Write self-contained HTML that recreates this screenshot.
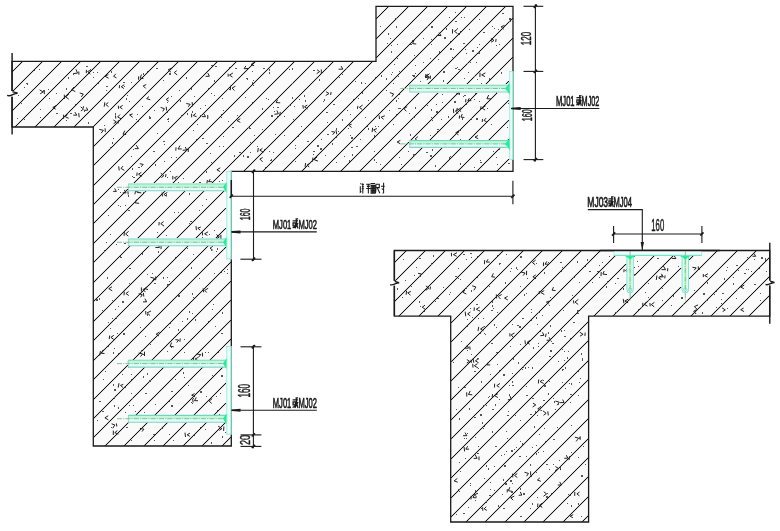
<!DOCTYPE html>
<html><head><meta charset="utf-8"><style>
html,body{margin:0;padding:0;background:#fff;}
svg{display:block;}
text{font-family:"Liberation Sans",sans-serif;}
</style></head><body>
<svg width="780" height="531" viewBox="0 0 780 531">
<rect width="780" height="531" fill="#fff"/>
<defs>
<clipPath id="cL"><polygon points="12,61.4 376,61.4 376,6.3 513,6.3 513,171.3 231.3,171.3 231.3,446 93.3,446 93.3,127 12,127"/></clipPath>
<clipPath id="cR"><polygon points="394.3,250.5 769.7,250.5 769.7,316.1 588.6,316.1 588.6,522 450.7,522 450.7,316.1 394.3,316.1"/></clipPath>
</defs>
<polygon points="12,61.4 376,61.4 376,6.3 513,6.3 513,171.3 231.3,171.3 231.3,446 93.3,446 93.3,127 12,127" fill="#fafafa"/><polygon points="394.3,250.5 769.7,250.5 769.7,316.1 588.6,316.1 588.6,522 450.7,522 450.7,316.1 394.3,316.1" fill="#fafafa"/>
<defs><path id="hp" d="M12,72v-1h1v-1h1v-1h1v-1h1v-1h1v-1h1v-1h1v-1h1v-1h1v-1h1v-1h1v1h-1v1h-1v1h-1v1h-1v1h-1v1h-1v1h-1v1h-1v1h-1v1h-1v1h-1zM12,92v-1h1v-1h1v-1h1v-1h1v-1h1v-1h1v-1h1v-1h1v-1h1v-1h1v-1h1v-1h1v-1h1v-1h1v-1h1v-1h1v-1h1v-1h1v-1h1v-1h1v-1h1v-1h1v-1h1v-1h1v-1h1v-1h1v-1h1v-1h1v-1h1v-1h1v-1h1v1h-1v1h-1v1h-1v1h-1v1h-1v1h-1v1h-1v1h-1v1h-1v1h-1v1h-1v1h-1v1h-1v1h-1v1h-1v1h-1v1h-1v1h-1v1h-1v1h-1v1h-1v1h-1v1h-1v1h-1v1h-1v1h-1v1h-1v1h-1v1h-1v1h-1v1h-1zM12,111v-1h1v-1h1v-1h1v-1h1v-1h1v-1h1v-1h1v-1h1v-1h1v-1h1v-1h1v-1h1v-1h1v-1h1v-1h1v-1h1v-1h1v-1h1v-1h1v-1h1v-1h1v-1h1v-1h1v-1h1v-1h1v-1h1v-1h1v-1h1v-1h1v-1h1v-1h1v-1h1v-1h1v-1h1v-1h1v-1h1v-1h1v-1h1v-1h1v-1h1v-1h1v-1h1v-1h1v-1h1v-1h1v-1h1v-1h1v-1h1v-1h1v-1h1v1h-1v1h-1v1h-1v1h-1v1h-1v1h-1v1h-1v1h-1v1h-1v1h-1v1h-1v1h-1v1h-1v1h-1v1h-1v1h-1v1h-1v1h-1v1h-1v1h-1v1h-1v1h-1v1h-1v1h-1v1h-1v1h-1v1h-1v1h-1v1h-1v1h-1v1h-1v1h-1v1h-1v1h-1v1h-1v1h-1v1h-1v1h-1v1h-1v1h-1v1h-1v1h-1v1h-1v1h-1v1h-1v1h-1v1h-1v1h-1v1h-1v1h-1zM15,127v-1h1v-1h1v-1h1v-1h1v-1h1v-1h1v-1h1v-1h1v-1h1v-1h1v-1h1v-1h1v-1h1v-1h1v-1h1v-1h1v-1h1v-1h1v-1h1v-1h1v-1h1v-1h1v-1h1v-1h1v-1h1v-1h1v-1h1v-1h1v-1h1v-1h1v-1h1v-1h1v-1h1v-1h1v-1h1v-1h1v-1h1v-1h1v-1h1v-1h1v-1h1v-1h1v-1h1v-1h1v-1h1v-1h1v-1h1v-1h1v-1h1v-1h1v-1h1v-1h1v-1h1v-1h1v-1h1v-1h1v-1h1v-1h1v-1h1v-1h1v-1h1v-1h1v-1h1v-1h1v-1h1v-1h1v1h-1v1h-1v1h-1v1h-1v1h-1v1h-1v1h-1v1h-1v1h-1v1h-1v1h-1v1h-1v1h-1v1h-1v1h-1v1h-1v1h-1v1h-1v1h-1v1h-1v1h-1v1h-1v1h-1v1h-1v1h-1v1h-1v1h-1v1h-1v1h-1v1h-1v1h-1v1h-1v1h-1v1h-1v1h-1v1h-1v1h-1v1h-1v1h-1v1h-1v1h-1v1h-1v1h-1v1h-1v1h-1v1h-1v1h-1v1h-1v1h-1v1h-1v1h-1v1h-1v1h-1v1h-1v1h-1v1h-1v1h-1v1h-1v1h-1v1h-1v1h-1v1h-1v1h-1v1h-1v1h-1v1h-1zM35,127v-1h1v-1h1v-1h1v-1h1v-1h1v-1h1v-1h1v-1h1v-1h1v-1h1v-1h1v-1h1v-1h1v-1h1v-1h1v-1h1v-1h1v-1h1v-1h1v-1h1v-1h1v-1h1v-1h1v-1h1v-1h1v-1h1v-1h1v-1h1v-1h1v-1h1v-1h1v-1h1v-1h1v-1h1v-1h1v-1h1v-1h1v-1h1v-1h1v-1h1v-1h1v-1h1v-1h1v-1h1v-1h1v-1h1v-1h1v-1h1v-1h1v-1h1v-1h1v-1h1v-1h1v-1h1v-1h1v-1h1v-1h1v-1h1v-1h1v-1h1v-1h1v-1h1v-1h1v-1h1v-1h1v-1h1v1h-1v1h-1v1h-1v1h-1v1h-1v1h-1v1h-1v1h-1v1h-1v1h-1v1h-1v1h-1v1h-1v1h-1v1h-1v1h-1v1h-1v1h-1v1h-1v1h-1v1h-1v1h-1v1h-1v1h-1v1h-1v1h-1v1h-1v1h-1v1h-1v1h-1v1h-1v1h-1v1h-1v1h-1v1h-1v1h-1v1h-1v1h-1v1h-1v1h-1v1h-1v1h-1v1h-1v1h-1v1h-1v1h-1v1h-1v1h-1v1h-1v1h-1v1h-1v1h-1v1h-1v1h-1v1h-1v1h-1v1h-1v1h-1v1h-1v1h-1v1h-1v1h-1v1h-1v1h-1v1h-1v1h-1zM54,127v-1h1v-1h1v-1h1v-1h1v-1h1v-1h1v-1h1v-1h1v-1h1v-1h1v-1h1v-1h1v-1h1v-1h1v-1h1v-1h1v-1h1v-1h1v-1h1v-1h1v-1h1v-1h1v-1h1v-1h1v-1h1v-1h1v-1h1v-1h1v-1h1v-1h1v-1h1v-1h1v-1h1v-1h1v-1h1v-1h1v-1h1v-1h1v-1h1v-1h1v-1h1v-1h1v-1h1v-1h1v-1h1v-1h1v-1h1v-1h1v-1h1v-1h1v-1h1v-1h1v-1h1v-1h1v-1h1v-1h1v-1h1v-1h1v-1h1v-1h1v-1h1v-1h1v-1h1v-1h1v-1h1v-1h1v1h-1v1h-1v1h-1v1h-1v1h-1v1h-1v1h-1v1h-1v1h-1v1h-1v1h-1v1h-1v1h-1v1h-1v1h-1v1h-1v1h-1v1h-1v1h-1v1h-1v1h-1v1h-1v1h-1v1h-1v1h-1v1h-1v1h-1v1h-1v1h-1v1h-1v1h-1v1h-1v1h-1v1h-1v1h-1v1h-1v1h-1v1h-1v1h-1v1h-1v1h-1v1h-1v1h-1v1h-1v1h-1v1h-1v1h-1v1h-1v1h-1v1h-1v1h-1v1h-1v1h-1v1h-1v1h-1v1h-1v1h-1v1h-1v1h-1v1h-1v1h-1v1h-1v1h-1v1h-1v1h-1v1h-1zM74,127v-1h1v-1h1v-1h1v-1h1v-1h1v-1h1v-1h1v-1h1v-1h1v-1h1v-1h1v-1h1v-1h1v-1h1v-1h1v-1h1v-1h1v-1h1v-1h1v-1h1v-1h1v-1h1v-1h1v-1h1v-1h1v-1h1v-1h1v-1h1v-1h1v-1h1v-1h1v-1h1v-1h1v-1h1v-1h1v-1h1v-1h1v-1h1v-1h1v-1h1v-1h1v-1h1v-1h1v-1h1v-1h1v-1h1v-1h1v-1h1v-1h1v-1h1v-1h1v-1h1v-1h1v-1h1v-1h1v-1h1v-1h1v-1h1v-1h1v-1h1v-1h1v-1h1v-1h1v-1h1v-1h1v-1h1v1h-1v1h-1v1h-1v1h-1v1h-1v1h-1v1h-1v1h-1v1h-1v1h-1v1h-1v1h-1v1h-1v1h-1v1h-1v1h-1v1h-1v1h-1v1h-1v1h-1v1h-1v1h-1v1h-1v1h-1v1h-1v1h-1v1h-1v1h-1v1h-1v1h-1v1h-1v1h-1v1h-1v1h-1v1h-1v1h-1v1h-1v1h-1v1h-1v1h-1v1h-1v1h-1v1h-1v1h-1v1h-1v1h-1v1h-1v1h-1v1h-1v1h-1v1h-1v1h-1v1h-1v1h-1v1h-1v1h-1v1h-1v1h-1v1h-1v1h-1v1h-1v1h-1v1h-1v1h-1v1h-1v1h-1zM93,127v-1h1v-1h1v-1h1v-1h1v-1h1v-1h1v-1h1v-1h1v-1h1v-1h1v-1h1v-1h1v-1h1v-1h1v-1h1v-1h1v-1h1v-1h1v-1h1v-1h1v-1h1v-1h1v-1h1v-1h1v-1h1v-1h1v-1h1v-1h1v-1h1v-1h1v-1h1v-1h1v-1h1v-1h1v-1h1v-1h1v-1h1v-1h1v-1h1v-1h1v-1h1v-1h1v-1h1v-1h1v-1h1v-1h1v-1h1v-1h1v-1h1v-1h1v-1h1v-1h1v-1h1v-1h1v-1h1v-1h1v-1h1v-1h1v-1h1v-1h1v-1h1v-1h1v-1h1v-1h1v-1h1v-1h1v1h-1v1h-1v1h-1v1h-1v1h-1v1h-1v1h-1v1h-1v1h-1v1h-1v1h-1v1h-1v1h-1v1h-1v1h-1v1h-1v1h-1v1h-1v1h-1v1h-1v1h-1v1h-1v1h-1v1h-1v1h-1v1h-1v1h-1v1h-1v1h-1v1h-1v1h-1v1h-1v1h-1v1h-1v1h-1v1h-1v1h-1v1h-1v1h-1v1h-1v1h-1v1h-1v1h-1v1h-1v1h-1v1h-1v1h-1v1h-1v1h-1v1h-1v1h-1v1h-1v1h-1v1h-1v1h-1v1h-1v1h-1v1h-1v1h-1v1h-1v1h-1v1h-1v1h-1v1h-1v1h-1v1h-1zM93,147v-1h1v-1h1v-1h1v-1h1v-1h1v-1h1v-1h1v-1h1v-1h1v-1h1v-1h1v-1h1v-1h1v-1h1v-1h1v-1h1v-1h1v-1h1v-1h1v-1h1v-1h1v-1h1v-1h1v-1h1v-1h1v-1h1v-1h1v-1h1v-1h1v-1h1v-1h1v-1h1v-1h1v-1h1v-1h1v-1h1v-1h1v-1h1v-1h1v-1h1v-1h1v-1h1v-1h1v-1h1v-1h1v-1h1v-1h1v-1h1v-1h1v-1h1v-1h1v-1h1v-1h1v-1h1v-1h1v-1h1v-1h1v-1h1v-1h1v-1h1v-1h1v-1h1v-1h1v-1h1v-1h1v-1h1v-1h1v-1h1v-1h1v-1h1v-1h1v-1h1v-1h1v-1h1v-1h1v-1h1v-1h1v-1h1v-1h1v-1h1v-1h1v-1h1v-1h1v-1h1v-1h1v-1h1v1h-1v1h-1v1h-1v1h-1v1h-1v1h-1v1h-1v1h-1v1h-1v1h-1v1h-1v1h-1v1h-1v1h-1v1h-1v1h-1v1h-1v1h-1v1h-1v1h-1v1h-1v1h-1v1h-1v1h-1v1h-1v1h-1v1h-1v1h-1v1h-1v1h-1v1h-1v1h-1v1h-1v1h-1v1h-1v1h-1v1h-1v1h-1v1h-1v1h-1v1h-1v1h-1v1h-1v1h-1v1h-1v1h-1v1h-1v1h-1v1h-1v1h-1v1h-1v1h-1v1h-1v1h-1v1h-1v1h-1v1h-1v1h-1v1h-1v1h-1v1h-1v1h-1v1h-1v1h-1v1h-1v1h-1v1h-1v1h-1v1h-1v1h-1v1h-1v1h-1v1h-1v1h-1v1h-1v1h-1v1h-1v1h-1v1h-1v1h-1v1h-1v1h-1v1h-1v1h-1v1h-1v1h-1zM93,166v-1h1v-1h1v-1h1v-1h1v-1h1v-1h1v-1h1v-1h1v-1h1v-1h1v-1h1v-1h1v-1h1v-1h1v-1h1v-1h1v-1h1v-1h1v-1h1v-1h1v-1h1v-1h1v-1h1v-1h1v-1h1v-1h1v-1h1v-1h1v-1h1v-1h1v-1h1v-1h1v-1h1v-1h1v-1h1v-1h1v-1h1v-1h1v-1h1v-1h1v-1h1v-1h1v-1h1v-1h1v-1h1v-1h1v-1h1v-1h1v-1h1v-1h1v-1h1v-1h1v-1h1v-1h1v-1h1v-1h1v-1h1v-1h1v-1h1v-1h1v-1h1v-1h1v-1h1v-1h1v-1h1v-1h1v-1h1v-1h1v-1h1v-1h1v-1h1v-1h1v-1h1v-1h1v-1h1v-1h1v-1h1v-1h1v-1h1v-1h1v-1h1v-1h1v-1h1v-1h1v-1h1v-1h1v-1h1v-1h1v-1h1v-1h1v-1h1v-1h1v-1h1v-1h1v-1h1v-1h1v-1h1v-1h1v-1h1v-1h1v-1h1v-1h1v-1h1v-1h1v-1h1v1h-1v1h-1v1h-1v1h-1v1h-1v1h-1v1h-1v1h-1v1h-1v1h-1v1h-1v1h-1v1h-1v1h-1v1h-1v1h-1v1h-1v1h-1v1h-1v1h-1v1h-1v1h-1v1h-1v1h-1v1h-1v1h-1v1h-1v1h-1v1h-1v1h-1v1h-1v1h-1v1h-1v1h-1v1h-1v1h-1v1h-1v1h-1v1h-1v1h-1v1h-1v1h-1v1h-1v1h-1v1h-1v1h-1v1h-1v1h-1v1h-1v1h-1v1h-1v1h-1v1h-1v1h-1v1h-1v1h-1v1h-1v1h-1v1h-1v1h-1v1h-1v1h-1v1h-1v1h-1v1h-1v1h-1v1h-1v1h-1v1h-1v1h-1v1h-1v1h-1v1h-1v1h-1v1h-1v1h-1v1h-1v1h-1v1h-1v1h-1v1h-1v1h-1v1h-1v1h-1v1h-1v1h-1v1h-1v1h-1v1h-1v1h-1v1h-1v1h-1v1h-1v1h-1v1h-1v1h-1v1h-1v1h-1v1h-1v1h-1v1h-1v1h-1v1h-1v1h-1v1h-1zM93,186v-1h1v-1h1v-1h1v-1h1v-1h1v-1h1v-1h1v-1h1v-1h1v-1h1v-1h1v-1h1v-1h1v-1h1v-1h1v-1h1v-1h1v-1h1v-1h1v-1h1v-1h1v-1h1v-1h1v-1h1v-1h1v-1h1v-1h1v-1h1v-1h1v-1h1v-1h1v-1h1v-1h1v-1h1v-1h1v-1h1v-1h1v-1h1v-1h1v-1h1v-1h1v-1h1v-1h1v-1h1v-1h1v-1h1v-1h1v-1h1v-1h1v-1h1v-1h1v-1h1v-1h1v-1h1v-1h1v-1h1v-1h1v-1h1v-1h1v-1h1v-1h1v-1h1v-1h1v-1h1v-1h1v-1h1v-1h1v-1h1v-1h1v-1h1v-1h1v-1h1v-1h1v-1h1v-1h1v-1h1v-1h1v-1h1v-1h1v-1h1v-1h1v-1h1v-1h1v-1h1v-1h1v-1h1v-1h1v-1h1v-1h1v-1h1v-1h1v-1h1v-1h1v-1h1v-1h1v-1h1v-1h1v-1h1v-1h1v-1h1v-1h1v-1h1v-1h1v-1h1v-1h1v-1h1v-1h1v-1h1v-1h1v-1h1v-1h1v-1h1v-1h1v-1h1v-1h1v-1h1v-1h1v-1h1v-1h1v-1h1v-1h1v-1h1v-1h1v-1h1v-1h1v1h-1v1h-1v1h-1v1h-1v1h-1v1h-1v1h-1v1h-1v1h-1v1h-1v1h-1v1h-1v1h-1v1h-1v1h-1v1h-1v1h-1v1h-1v1h-1v1h-1v1h-1v1h-1v1h-1v1h-1v1h-1v1h-1v1h-1v1h-1v1h-1v1h-1v1h-1v1h-1v1h-1v1h-1v1h-1v1h-1v1h-1v1h-1v1h-1v1h-1v1h-1v1h-1v1h-1v1h-1v1h-1v1h-1v1h-1v1h-1v1h-1v1h-1v1h-1v1h-1v1h-1v1h-1v1h-1v1h-1v1h-1v1h-1v1h-1v1h-1v1h-1v1h-1v1h-1v1h-1v1h-1v1h-1v1h-1v1h-1v1h-1v1h-1v1h-1v1h-1v1h-1v1h-1v1h-1v1h-1v1h-1v1h-1v1h-1v1h-1v1h-1v1h-1v1h-1v1h-1v1h-1v1h-1v1h-1v1h-1v1h-1v1h-1v1h-1v1h-1v1h-1v1h-1v1h-1v1h-1v1h-1v1h-1v1h-1v1h-1v1h-1v1h-1v1h-1v1h-1v1h-1v1h-1v1h-1v1h-1v1h-1v1h-1v1h-1v1h-1v1h-1v1h-1v1h-1v1h-1v1h-1v1h-1v1h-1v1h-1v1h-1v1h-1v1h-1v1h-1v1h-1zM93,205v-1h1v-1h1v-1h1v-1h1v-1h1v-1h1v-1h1v-1h1v-1h1v-1h1v-1h1v-1h1v-1h1v-1h1v-1h1v-1h1v-1h1v-1h1v-1h1v-1h1v-1h1v-1h1v-1h1v-1h1v-1h1v-1h1v-1h1v-1h1v-1h1v-1h1v-1h1v-1h1v-1h1v-1h1v-1h1v-1h1v-1h1v-1h1v-1h1v-1h1v-1h1v-1h1v-1h1v-1h1v-1h1v-1h1v-1h1v-1h1v-1h1v-1h1v-1h1v-1h1v-1h1v-1h1v-1h1v-1h1v-1h1v-1h1v-1h1v-1h1v-1h1v-1h1v-1h1v-1h1v-1h1v-1h1v-1h1v-1h1v-1h1v-1h1v-1h1v-1h1v-1h1v-1h1v-1h1v-1h1v-1h1v-1h1v-1h1v-1h1v-1h1v-1h1v-1h1v-1h1v-1h1v-1h1v-1h1v-1h1v-1h1v-1h1v-1h1v-1h1v-1h1v-1h1v-1h1v-1h1v-1h1v-1h1v-1h1v-1h1v-1h1v-1h1v-1h1v-1h1v-1h1v-1h1v-1h1v-1h1v-1h1v-1h1v-1h1v-1h1v-1h1v-1h1v-1h1v-1h1v-1h1v-1h1v-1h1v-1h1v-1h1v-1h1v-1h1v-1h1v-1h1v-1h1v-1h1v-1h1v-1h1v-1h1v-1h1v-1h1v-1h1v-1h1v-1h1v-1h1v-1h1v-1h1v-1h1v-1h1v-1h1v-1h1v-1h1v-1h1v1h-1v1h-1v1h-1v1h-1v1h-1v1h-1v1h-1v1h-1v1h-1v1h-1v1h-1v1h-1v1h-1v1h-1v1h-1v1h-1v1h-1v1h-1v1h-1v1h-1v1h-1v1h-1v1h-1v1h-1v1h-1v1h-1v1h-1v1h-1v1h-1v1h-1v1h-1v1h-1v1h-1v1h-1v1h-1v1h-1v1h-1v1h-1v1h-1v1h-1v1h-1v1h-1v1h-1v1h-1v1h-1v1h-1v1h-1v1h-1v1h-1v1h-1v1h-1v1h-1v1h-1v1h-1v1h-1v1h-1v1h-1v1h-1v1h-1v1h-1v1h-1v1h-1v1h-1v1h-1v1h-1v1h-1v1h-1v1h-1v1h-1v1h-1v1h-1v1h-1v1h-1v1h-1v1h-1v1h-1v1h-1v1h-1v1h-1v1h-1v1h-1v1h-1v1h-1v1h-1v1h-1v1h-1v1h-1v1h-1v1h-1v1h-1v1h-1v1h-1v1h-1v1h-1v1h-1v1h-1v1h-1v1h-1v1h-1v1h-1v1h-1v1h-1v1h-1v1h-1v1h-1v1h-1v1h-1v1h-1v1h-1v1h-1v1h-1v1h-1v1h-1v1h-1v1h-1v1h-1v1h-1v1h-1v1h-1v1h-1v1h-1v1h-1v1h-1v1h-1v1h-1v1h-1v1h-1v1h-1v1h-1v1h-1v1h-1v1h-1v1h-1v1h-1v1h-1v1h-1v1h-1v1h-1v1h-1v1h-1v1h-1v1h-1v1h-1v1h-1zM93,224v-1h1v-1h1v-1h1v-1h1v-1h1v-1h1v-1h1v-1h1v-1h1v-1h1v-1h1v-1h1v-1h1v-1h1v-1h1v-1h1v-1h1v-1h1v-1h1v-1h1v-1h1v-1h1v-1h1v-1h1v-1h1v-1h1v-1h1v-1h1v-1h1v-1h1v-1h1v-1h1v-1h1v-1h1v-1h1v1h-1v1h-1v1h-1v1h-1v1h-1v1h-1v1h-1v1h-1v1h-1v1h-1v1h-1v1h-1v1h-1v1h-1v1h-1v1h-1v1h-1v1h-1v1h-1v1h-1v1h-1v1h-1v1h-1v1h-1v1h-1v1h-1v1h-1v1h-1v1h-1v1h-1v1h-1v1h-1v1h-1v1h-1v1h-1zM134,183v-1h1v-1h1v-1h1v-1h1v-1h1v-1h1v-1h1v-1h1v-1h1v-1h1v-1h1v-1h1v-1h1v-1h1v-1h1v-1h1v-1h1v-1h1v-1h1v-1h1v-1h1v-1h1v-1h1v-1h1v-1h1v-1h1v-1h1v-1h1v-1h1v-1h1v-1h1v-1h1v-1h1v-1h1v-1h1v-1h1v-1h1v-1h1v-1h1v-1h1v-1h1v-1h1v-1h1v-1h1v-1h1v-1h1v-1h1v-1h1v-1h1v-1h1v-1h1v-1h1v-1h1v-1h1v-1h1v-1h1v-1h1v-1h1v-1h1v-1h1v-1h1v-1h1v-1h1v-1h1v-1h1v-1h1v-1h1v-1h1v-1h1v-1h1v-1h1v-1h1v-1h1v-1h1v-1h1v-1h1v-1h1v-1h1v-1h1v-1h1v-1h1v-1h1v-1h1v-1h1v-1h1v-1h1v-1h1v-1h1v-1h1v-1h1v-1h1v-1h1v-1h1v-1h1v-1h1v-1h1v-1h1v-1h1v-1h1v-1h1v-1h1v-1h1v-1h1v-1h1v-1h1v-1h1v-1h1v-1h1v-1h1v-1h1v-1h1v-1h1v-1h1v-1h1v-1h1v-1h1v-1h1v-1h1v-1h1v-1h1v-1h1v-1h1v1h-1v1h-1v1h-1v1h-1v1h-1v1h-1v1h-1v1h-1v1h-1v1h-1v1h-1v1h-1v1h-1v1h-1v1h-1v1h-1v1h-1v1h-1v1h-1v1h-1v1h-1v1h-1v1h-1v1h-1v1h-1v1h-1v1h-1v1h-1v1h-1v1h-1v1h-1v1h-1v1h-1v1h-1v1h-1v1h-1v1h-1v1h-1v1h-1v1h-1v1h-1v1h-1v1h-1v1h-1v1h-1v1h-1v1h-1v1h-1v1h-1v1h-1v1h-1v1h-1v1h-1v1h-1v1h-1v1h-1v1h-1v1h-1v1h-1v1h-1v1h-1v1h-1v1h-1v1h-1v1h-1v1h-1v1h-1v1h-1v1h-1v1h-1v1h-1v1h-1v1h-1v1h-1v1h-1v1h-1v1h-1v1h-1v1h-1v1h-1v1h-1v1h-1v1h-1v1h-1v1h-1v1h-1v1h-1v1h-1v1h-1v1h-1v1h-1v1h-1v1h-1v1h-1v1h-1v1h-1v1h-1v1h-1v1h-1v1h-1v1h-1v1h-1v1h-1v1h-1v1h-1v1h-1v1h-1v1h-1v1h-1v1h-1v1h-1v1h-1v1h-1v1h-1v1h-1v1h-1v1h-1v1h-1v1h-1v1h-1v1h-1v1h-1zM93,244v-1h1v-1h1v-1h1v-1h1v-1h1v-1h1v-1h1v-1h1v-1h1v-1h1v-1h1v-1h1v-1h1v-1h1v-1h1v-1h1v-1h1v-1h1v-1h1v-1h1v-1h1v-1h1v-1h1v-1h1v-1h1v-1h1v-1h1v-1h1v-1h1v-1h1v-1h1v-1h1v-1h1v-1h1v-1h1v-1h1v-1h1v-1h1v-1h1v-1h1v-1h1v-1h1v-1h1v-1h1v-1h1v-1h1v-1h1v-1h1v-1h1v-1h1v-1h1v-1h1v-1h1v1h-1v1h-1v1h-1v1h-1v1h-1v1h-1v1h-1v1h-1v1h-1v1h-1v1h-1v1h-1v1h-1v1h-1v1h-1v1h-1v1h-1v1h-1v1h-1v1h-1v1h-1v1h-1v1h-1v1h-1v1h-1v1h-1v1h-1v1h-1v1h-1v1h-1v1h-1v1h-1v1h-1v1h-1v1h-1v1h-1v1h-1v1h-1v1h-1v1h-1v1h-1v1h-1v1h-1v1h-1v1h-1v1h-1v1h-1v1h-1v1h-1v1h-1v1h-1v1h-1v1h-1zM154,183v-1h1v-1h1v-1h1v-1h1v-1h1v-1h1v-1h1v-1h1v-1h1v-1h1v-1h1v-1h1v-1h1v-1h1v-1h1v-1h1v-1h1v-1h1v-1h1v-1h1v-1h1v-1h1v-1h1v-1h1v-1h1v-1h1v-1h1v-1h1v-1h1v-1h1v-1h1v-1h1v-1h1v-1h1v-1h1v-1h1v-1h1v-1h1v-1h1v-1h1v-1h1v-1h1v-1h1v-1h1v-1h1v-1h1v-1h1v-1h1v-1h1v-1h1v-1h1v-1h1v-1h1v-1h1v-1h1v-1h1v-1h1v-1h1v-1h1v-1h1v-1h1v-1h1v-1h1v-1h1v-1h1v-1h1v-1h1v-1h1v-1h1v-1h1v-1h1v-1h1v-1h1v-1h1v-1h1v-1h1v-1h1v-1h1v-1h1v-1h1v-1h1v-1h1v-1h1v-1h1v-1h1v-1h1v-1h1v-1h1v-1h1v-1h1v-1h1v-1h1v-1h1v-1h1v-1h1v-1h1v-1h1v-1h1v-1h1v-1h1v-1h1v-1h1v-1h1v-1h1v-1h1v-1h1v-1h1v-1h1v-1h1v-1h1v-1h1v-1h1v-1h1v-1h1v-1h1v-1h1v-1h1v-1h1v-1h1v-1h1v-1h1v-1h1v1h-1v1h-1v1h-1v1h-1v1h-1v1h-1v1h-1v1h-1v1h-1v1h-1v1h-1v1h-1v1h-1v1h-1v1h-1v1h-1v1h-1v1h-1v1h-1v1h-1v1h-1v1h-1v1h-1v1h-1v1h-1v1h-1v1h-1v1h-1v1h-1v1h-1v1h-1v1h-1v1h-1v1h-1v1h-1v1h-1v1h-1v1h-1v1h-1v1h-1v1h-1v1h-1v1h-1v1h-1v1h-1v1h-1v1h-1v1h-1v1h-1v1h-1v1h-1v1h-1v1h-1v1h-1v1h-1v1h-1v1h-1v1h-1v1h-1v1h-1v1h-1v1h-1v1h-1v1h-1v1h-1v1h-1v1h-1v1h-1v1h-1v1h-1v1h-1v1h-1v1h-1v1h-1v1h-1v1h-1v1h-1v1h-1v1h-1v1h-1v1h-1v1h-1v1h-1v1h-1v1h-1v1h-1v1h-1v1h-1v1h-1v1h-1v1h-1v1h-1v1h-1v1h-1v1h-1v1h-1v1h-1v1h-1v1h-1v1h-1v1h-1v1h-1v1h-1v1h-1v1h-1v1h-1v1h-1v1h-1v1h-1v1h-1v1h-1v1h-1v1h-1v1h-1v1h-1v1h-1v1h-1v1h-1v1h-1v1h-1v1h-1v1h-1zM93,263v-1h1v-1h1v-1h1v-1h1v-1h1v-1h1v-1h1v-1h1v-1h1v-1h1v-1h1v-1h1v-1h1v-1h1v-1h1v-1h1v-1h1v-1h1v-1h1v-1h1v-1h1v-1h1v-1h1v-1h1v-1h1v-1h1v-1h1v-1h1v-1h1v-1h1v-1h1v-1h1v-1h1v-1h1v-1h1v-1h1v-1h1v-1h1v-1h1v-1h1v-1h1v-1h1v-1h1v-1h1v-1h1v-1h1v-1h1v-1h1v-1h1v-1h1v-1h1v-1h1v-1h1v-1h1v-1h1v-1h1v-1h1v-1h1v-1h1v-1h1v-1h1v-1h1v-1h1v-1h1v-1h1v-1h1v-1h1v-1h1v-1h1v-1h1v-1h1v-1h1v1h-1v1h-1v1h-1v1h-1v1h-1v1h-1v1h-1v1h-1v1h-1v1h-1v1h-1v1h-1v1h-1v1h-1v1h-1v1h-1v1h-1v1h-1v1h-1v1h-1v1h-1v1h-1v1h-1v1h-1v1h-1v1h-1v1h-1v1h-1v1h-1v1h-1v1h-1v1h-1v1h-1v1h-1v1h-1v1h-1v1h-1v1h-1v1h-1v1h-1v1h-1v1h-1v1h-1v1h-1v1h-1v1h-1v1h-1v1h-1v1h-1v1h-1v1h-1v1h-1v1h-1v1h-1v1h-1v1h-1v1h-1v1h-1v1h-1v1h-1v1h-1v1h-1v1h-1v1h-1v1h-1v1h-1v1h-1v1h-1v1h-1v1h-1v1h-1v1h-1zM173,183v-1h1v-1h1v-1h1v-1h1v-1h1v-1h1v-1h1v-1h1v-1h1v-1h1v-1h1v-1h1v-1h1v-1h1v-1h1v-1h1v-1h1v-1h1v-1h1v-1h1v-1h1v-1h1v-1h1v-1h1v-1h1v-1h1v-1h1v-1h1v-1h1v-1h1v-1h1v-1h1v-1h1v-1h1v-1h1v-1h1v-1h1v-1h1v-1h1v-1h1v-1h1v-1h1v-1h1v-1h1v-1h1v-1h1v-1h1v-1h1v-1h1v-1h1v-1h1v-1h1v-1h1v-1h1v-1h1v-1h1v-1h1v-1h1v-1h1v-1h1v-1h1v-1h1v-1h1v-1h1v-1h1v-1h1v-1h1v-1h1v-1h1v-1h1v-1h1v-1h1v-1h1v-1h1v-1h1v-1h1v-1h1v-1h1v-1h1v-1h1v-1h1v-1h1v-1h1v-1h1v-1h1v-1h1v-1h1v-1h1v-1h1v-1h1v-1h1v-1h1v-1h1v-1h1v-1h1v-1h1v-1h1v-1h1v-1h1v-1h1v-1h1v-1h1v-1h1v-1h1v-1h1v-1h1v-1h1v-1h1v-1h1v-1h1v-1h1v-1h1v-1h1v-1h1v-1h1v-1h1v-1h1v-1h1v-1h1v-1h1v-1h1v-1h1v1h-1v1h-1v1h-1v1h-1v1h-1v1h-1v1h-1v1h-1v1h-1v1h-1v1h-1v1h-1v1h-1v1h-1v1h-1v1h-1v1h-1v1h-1v1h-1v1h-1v1h-1v1h-1v1h-1v1h-1v1h-1v1h-1v1h-1v1h-1v1h-1v1h-1v1h-1v1h-1v1h-1v1h-1v1h-1v1h-1v1h-1v1h-1v1h-1v1h-1v1h-1v1h-1v1h-1v1h-1v1h-1v1h-1v1h-1v1h-1v1h-1v1h-1v1h-1v1h-1v1h-1v1h-1v1h-1v1h-1v1h-1v1h-1v1h-1v1h-1v1h-1v1h-1v1h-1v1h-1v1h-1v1h-1v1h-1v1h-1v1h-1v1h-1v1h-1v1h-1v1h-1v1h-1v1h-1v1h-1v1h-1v1h-1v1h-1v1h-1v1h-1v1h-1v1h-1v1h-1v1h-1v1h-1v1h-1v1h-1v1h-1v1h-1v1h-1v1h-1v1h-1v1h-1v1h-1v1h-1v1h-1v1h-1v1h-1v1h-1v1h-1v1h-1v1h-1v1h-1v1h-1v1h-1v1h-1v1h-1v1h-1v1h-1v1h-1v1h-1v1h-1v1h-1v1h-1v1h-1v1h-1v1h-1v1h-1v1h-1v1h-1v1h-1zM93,283v-1h1v-1h1v-1h1v-1h1v-1h1v-1h1v-1h1v-1h1v-1h1v-1h1v-1h1v-1h1v-1h1v-1h1v-1h1v-1h1v-1h1v-1h1v-1h1v-1h1v-1h1v-1h1v-1h1v-1h1v-1h1v-1h1v-1h1v-1h1v-1h1v-1h1v-1h1v-1h1v-1h1v-1h1v-1h1v-1h1v-1h1v1h-1v1h-1v1h-1v1h-1v1h-1v1h-1v1h-1v1h-1v1h-1v1h-1v1h-1v1h-1v1h-1v1h-1v1h-1v1h-1v1h-1v1h-1v1h-1v1h-1v1h-1v1h-1v1h-1v1h-1v1h-1v1h-1v1h-1v1h-1v1h-1v1h-1v1h-1v1h-1v1h-1v1h-1v1h-1v1h-1v1h-1zM138,238v-1h1v-1h1v-1h1v-1h1v-1h1v-1h1v-1h1v-1h1v-1h1v-1h1v-1h1v-1h1v-1h1v-1h1v-1h1v-1h1v-1h1v-1h1v-1h1v-1h1v-1h1v-1h1v-1h1v-1h1v-1h1v-1h1v-1h1v-1h1v-1h1v-1h1v-1h1v-1h1v-1h1v-1h1v-1h1v-1h1v-1h1v-1h1v-1h1v-1h1v-1h1v-1h1v-1h1v-1h1v-1h1v-1h1v-1h1v1h-1v1h-1v1h-1v1h-1v1h-1v1h-1v1h-1v1h-1v1h-1v1h-1v1h-1v1h-1v1h-1v1h-1v1h-1v1h-1v1h-1v1h-1v1h-1v1h-1v1h-1v1h-1v1h-1v1h-1v1h-1v1h-1v1h-1v1h-1v1h-1v1h-1v1h-1v1h-1v1h-1v1h-1v1h-1v1h-1v1h-1v1h-1v1h-1v1h-1v1h-1v1h-1v1h-1v1h-1v1h-1v1h-1v1h-1zM193,183v-1h1v-1h1v-1h1v-1h1v-1h1v-1h1v-1h1v-1h1v-1h1v-1h1v-1h1v-1h1v-1h1v-1h1v-1h1v-1h1v-1h1v-1h1v-1h1v-1h1v-1h1v-1h1v-1h1v-1h1v-1h1v-1h1v-1h1v-1h1v-1h1v-1h1v-1h1v-1h1v-1h1v-1h1v-1h1v-1h1v-1h1v-1h1v-1h1v-1h1v-1h1v-1h1v-1h1v-1h1v-1h1v-1h1v-1h1v-1h1v-1h1v-1h1v-1h1v-1h1v-1h1v-1h1v-1h1v-1h1v-1h1v-1h1v-1h1v-1h1v-1h1v-1h1v-1h1v-1h1v-1h1v-1h1v-1h1v-1h1v-1h1v-1h1v-1h1v-1h1v-1h1v-1h1v-1h1v-1h1v-1h1v-1h1v-1h1v-1h1v-1h1v-1h1v-1h1v-1h1v-1h1v-1h1v-1h1v-1h1v-1h1v-1h1v-1h1v-1h1v-1h1v-1h1v-1h1v-1h1v-1h1v-1h1v-1h1v-1h1v-1h1v-1h1v-1h1v-1h1v-1h1v-1h1v-1h1v-1h1v-1h1v-1h1v-1h1v-1h1v-1h1v-1h1v-1h1v-1h1v-1h1v-1h1v-1h1v-1h1v-1h1v-1h1v1h-1v1h-1v1h-1v1h-1v1h-1v1h-1v1h-1v1h-1v1h-1v1h-1v1h-1v1h-1v1h-1v1h-1v1h-1v1h-1v1h-1v1h-1v1h-1v1h-1v1h-1v1h-1v1h-1v1h-1v1h-1v1h-1v1h-1v1h-1v1h-1v1h-1v1h-1v1h-1v1h-1v1h-1v1h-1v1h-1v1h-1v1h-1v1h-1v1h-1v1h-1v1h-1v1h-1v1h-1v1h-1v1h-1v1h-1v1h-1v1h-1v1h-1v1h-1v1h-1v1h-1v1h-1v1h-1v1h-1v1h-1v1h-1v1h-1v1h-1v1h-1v1h-1v1h-1v1h-1v1h-1v1h-1v1h-1v1h-1v1h-1v1h-1v1h-1v1h-1v1h-1v1h-1v1h-1v1h-1v1h-1v1h-1v1h-1v1h-1v1h-1v1h-1v1h-1v1h-1v1h-1v1h-1v1h-1v1h-1v1h-1v1h-1v1h-1v1h-1v1h-1v1h-1v1h-1v1h-1v1h-1v1h-1v1h-1v1h-1v1h-1v1h-1v1h-1v1h-1v1h-1v1h-1v1h-1v1h-1v1h-1v1h-1v1h-1v1h-1v1h-1v1h-1v1h-1v1h-1v1h-1v1h-1v1h-1v1h-1v1h-1v1h-1zM93,302v-1h1v-1h1v-1h1v-1h1v-1h1v-1h1v-1h1v-1h1v-1h1v-1h1v-1h1v-1h1v-1h1v-1h1v-1h1v-1h1v-1h1v-1h1v-1h1v-1h1v-1h1v-1h1v-1h1v-1h1v-1h1v-1h1v-1h1v-1h1v-1h1v-1h1v-1h1v-1h1v-1h1v-1h1v-1h1v-1h1v-1h1v-1h1v-1h1v-1h1v-1h1v-1h1v-1h1v-1h1v-1h1v-1h1v-1h1v-1h1v-1h1v-1h1v-1h1v-1h1v-1h1v-1h1v-1h1v-1h1v1h-1v1h-1v1h-1v1h-1v1h-1v1h-1v1h-1v1h-1v1h-1v1h-1v1h-1v1h-1v1h-1v1h-1v1h-1v1h-1v1h-1v1h-1v1h-1v1h-1v1h-1v1h-1v1h-1v1h-1v1h-1v1h-1v1h-1v1h-1v1h-1v1h-1v1h-1v1h-1v1h-1v1h-1v1h-1v1h-1v1h-1v1h-1v1h-1v1h-1v1h-1v1h-1v1h-1v1h-1v1h-1v1h-1v1h-1v1h-1v1h-1v1h-1v1h-1v1h-1v1h-1v1h-1v1h-1v1h-1zM157,238v-1h1v-1h1v-1h1v-1h1v-1h1v-1h1v-1h1v-1h1v-1h1v-1h1v-1h1v-1h1v-1h1v-1h1v-1h1v-1h1v-1h1v-1h1v-1h1v-1h1v-1h1v-1h1v-1h1v-1h1v-1h1v-1h1v-1h1v-1h1v-1h1v-1h1v-1h1v-1h1v-1h1v-1h1v-1h1v-1h1v-1h1v-1h1v-1h1v-1h1v-1h1v-1h1v-1h1v-1h1v-1h1v-1h1v-1h1v1h-1v1h-1v1h-1v1h-1v1h-1v1h-1v1h-1v1h-1v1h-1v1h-1v1h-1v1h-1v1h-1v1h-1v1h-1v1h-1v1h-1v1h-1v1h-1v1h-1v1h-1v1h-1v1h-1v1h-1v1h-1v1h-1v1h-1v1h-1v1h-1v1h-1v1h-1v1h-1v1h-1v1h-1v1h-1v1h-1v1h-1v1h-1v1h-1v1h-1v1h-1v1h-1v1h-1v1h-1v1h-1v1h-1v1h-1zM212,183v-1h1v-1h1v-1h1v-1h1v-1h1v-1h1v-1h1v-1h1v-1h1v-1h1v-1h1v-1h1v-1h1v-1h1v-1h1v-1h1v-1h1v-1h1v-1h1v-1h1v-1h1v-1h1v-1h1v-1h1v-1h1v-1h1v-1h1v-1h1v-1h1v-1h1v-1h1v-1h1v-1h1v-1h1v-1h1v-1h1v-1h1v-1h1v-1h1v-1h1v-1h1v-1h1v-1h1v-1h1v-1h1v-1h1v-1h1v-1h1v-1h1v-1h1v-1h1v-1h1v-1h1v-1h1v-1h1v-1h1v-1h1v-1h1v-1h1v-1h1v-1h1v-1h1v-1h1v-1h1v-1h1v-1h1v-1h1v-1h1v-1h1v-1h1v-1h1v-1h1v-1h1v-1h1v-1h1v-1h1v-1h1v-1h1v-1h1v-1h1v-1h1v-1h1v-1h1v-1h1v-1h1v-1h1v-1h1v-1h1v-1h1v-1h1v-1h1v-1h1v-1h1v-1h1v-1h1v-1h1v-1h1v-1h1v-1h1v-1h1v-1h1v-1h1v-1h1v-1h1v-1h1v-1h1v-1h1v-1h1v-1h1v-1h1v-1h1v-1h1v-1h1v-1h1v-1h1v-1h1v-1h1v-1h1v-1h1v-1h1v-1h1v-1h1v1h-1v1h-1v1h-1v1h-1v1h-1v1h-1v1h-1v1h-1v1h-1v1h-1v1h-1v1h-1v1h-1v1h-1v1h-1v1h-1v1h-1v1h-1v1h-1v1h-1v1h-1v1h-1v1h-1v1h-1v1h-1v1h-1v1h-1v1h-1v1h-1v1h-1v1h-1v1h-1v1h-1v1h-1v1h-1v1h-1v1h-1v1h-1v1h-1v1h-1v1h-1v1h-1v1h-1v1h-1v1h-1v1h-1v1h-1v1h-1v1h-1v1h-1v1h-1v1h-1v1h-1v1h-1v1h-1v1h-1v1h-1v1h-1v1h-1v1h-1v1h-1v1h-1v1h-1v1h-1v1h-1v1h-1v1h-1v1h-1v1h-1v1h-1v1h-1v1h-1v1h-1v1h-1v1h-1v1h-1v1h-1v1h-1v1h-1v1h-1v1h-1v1h-1v1h-1v1h-1v1h-1v1h-1v1h-1v1h-1v1h-1v1h-1v1h-1v1h-1v1h-1v1h-1v1h-1v1h-1v1h-1v1h-1v1h-1v1h-1v1h-1v1h-1v1h-1v1h-1v1h-1v1h-1v1h-1v1h-1v1h-1v1h-1v1h-1v1h-1v1h-1v1h-1v1h-1v1h-1v1h-1v1h-1v1h-1v1h-1v1h-1v1h-1zM376,19v-1h1v-1h1v-1h1v-1h1v-1h1v-1h1v-1h1v-1h1v-1h1v-1h1v-1h1v-1h1v-1h1v1h-1v1h-1v1h-1v1h-1v1h-1v1h-1v1h-1v1h-1v1h-1v1h-1v1h-1v1h-1v1h-1zM93,322v-1h1v-1h1v-1h1v-1h1v-1h1v-1h1v-1h1v-1h1v-1h1v-1h1v-1h1v-1h1v-1h1v-1h1v-1h1v-1h1v-1h1v-1h1v-1h1v-1h1v-1h1v-1h1v-1h1v-1h1v-1h1v-1h1v-1h1v-1h1v-1h1v-1h1v-1h1v-1h1v-1h1v-1h1v-1h1v-1h1v-1h1v-1h1v-1h1v-1h1v-1h1v-1h1v-1h1v-1h1v-1h1v-1h1v-1h1v-1h1v-1h1v-1h1v-1h1v-1h1v-1h1v-1h1v-1h1v-1h1v-1h1v-1h1v-1h1v-1h1v-1h1v-1h1v-1h1v-1h1v-1h1v-1h1v-1h1v-1h1v-1h1v-1h1v-1h1v-1h1v-1h1v-1h1v-1h1v-1h1v1h-1v1h-1v1h-1v1h-1v1h-1v1h-1v1h-1v1h-1v1h-1v1h-1v1h-1v1h-1v1h-1v1h-1v1h-1v1h-1v1h-1v1h-1v1h-1v1h-1v1h-1v1h-1v1h-1v1h-1v1h-1v1h-1v1h-1v1h-1v1h-1v1h-1v1h-1v1h-1v1h-1v1h-1v1h-1v1h-1v1h-1v1h-1v1h-1v1h-1v1h-1v1h-1v1h-1v1h-1v1h-1v1h-1v1h-1v1h-1v1h-1v1h-1v1h-1v1h-1v1h-1v1h-1v1h-1v1h-1v1h-1v1h-1v1h-1v1h-1v1h-1v1h-1v1h-1v1h-1v1h-1v1h-1v1h-1v1h-1v1h-1v1h-1v1h-1v1h-1v1h-1v1h-1v1h-1v1h-1zM177,238v-1h1v-1h1v-1h1v-1h1v-1h1v-1h1v-1h1v-1h1v-1h1v-1h1v-1h1v-1h1v-1h1v-1h1v-1h1v-1h1v-1h1v-1h1v-1h1v-1h1v-1h1v-1h1v-1h1v-1h1v-1h1v-1h1v-1h1v-1h1v-1h1v-1h1v-1h1v-1h1v-1h1v-1h1v-1h1v-1h1v-1h1v-1h1v-1h1v-1h1v-1h1v-1h1v-1h1v-1h1v-1h1v-1h1v-1h1v1h-1v1h-1v1h-1v1h-1v1h-1v1h-1v1h-1v1h-1v1h-1v1h-1v1h-1v1h-1v1h-1v1h-1v1h-1v1h-1v1h-1v1h-1v1h-1v1h-1v1h-1v1h-1v1h-1v1h-1v1h-1v1h-1v1h-1v1h-1v1h-1v1h-1v1h-1v1h-1v1h-1v1h-1v1h-1v1h-1v1h-1v1h-1v1h-1v1h-1v1h-1v1h-1v1h-1v1h-1v1h-1v1h-1v1h-1zM244,171v-1h1v-1h1v-1h1v-1h1v-1h1v-1h1v-1h1v-1h1v-1h1v-1h1v-1h1v-1h1v-1h1v-1h1v-1h1v-1h1v-1h1v-1h1v-1h1v-1h1v-1h1v-1h1v-1h1v-1h1v-1h1v-1h1v-1h1v-1h1v-1h1v-1h1v-1h1v-1h1v-1h1v-1h1v-1h1v-1h1v-1h1v-1h1v-1h1v-1h1v-1h1v-1h1v-1h1v-1h1v-1h1v-1h1v-1h1v-1h1v-1h1v-1h1v-1h1v-1h1v-1h1v-1h1v-1h1v-1h1v-1h1v-1h1v-1h1v-1h1v-1h1v-1h1v-1h1v-1h1v-1h1v-1h1v-1h1v-1h1v-1h1v-1h1v-1h1v-1h1v-1h1v-1h1v-1h1v-1h1v-1h1v-1h1v-1h1v-1h1v-1h1v-1h1v-1h1v-1h1v-1h1v-1h1v-1h1v-1h1v-1h1v-1h1v-1h1v-1h1v-1h1v-1h1v-1h1v-1h1v-1h1v-1h1v-1h1v-1h1v-1h1v-1h1v-1h1v-1h1v-1h1v-1h1v-1h1v-1h1v-1h1v-1h1v1h-1v1h-1v1h-1v1h-1v1h-1v1h-1v1h-1v1h-1v1h-1v1h-1v1h-1v1h-1v1h-1v1h-1v1h-1v1h-1v1h-1v1h-1v1h-1v1h-1v1h-1v1h-1v1h-1v1h-1v1h-1v1h-1v1h-1v1h-1v1h-1v1h-1v1h-1v1h-1v1h-1v1h-1v1h-1v1h-1v1h-1v1h-1v1h-1v1h-1v1h-1v1h-1v1h-1v1h-1v1h-1v1h-1v1h-1v1h-1v1h-1v1h-1v1h-1v1h-1v1h-1v1h-1v1h-1v1h-1v1h-1v1h-1v1h-1v1h-1v1h-1v1h-1v1h-1v1h-1v1h-1v1h-1v1h-1v1h-1v1h-1v1h-1v1h-1v1h-1v1h-1v1h-1v1h-1v1h-1v1h-1v1h-1v1h-1v1h-1v1h-1v1h-1v1h-1v1h-1v1h-1v1h-1v1h-1v1h-1v1h-1v1h-1v1h-1v1h-1v1h-1v1h-1v1h-1v1h-1v1h-1v1h-1v1h-1v1h-1v1h-1v1h-1v1h-1v1h-1v1h-1v1h-1v1h-1v1h-1v1h-1v1h-1zM376,39v-1h1v-1h1v-1h1v-1h1v-1h1v-1h1v-1h1v-1h1v-1h1v-1h1v-1h1v-1h1v-1h1v-1h1v-1h1v-1h1v-1h1v-1h1v-1h1v-1h1v-1h1v-1h1v-1h1v-1h1v-1h1v-1h1v-1h1v-1h1v-1h1v-1h1v-1h1v-1h1v-1h1v1h-1v1h-1v1h-1v1h-1v1h-1v1h-1v1h-1v1h-1v1h-1v1h-1v1h-1v1h-1v1h-1v1h-1v1h-1v1h-1v1h-1v1h-1v1h-1v1h-1v1h-1v1h-1v1h-1v1h-1v1h-1v1h-1v1h-1v1h-1v1h-1v1h-1v1h-1v1h-1v1h-1zM93,341v-1h1v-1h1v-1h1v-1h1v-1h1v-1h1v-1h1v-1h1v-1h1v-1h1v-1h1v-1h1v-1h1v-1h1v-1h1v-1h1v-1h1v-1h1v-1h1v-1h1v-1h1v-1h1v-1h1v-1h1v-1h1v-1h1v-1h1v-1h1v-1h1v-1h1v-1h1v-1h1v-1h1v-1h1v-1h1v-1h1v-1h1v-1h1v-1h1v-1h1v-1h1v-1h1v-1h1v-1h1v-1h1v-1h1v-1h1v-1h1v-1h1v-1h1v-1h1v-1h1v-1h1v-1h1v-1h1v-1h1v-1h1v-1h1v-1h1v-1h1v-1h1v-1h1v-1h1v-1h1v-1h1v-1h1v-1h1v-1h1v-1h1v-1h1v-1h1v-1h1v-1h1v-1h1v-1h1v-1h1v-1h1v-1h1v-1h1v-1h1v-1h1v-1h1v-1h1v-1h1v-1h1v-1h1v-1h1v-1h1v-1h1v-1h1v-1h1v-1h1v-1h1v-1h1v-1h1v1h-1v1h-1v1h-1v1h-1v1h-1v1h-1v1h-1v1h-1v1h-1v1h-1v1h-1v1h-1v1h-1v1h-1v1h-1v1h-1v1h-1v1h-1v1h-1v1h-1v1h-1v1h-1v1h-1v1h-1v1h-1v1h-1v1h-1v1h-1v1h-1v1h-1v1h-1v1h-1v1h-1v1h-1v1h-1v1h-1v1h-1v1h-1v1h-1v1h-1v1h-1v1h-1v1h-1v1h-1v1h-1v1h-1v1h-1v1h-1v1h-1v1h-1v1h-1v1h-1v1h-1v1h-1v1h-1v1h-1v1h-1v1h-1v1h-1v1h-1v1h-1v1h-1v1h-1v1h-1v1h-1v1h-1v1h-1v1h-1v1h-1v1h-1v1h-1v1h-1v1h-1v1h-1v1h-1v1h-1v1h-1v1h-1v1h-1v1h-1v1h-1v1h-1v1h-1v1h-1v1h-1v1h-1v1h-1v1h-1v1h-1v1h-1v1h-1v1h-1v1h-1v1h-1v1h-1zM196,238v-1h1v-1h1v-1h1v-1h1v-1h1v-1h1v-1h1v-1h1v-1h1v-1h1v-1h1v-1h1v-1h1v-1h1v-1h1v-1h1v-1h1v-1h1v-1h1v-1h1v-1h1v-1h1v-1h1v-1h1v-1h1v-1h1v-1h1v-1h1v-1h1v-1h1v1h-1v1h-1v1h-1v1h-1v1h-1v1h-1v1h-1v1h-1v1h-1v1h-1v1h-1v1h-1v1h-1v1h-1v1h-1v1h-1v1h-1v1h-1v1h-1v1h-1v1h-1v1h-1v1h-1v1h-1v1h-1v1h-1v1h-1v1h-1v1h-1v1h-1zM263,171v-1h1v-1h1v-1h1v-1h1v-1h1v-1h1v-1h1v-1h1v-1h1v-1h1v-1h1v-1h1v-1h1v-1h1v-1h1v-1h1v-1h1v-1h1v-1h1v-1h1v-1h1v-1h1v-1h1v-1h1v-1h1v-1h1v-1h1v-1h1v-1h1v-1h1v-1h1v-1h1v-1h1v-1h1v-1h1v-1h1v-1h1v-1h1v-1h1v-1h1v-1h1v-1h1v-1h1v-1h1v-1h1v-1h1v-1h1v-1h1v-1h1v-1h1v-1h1v-1h1v-1h1v-1h1v-1h1v-1h1v-1h1v-1h1v-1h1v-1h1v-1h1v-1h1v-1h1v-1h1v-1h1v-1h1v-1h1v-1h1v-1h1v-1h1v-1h1v-1h1v-1h1v-1h1v-1h1v-1h1v-1h1v-1h1v-1h1v-1h1v-1h1v-1h1v-1h1v-1h1v-1h1v-1h1v-1h1v-1h1v-1h1v-1h1v-1h1v-1h1v-1h1v-1h1v-1h1v-1h1v-1h1v-1h1v-1h1v-1h1v-1h1v-1h1v-1h1v-1h1v-1h1v-1h1v-1h1v-1h1v-1h1v-1h1v1h-1v1h-1v1h-1v1h-1v1h-1v1h-1v1h-1v1h-1v1h-1v1h-1v1h-1v1h-1v1h-1v1h-1v1h-1v1h-1v1h-1v1h-1v1h-1v1h-1v1h-1v1h-1v1h-1v1h-1v1h-1v1h-1v1h-1v1h-1v1h-1v1h-1v1h-1v1h-1v1h-1v1h-1v1h-1v1h-1v1h-1v1h-1v1h-1v1h-1v1h-1v1h-1v1h-1v1h-1v1h-1v1h-1v1h-1v1h-1v1h-1v1h-1v1h-1v1h-1v1h-1v1h-1v1h-1v1h-1v1h-1v1h-1v1h-1v1h-1v1h-1v1h-1v1h-1v1h-1v1h-1v1h-1v1h-1v1h-1v1h-1v1h-1v1h-1v1h-1v1h-1v1h-1v1h-1v1h-1v1h-1v1h-1v1h-1v1h-1v1h-1v1h-1v1h-1v1h-1v1h-1v1h-1v1h-1v1h-1v1h-1v1h-1v1h-1v1h-1v1h-1v1h-1v1h-1v1h-1v1h-1v1h-1v1h-1v1h-1v1h-1v1h-1v1h-1v1h-1v1h-1v1h-1v1h-1v1h-1v1h-1v1h-1zM376,58v-1h1v-1h1v-1h1v-1h1v-1h1v-1h1v-1h1v-1h1v-1h1v-1h1v-1h1v-1h1v-1h1v-1h1v-1h1v-1h1v-1h1v-1h1v-1h1v-1h1v-1h1v-1h1v-1h1v-1h1v-1h1v-1h1v-1h1v-1h1v-1h1v-1h1v-1h1v-1h1v-1h1v-1h1v-1h1v-1h1v-1h1v-1h1v-1h1v-1h1v-1h1v-1h1v-1h1v-1h1v-1h1v-1h1v-1h1v-1h1v-1h1v-1h1v-1h1v-1h1v1h-1v1h-1v1h-1v1h-1v1h-1v1h-1v1h-1v1h-1v1h-1v1h-1v1h-1v1h-1v1h-1v1h-1v1h-1v1h-1v1h-1v1h-1v1h-1v1h-1v1h-1v1h-1v1h-1v1h-1v1h-1v1h-1v1h-1v1h-1v1h-1v1h-1v1h-1v1h-1v1h-1v1h-1v1h-1v1h-1v1h-1v1h-1v1h-1v1h-1v1h-1v1h-1v1h-1v1h-1v1h-1v1h-1v1h-1v1h-1v1h-1v1h-1v1h-1v1h-1zM93,361v-1h1v-1h1v-1h1v-1h1v-1h1v-1h1v-1h1v-1h1v-1h1v-1h1v-1h1v-1h1v-1h1v-1h1v-1h1v-1h1v-1h1v-1h1v-1h1v-1h1v-1h1v-1h1v-1h1v-1h1v-1h1v-1h1v-1h1v-1h1v-1h1v-1h1v-1h1v-1h1v-1h1v-1h1v-1h1v-1h1v-1h1v-1h1v-1h1v-1h1v-1h1v-1h1v-1h1v-1h1v-1h1v-1h1v-1h1v-1h1v-1h1v-1h1v-1h1v-1h1v-1h1v-1h1v-1h1v-1h1v-1h1v-1h1v-1h1v-1h1v-1h1v-1h1v-1h1v-1h1v-1h1v-1h1v-1h1v-1h1v-1h1v-1h1v-1h1v-1h1v-1h1v-1h1v-1h1v-1h1v-1h1v-1h1v-1h1v-1h1v-1h1v-1h1v-1h1v-1h1v-1h1v-1h1v-1h1v-1h1v-1h1v-1h1v-1h1v-1h1v-1h1v-1h1v-1h1v-1h1v-1h1v-1h1v-1h1v-1h1v-1h1v-1h1v-1h1v-1h1v-1h1v-1h1v-1h1v-1h1v-1h1v-1h1v-1h1v-1h1v-1h1v-1h1v-1h1v1h-1v1h-1v1h-1v1h-1v1h-1v1h-1v1h-1v1h-1v1h-1v1h-1v1h-1v1h-1v1h-1v1h-1v1h-1v1h-1v1h-1v1h-1v1h-1v1h-1v1h-1v1h-1v1h-1v1h-1v1h-1v1h-1v1h-1v1h-1v1h-1v1h-1v1h-1v1h-1v1h-1v1h-1v1h-1v1h-1v1h-1v1h-1v1h-1v1h-1v1h-1v1h-1v1h-1v1h-1v1h-1v1h-1v1h-1v1h-1v1h-1v1h-1v1h-1v1h-1v1h-1v1h-1v1h-1v1h-1v1h-1v1h-1v1h-1v1h-1v1h-1v1h-1v1h-1v1h-1v1h-1v1h-1v1h-1v1h-1v1h-1v1h-1v1h-1v1h-1v1h-1v1h-1v1h-1v1h-1v1h-1v1h-1v1h-1v1h-1v1h-1v1h-1v1h-1v1h-1v1h-1v1h-1v1h-1v1h-1v1h-1v1h-1v1h-1v1h-1v1h-1v1h-1v1h-1v1h-1v1h-1v1h-1v1h-1v1h-1v1h-1v1h-1v1h-1v1h-1v1h-1v1h-1v1h-1v1h-1v1h-1v1h-1v1h-1v1h-1v1h-1v1h-1v1h-1zM216,238v-1h1v-1h1v-1h1v-1h1v-1h1v-1h1v-1h1v-1h1v-1h1v-1h1v1h-1v1h-1v1h-1v1h-1v1h-1v1h-1v1h-1v1h-1v1h-1v1h-1zM283,171v-1h1v-1h1v-1h1v-1h1v-1h1v-1h1v-1h1v-1h1v-1h1v-1h1v-1h1v-1h1v-1h1v-1h1v-1h1v-1h1v-1h1v-1h1v-1h1v-1h1v-1h1v-1h1v-1h1v-1h1v-1h1v-1h1v-1h1v-1h1v-1h1v-1h1v-1h1v-1h1v-1h1v-1h1v-1h1v-1h1v-1h1v-1h1v-1h1v-1h1v-1h1v-1h1v-1h1v-1h1v-1h1v-1h1v-1h1v-1h1v-1h1v-1h1v-1h1v-1h1v-1h1v-1h1v-1h1v-1h1v-1h1v-1h1v-1h1v-1h1v-1h1v-1h1v-1h1v-1h1v-1h1v-1h1v-1h1v-1h1v-1h1v-1h1v-1h1v-1h1v-1h1v-1h1v-1h1v-1h1v-1h1v-1h1v-1h1v-1h1v-1h1v-1h1v-1h1v-1h1v-1h1v-1h1v-1h1v-1h1v-1h1v-1h1v-1h1v-1h1v-1h1v-1h1v-1h1v-1h1v-1h1v-1h1v-1h1v-1h1v-1h1v-1h1v-1h1v-1h1v-1h1v-1h1v-1h1v-1h1v-1h1v-1h1v-1h1v-1h1v-1h1v-1h1v-1h1v-1h1v-1h1v-1h1v-1h1v-1h1v-1h1v-1h1v-1h1v-1h1v-1h1v-1h1v-1h1v-1h1v-1h1v-1h1v-1h1v-1h1v-1h1v-1h1v-1h1v-1h1v-1h1v-1h1v-1h1v-1h1v-1h1v-1h1v-1h1v-1h1v-1h1v-1h1v-1h1v-1h1v-1h1v-1h1v-1h1v-1h1v-1h1v-1h1v-1h1v-1h1v-1h1v-1h1v-1h1v-1h1v-1h1v-1h1v-1h1v-1h1v-1h1v1h-1v1h-1v1h-1v1h-1v1h-1v1h-1v1h-1v1h-1v1h-1v1h-1v1h-1v1h-1v1h-1v1h-1v1h-1v1h-1v1h-1v1h-1v1h-1v1h-1v1h-1v1h-1v1h-1v1h-1v1h-1v1h-1v1h-1v1h-1v1h-1v1h-1v1h-1v1h-1v1h-1v1h-1v1h-1v1h-1v1h-1v1h-1v1h-1v1h-1v1h-1v1h-1v1h-1v1h-1v1h-1v1h-1v1h-1v1h-1v1h-1v1h-1v1h-1v1h-1v1h-1v1h-1v1h-1v1h-1v1h-1v1h-1v1h-1v1h-1v1h-1v1h-1v1h-1v1h-1v1h-1v1h-1v1h-1v1h-1v1h-1v1h-1v1h-1v1h-1v1h-1v1h-1v1h-1v1h-1v1h-1v1h-1v1h-1v1h-1v1h-1v1h-1v1h-1v1h-1v1h-1v1h-1v1h-1v1h-1v1h-1v1h-1v1h-1v1h-1v1h-1v1h-1v1h-1v1h-1v1h-1v1h-1v1h-1v1h-1v1h-1v1h-1v1h-1v1h-1v1h-1v1h-1v1h-1v1h-1v1h-1v1h-1v1h-1v1h-1v1h-1v1h-1v1h-1v1h-1v1h-1v1h-1v1h-1v1h-1v1h-1v1h-1v1h-1v1h-1v1h-1v1h-1v1h-1v1h-1v1h-1v1h-1v1h-1v1h-1v1h-1v1h-1v1h-1v1h-1v1h-1v1h-1v1h-1v1h-1v1h-1v1h-1v1h-1v1h-1v1h-1v1h-1v1h-1v1h-1v1h-1v1h-1v1h-1v1h-1v1h-1v1h-1v1h-1v1h-1v1h-1v1h-1v1h-1v1h-1v1h-1v1h-1v1h-1v1h-1v1h-1zM93,380v-1h1v-1h1v-1h1v-1h1v-1h1v-1h1v-1h1v-1h1v-1h1v-1h1v-1h1v-1h1v-1h1v-1h1v-1h1v-1h1v-1h1v-1h1v-1h1v-1h1v-1h1v-1h1v-1h1v-1h1v-1h1v-1h1v-1h1v-1h1v-1h1v-1h1v-1h1v-1h1v-1h1v-1h1v-1h1v-1h1v-1h1v-1h1v-1h1v-1h1v-1h1v-1h1v-1h1v-1h1v-1h1v-1h1v-1h1v-1h1v-1h1v-1h1v-1h1v-1h1v-1h1v-1h1v-1h1v-1h1v-1h1v-1h1v-1h1v-1h1v-1h1v-1h1v-1h1v-1h1v-1h1v-1h1v-1h1v-1h1v-1h1v-1h1v-1h1v-1h1v-1h1v-1h1v-1h1v-1h1v-1h1v-1h1v-1h1v-1h1v-1h1v-1h1v-1h1v-1h1v-1h1v-1h1v-1h1v-1h1v-1h1v-1h1v-1h1v-1h1v-1h1v-1h1v-1h1v-1h1v-1h1v-1h1v-1h1v-1h1v-1h1v-1h1v-1h1v-1h1v-1h1v-1h1v-1h1v-1h1v-1h1v-1h1v-1h1v-1h1v-1h1v-1h1v-1h1v-1h1v-1h1v-1h1v-1h1v-1h1v-1h1v-1h1v-1h1v-1h1v-1h1v-1h1v-1h1v-1h1v-1h1v-1h1v-1h1v-1h1v-1h1v1h-1v1h-1v1h-1v1h-1v1h-1v1h-1v1h-1v1h-1v1h-1v1h-1v1h-1v1h-1v1h-1v1h-1v1h-1v1h-1v1h-1v1h-1v1h-1v1h-1v1h-1v1h-1v1h-1v1h-1v1h-1v1h-1v1h-1v1h-1v1h-1v1h-1v1h-1v1h-1v1h-1v1h-1v1h-1v1h-1v1h-1v1h-1v1h-1v1h-1v1h-1v1h-1v1h-1v1h-1v1h-1v1h-1v1h-1v1h-1v1h-1v1h-1v1h-1v1h-1v1h-1v1h-1v1h-1v1h-1v1h-1v1h-1v1h-1v1h-1v1h-1v1h-1v1h-1v1h-1v1h-1v1h-1v1h-1v1h-1v1h-1v1h-1v1h-1v1h-1v1h-1v1h-1v1h-1v1h-1v1h-1v1h-1v1h-1v1h-1v1h-1v1h-1v1h-1v1h-1v1h-1v1h-1v1h-1v1h-1v1h-1v1h-1v1h-1v1h-1v1h-1v1h-1v1h-1v1h-1v1h-1v1h-1v1h-1v1h-1v1h-1v1h-1v1h-1v1h-1v1h-1v1h-1v1h-1v1h-1v1h-1v1h-1v1h-1v1h-1v1h-1v1h-1v1h-1v1h-1v1h-1v1h-1v1h-1v1h-1v1h-1v1h-1v1h-1v1h-1v1h-1v1h-1v1h-1v1h-1v1h-1v1h-1v1h-1v1h-1v1h-1zM302,171v-1h1v-1h1v-1h1v-1h1v-1h1v-1h1v-1h1v-1h1v-1h1v-1h1v-1h1v-1h1v-1h1v-1h1v-1h1v-1h1v-1h1v-1h1v-1h1v-1h1v-1h1v-1h1v-1h1v-1h1v-1h1v-1h1v-1h1v-1h1v-1h1v-1h1v-1h1v-1h1v-1h1v-1h1v-1h1v-1h1v-1h1v-1h1v-1h1v-1h1v-1h1v-1h1v-1h1v-1h1v-1h1v-1h1v-1h1v-1h1v-1h1v-1h1v-1h1v-1h1v-1h1v-1h1v-1h1v-1h1v-1h1v-1h1v-1h1v-1h1v-1h1v-1h1v-1h1v-1h1v-1h1v-1h1v-1h1v-1h1v-1h1v-1h1v-1h1v-1h1v-1h1v-1h1v-1h1v-1h1v-1h1v-1h1v-1h1v-1h1v-1h1v-1h1v-1h1v-1h1v-1h1v-1h1v-1h1v-1h1v-1h1v-1h1v-1h1v-1h1v-1h1v-1h1v-1h1v-1h1v-1h1v-1h1v-1h1v-1h1v-1h1v-1h1v-1h1v-1h1v-1h1v-1h1v-1h1v-1h1v-1h1v-1h1v-1h1v-1h1v-1h1v-1h1v-1h1v-1h1v-1h1v-1h1v-1h1v-1h1v-1h1v-1h1v-1h1v-1h1v-1h1v-1h1v-1h1v-1h1v-1h1v-1h1v-1h1v-1h1v-1h1v-1h1v-1h1v-1h1v-1h1v-1h1v-1h1v-1h1v-1h1v-1h1v-1h1v-1h1v-1h1v-1h1v-1h1v-1h1v-1h1v-1h1v-1h1v-1h1v-1h1v-1h1v-1h1v-1h1v-1h1v-1h1v-1h1v-1h1v-1h1v-1h1v-1h1v-1h1v-1h1v1h-1v1h-1v1h-1v1h-1v1h-1v1h-1v1h-1v1h-1v1h-1v1h-1v1h-1v1h-1v1h-1v1h-1v1h-1v1h-1v1h-1v1h-1v1h-1v1h-1v1h-1v1h-1v1h-1v1h-1v1h-1v1h-1v1h-1v1h-1v1h-1v1h-1v1h-1v1h-1v1h-1v1h-1v1h-1v1h-1v1h-1v1h-1v1h-1v1h-1v1h-1v1h-1v1h-1v1h-1v1h-1v1h-1v1h-1v1h-1v1h-1v1h-1v1h-1v1h-1v1h-1v1h-1v1h-1v1h-1v1h-1v1h-1v1h-1v1h-1v1h-1v1h-1v1h-1v1h-1v1h-1v1h-1v1h-1v1h-1v1h-1v1h-1v1h-1v1h-1v1h-1v1h-1v1h-1v1h-1v1h-1v1h-1v1h-1v1h-1v1h-1v1h-1v1h-1v1h-1v1h-1v1h-1v1h-1v1h-1v1h-1v1h-1v1h-1v1h-1v1h-1v1h-1v1h-1v1h-1v1h-1v1h-1v1h-1v1h-1v1h-1v1h-1v1h-1v1h-1v1h-1v1h-1v1h-1v1h-1v1h-1v1h-1v1h-1v1h-1v1h-1v1h-1v1h-1v1h-1v1h-1v1h-1v1h-1v1h-1v1h-1v1h-1v1h-1v1h-1v1h-1v1h-1v1h-1v1h-1v1h-1v1h-1v1h-1v1h-1v1h-1v1h-1v1h-1v1h-1v1h-1v1h-1v1h-1v1h-1v1h-1v1h-1v1h-1v1h-1v1h-1v1h-1v1h-1v1h-1v1h-1v1h-1v1h-1v1h-1v1h-1v1h-1v1h-1v1h-1v1h-1v1h-1v1h-1v1h-1v1h-1v1h-1v1h-1v1h-1v1h-1zM93,400v-1h1v-1h1v-1h1v-1h1v-1h1v-1h1v-1h1v-1h1v-1h1v-1h1v-1h1v-1h1v-1h1v-1h1v-1h1v-1h1v-1h1v-1h1v-1h1v-1h1v-1h1v-1h1v-1h1v-1h1v-1h1v-1h1v-1h1v-1h1v-1h1v-1h1v-1h1v-1h1v-1h1v-1h1v-1h1v1h-1v1h-1v1h-1v1h-1v1h-1v1h-1v1h-1v1h-1v1h-1v1h-1v1h-1v1h-1v1h-1v1h-1v1h-1v1h-1v1h-1v1h-1v1h-1v1h-1v1h-1v1h-1v1h-1v1h-1v1h-1v1h-1v1h-1v1h-1v1h-1v1h-1v1h-1v1h-1v1h-1v1h-1v1h-1zM133,360v-1h1v-1h1v-1h1v-1h1v-1h1v-1h1v-1h1v-1h1v-1h1v-1h1v-1h1v-1h1v-1h1v-1h1v-1h1v-1h1v-1h1v-1h1v-1h1v-1h1v-1h1v-1h1v-1h1v-1h1v-1h1v-1h1v-1h1v-1h1v-1h1v-1h1v-1h1v-1h1v-1h1v-1h1v-1h1v-1h1v-1h1v-1h1v-1h1v-1h1v-1h1v-1h1v-1h1v-1h1v-1h1v-1h1v-1h1v-1h1v-1h1v-1h1v-1h1v-1h1v-1h1v-1h1v-1h1v-1h1v-1h1v-1h1v-1h1v-1h1v-1h1v-1h1v-1h1v-1h1v-1h1v-1h1v-1h1v-1h1v-1h1v-1h1v-1h1v-1h1v-1h1v-1h1v-1h1v-1h1v-1h1v-1h1v-1h1v-1h1v-1h1v-1h1v-1h1v-1h1v-1h1v-1h1v-1h1v-1h1v-1h1v-1h1v-1h1v-1h1v-1h1v-1h1v-1h1v-1h1v-1h1v-1h1v1h-1v1h-1v1h-1v1h-1v1h-1v1h-1v1h-1v1h-1v1h-1v1h-1v1h-1v1h-1v1h-1v1h-1v1h-1v1h-1v1h-1v1h-1v1h-1v1h-1v1h-1v1h-1v1h-1v1h-1v1h-1v1h-1v1h-1v1h-1v1h-1v1h-1v1h-1v1h-1v1h-1v1h-1v1h-1v1h-1v1h-1v1h-1v1h-1v1h-1v1h-1v1h-1v1h-1v1h-1v1h-1v1h-1v1h-1v1h-1v1h-1v1h-1v1h-1v1h-1v1h-1v1h-1v1h-1v1h-1v1h-1v1h-1v1h-1v1h-1v1h-1v1h-1v1h-1v1h-1v1h-1v1h-1v1h-1v1h-1v1h-1v1h-1v1h-1v1h-1v1h-1v1h-1v1h-1v1h-1v1h-1v1h-1v1h-1v1h-1v1h-1v1h-1v1h-1v1h-1v1h-1v1h-1v1h-1v1h-1v1h-1v1h-1v1h-1v1h-1v1h-1v1h-1v1h-1v1h-1v1h-1v1h-1zM322,171v-1h1v-1h1v-1h1v-1h1v-1h1v-1h1v-1h1v-1h1v-1h1v-1h1v-1h1v-1h1v-1h1v-1h1v-1h1v-1h1v-1h1v-1h1v-1h1v-1h1v-1h1v-1h1v-1h1v-1h1v-1h1v-1h1v-1h1v-1h1v-1h1v-1h1v-1h1v-1h1v-1h1v-1h1v-1h1v-1h1v-1h1v-1h1v-1h1v-1h1v-1h1v-1h1v-1h1v-1h1v-1h1v-1h1v-1h1v-1h1v-1h1v-1h1v-1h1v-1h1v-1h1v-1h1v-1h1v-1h1v-1h1v-1h1v-1h1v-1h1v-1h1v-1h1v-1h1v-1h1v-1h1v-1h1v-1h1v-1h1v-1h1v-1h1v-1h1v-1h1v-1h1v-1h1v-1h1v-1h1v-1h1v-1h1v-1h1v-1h1v-1h1v-1h1v-1h1v-1h1v-1h1v-1h1v-1h1v-1h1v-1h1v-1h1v-1h1v-1h1v-1h1v-1h1v-1h1v-1h1v-1h1v-1h1v-1h1v-1h1v-1h1v-1h1v-1h1v-1h1v-1h1v-1h1v-1h1v-1h1v-1h1v-1h1v-1h1v-1h1v-1h1v-1h1v-1h1v-1h1v-1h1v-1h1v-1h1v-1h1v-1h1v-1h1v-1h1v-1h1v-1h1v-1h1v-1h1v-1h1v-1h1v-1h1v-1h1v-1h1v-1h1v-1h1v-1h1v-1h1v-1h1v-1h1v-1h1v-1h1v-1h1v-1h1v-1h1v-1h1v-1h1v-1h1v-1h1v-1h1v-1h1v-1h1v-1h1v-1h1v-1h1v-1h1v-1h1v-1h1v-1h1v-1h1v-1h1v-1h1v-1h1v-1h1v-1h1v-1h1v-1h1v1h-1v1h-1v1h-1v1h-1v1h-1v1h-1v1h-1v1h-1v1h-1v1h-1v1h-1v1h-1v1h-1v1h-1v1h-1v1h-1v1h-1v1h-1v1h-1v1h-1v1h-1v1h-1v1h-1v1h-1v1h-1v1h-1v1h-1v1h-1v1h-1v1h-1v1h-1v1h-1v1h-1v1h-1v1h-1v1h-1v1h-1v1h-1v1h-1v1h-1v1h-1v1h-1v1h-1v1h-1v1h-1v1h-1v1h-1v1h-1v1h-1v1h-1v1h-1v1h-1v1h-1v1h-1v1h-1v1h-1v1h-1v1h-1v1h-1v1h-1v1h-1v1h-1v1h-1v1h-1v1h-1v1h-1v1h-1v1h-1v1h-1v1h-1v1h-1v1h-1v1h-1v1h-1v1h-1v1h-1v1h-1v1h-1v1h-1v1h-1v1h-1v1h-1v1h-1v1h-1v1h-1v1h-1v1h-1v1h-1v1h-1v1h-1v1h-1v1h-1v1h-1v1h-1v1h-1v1h-1v1h-1v1h-1v1h-1v1h-1v1h-1v1h-1v1h-1v1h-1v1h-1v1h-1v1h-1v1h-1v1h-1v1h-1v1h-1v1h-1v1h-1v1h-1v1h-1v1h-1v1h-1v1h-1v1h-1v1h-1v1h-1v1h-1v1h-1v1h-1v1h-1v1h-1v1h-1v1h-1v1h-1v1h-1v1h-1v1h-1v1h-1v1h-1v1h-1v1h-1v1h-1v1h-1v1h-1v1h-1v1h-1v1h-1v1h-1v1h-1v1h-1v1h-1v1h-1v1h-1v1h-1v1h-1v1h-1v1h-1v1h-1v1h-1v1h-1v1h-1v1h-1v1h-1v1h-1v1h-1v1h-1v1h-1v1h-1v1h-1v1h-1zM93,419v-1h1v-1h1v-1h1v-1h1v-1h1v-1h1v-1h1v-1h1v-1h1v-1h1v-1h1v-1h1v-1h1v-1h1v-1h1v-1h1v-1h1v-1h1v-1h1v-1h1v-1h1v-1h1v-1h1v-1h1v-1h1v-1h1v-1h1v-1h1v-1h1v-1h1v-1h1v-1h1v-1h1v-1h1v-1h1v-1h1v-1h1v-1h1v-1h1v-1h1v-1h1v-1h1v-1h1v-1h1v-1h1v-1h1v-1h1v-1h1v-1h1v-1h1v-1h1v-1h1v1h-1v1h-1v1h-1v1h-1v1h-1v1h-1v1h-1v1h-1v1h-1v1h-1v1h-1v1h-1v1h-1v1h-1v1h-1v1h-1v1h-1v1h-1v1h-1v1h-1v1h-1v1h-1v1h-1v1h-1v1h-1v1h-1v1h-1v1h-1v1h-1v1h-1v1h-1v1h-1v1h-1v1h-1v1h-1v1h-1v1h-1v1h-1v1h-1v1h-1v1h-1v1h-1v1h-1v1h-1v1h-1v1h-1v1h-1v1h-1v1h-1v1h-1v1h-1v1h-1zM152,360v-1h1v-1h1v-1h1v-1h1v-1h1v-1h1v-1h1v-1h1v-1h1v-1h1v-1h1v-1h1v-1h1v-1h1v-1h1v-1h1v-1h1v-1h1v-1h1v-1h1v-1h1v-1h1v-1h1v-1h1v-1h1v-1h1v-1h1v-1h1v-1h1v-1h1v-1h1v-1h1v-1h1v-1h1v-1h1v-1h1v-1h1v-1h1v-1h1v-1h1v-1h1v-1h1v-1h1v-1h1v-1h1v-1h1v-1h1v-1h1v-1h1v-1h1v-1h1v-1h1v-1h1v-1h1v-1h1v-1h1v-1h1v-1h1v-1h1v-1h1v-1h1v-1h1v-1h1v-1h1v-1h1v-1h1v-1h1v-1h1v-1h1v-1h1v-1h1v-1h1v-1h1v-1h1v-1h1v-1h1v-1h1v-1h1v-1h1v1h-1v1h-1v1h-1v1h-1v1h-1v1h-1v1h-1v1h-1v1h-1v1h-1v1h-1v1h-1v1h-1v1h-1v1h-1v1h-1v1h-1v1h-1v1h-1v1h-1v1h-1v1h-1v1h-1v1h-1v1h-1v1h-1v1h-1v1h-1v1h-1v1h-1v1h-1v1h-1v1h-1v1h-1v1h-1v1h-1v1h-1v1h-1v1h-1v1h-1v1h-1v1h-1v1h-1v1h-1v1h-1v1h-1v1h-1v1h-1v1h-1v1h-1v1h-1v1h-1v1h-1v1h-1v1h-1v1h-1v1h-1v1h-1v1h-1v1h-1v1h-1v1h-1v1h-1v1h-1v1h-1v1h-1v1h-1v1h-1v1h-1v1h-1v1h-1v1h-1v1h-1v1h-1v1h-1v1h-1v1h-1v1h-1v1h-1zM341,171v-1h1v-1h1v-1h1v-1h1v-1h1v-1h1v-1h1v-1h1v-1h1v-1h1v-1h1v-1h1v-1h1v-1h1v-1h1v-1h1v-1h1v-1h1v-1h1v-1h1v-1h1v-1h1v-1h1v-1h1v-1h1v-1h1v-1h1v-1h1v-1h1v-1h1v-1h1v-1h1v-1h1v-1h1v-1h1v-1h1v-1h1v-1h1v-1h1v-1h1v-1h1v-1h1v-1h1v-1h1v-1h1v-1h1v-1h1v-1h1v-1h1v-1h1v-1h1v-1h1v-1h1v-1h1v-1h1v-1h1v-1h1v-1h1v-1h1v-1h1v-1h1v-1h1v-1h1v-1h1v-1h1v-1h1v-1h1v-1h1v-1h1v-1h1v-1h1v-1h1v-1h1v-1h1v-1h1v-1h1v-1h1v-1h1v1h-1v1h-1v1h-1v1h-1v1h-1v1h-1v1h-1v1h-1v1h-1v1h-1v1h-1v1h-1v1h-1v1h-1v1h-1v1h-1v1h-1v1h-1v1h-1v1h-1v1h-1v1h-1v1h-1v1h-1v1h-1v1h-1v1h-1v1h-1v1h-1v1h-1v1h-1v1h-1v1h-1v1h-1v1h-1v1h-1v1h-1v1h-1v1h-1v1h-1v1h-1v1h-1v1h-1v1h-1v1h-1v1h-1v1h-1v1h-1v1h-1v1h-1v1h-1v1h-1v1h-1v1h-1v1h-1v1h-1v1h-1v1h-1v1h-1v1h-1v1h-1v1h-1v1h-1v1h-1v1h-1v1h-1v1h-1v1h-1v1h-1v1h-1v1h-1v1h-1v1h-1v1h-1v1h-1v1h-1v1h-1v1h-1zM428,84v-1h1v-1h1v-1h1v-1h1v-1h1v-1h1v-1h1v-1h1v-1h1v-1h1v-1h1v-1h1v-1h1v-1h1v-1h1v-1h1v-1h1v-1h1v-1h1v-1h1v-1h1v-1h1v-1h1v-1h1v-1h1v-1h1v-1h1v-1h1v-1h1v-1h1v-1h1v-1h1v-1h1v-1h1v-1h1v-1h1v-1h1v-1h1v-1h1v-1h1v-1h1v-1h1v-1h1v-1h1v-1h1v-1h1v-1h1v-1h1v-1h1v-1h1v-1h1v-1h1v-1h1v-1h1v-1h1v-1h1v-1h1v-1h1v-1h1v-1h1v-1h1v-1h1v-1h1v-1h1v-1h1v-1h1v-1h1v-1h1v-1h1v-1h1v-1h1v-1h1v-1h1v-1h1v-1h1v-1h1v-1h1v-1h1v1h-1v1h-1v1h-1v1h-1v1h-1v1h-1v1h-1v1h-1v1h-1v1h-1v1h-1v1h-1v1h-1v1h-1v1h-1v1h-1v1h-1v1h-1v1h-1v1h-1v1h-1v1h-1v1h-1v1h-1v1h-1v1h-1v1h-1v1h-1v1h-1v1h-1v1h-1v1h-1v1h-1v1h-1v1h-1v1h-1v1h-1v1h-1v1h-1v1h-1v1h-1v1h-1v1h-1v1h-1v1h-1v1h-1v1h-1v1h-1v1h-1v1h-1v1h-1v1h-1v1h-1v1h-1v1h-1v1h-1v1h-1v1h-1v1h-1v1h-1v1h-1v1h-1v1h-1v1h-1v1h-1v1h-1v1h-1v1h-1v1h-1v1h-1v1h-1v1h-1v1h-1v1h-1v1h-1v1h-1v1h-1v1h-1zM93,438v-1h1v-1h1v-1h1v-1h1v-1h1v-1h1v-1h1v-1h1v-1h1v-1h1v-1h1v-1h1v-1h1v-1h1v-1h1v-1h1v-1h1v-1h1v-1h1v-1h1v-1h1v-1h1v-1h1v-1h1v-1h1v-1h1v-1h1v-1h1v-1h1v-1h1v-1h1v-1h1v-1h1v-1h1v-1h1v-1h1v-1h1v-1h1v-1h1v-1h1v-1h1v-1h1v-1h1v-1h1v-1h1v-1h1v-1h1v-1h1v-1h1v-1h1v-1h1v-1h1v-1h1v-1h1v-1h1v-1h1v-1h1v-1h1v-1h1v-1h1v-1h1v-1h1v-1h1v-1h1v-1h1v-1h1v-1h1v-1h1v-1h1v-1h1v-1h1v1h-1v1h-1v1h-1v1h-1v1h-1v1h-1v1h-1v1h-1v1h-1v1h-1v1h-1v1h-1v1h-1v1h-1v1h-1v1h-1v1h-1v1h-1v1h-1v1h-1v1h-1v1h-1v1h-1v1h-1v1h-1v1h-1v1h-1v1h-1v1h-1v1h-1v1h-1v1h-1v1h-1v1h-1v1h-1v1h-1v1h-1v1h-1v1h-1v1h-1v1h-1v1h-1v1h-1v1h-1v1h-1v1h-1v1h-1v1h-1v1h-1v1h-1v1h-1v1h-1v1h-1v1h-1v1h-1v1h-1v1h-1v1h-1v1h-1v1h-1v1h-1v1h-1v1h-1v1h-1v1h-1v1h-1v1h-1v1h-1v1h-1v1h-1v1h-1zM171,360v-1h1v-1h1v-1h1v-1h1v-1h1v-1h1v-1h1v-1h1v-1h1v-1h1v-1h1v-1h1v-1h1v-1h1v-1h1v-1h1v-1h1v-1h1v-1h1v-1h1v-1h1v-1h1v-1h1v-1h1v-1h1v-1h1v-1h1v-1h1v-1h1v-1h1v-1h1v-1h1v-1h1v-1h1v-1h1v-1h1v-1h1v-1h1v-1h1v-1h1v-1h1v-1h1v-1h1v-1h1v-1h1v-1h1v-1h1v-1h1v-1h1v-1h1v-1h1v-1h1v-1h1v-1h1v-1h1v-1h1v-1h1v-1h1v-1h1v-1h1v1h-1v1h-1v1h-1v1h-1v1h-1v1h-1v1h-1v1h-1v1h-1v1h-1v1h-1v1h-1v1h-1v1h-1v1h-1v1h-1v1h-1v1h-1v1h-1v1h-1v1h-1v1h-1v1h-1v1h-1v1h-1v1h-1v1h-1v1h-1v1h-1v1h-1v1h-1v1h-1v1h-1v1h-1v1h-1v1h-1v1h-1v1h-1v1h-1v1h-1v1h-1v1h-1v1h-1v1h-1v1h-1v1h-1v1h-1v1h-1v1h-1v1h-1v1h-1v1h-1v1h-1v1h-1v1h-1v1h-1v1h-1v1h-1v1h-1v1h-1zM360,171v-1h1v-1h1v-1h1v-1h1v-1h1v-1h1v-1h1v-1h1v-1h1v-1h1v-1h1v-1h1v-1h1v-1h1v-1h1v-1h1v-1h1v-1h1v-1h1v-1h1v-1h1v-1h1v-1h1v-1h1v-1h1v-1h1v-1h1v-1h1v-1h1v-1h1v-1h1v-1h1v-1h1v-1h1v-1h1v-1h1v-1h1v-1h1v-1h1v-1h1v-1h1v-1h1v-1h1v-1h1v-1h1v-1h1v-1h1v-1h1v-1h1v-1h1v-1h1v-1h1v-1h1v-1h1v-1h1v-1h1v-1h1v-1h1v-1h1v-1h1v-1h1v-1h1v-1h1v-1h1v-1h1v-1h1v-1h1v-1h1v-1h1v-1h1v-1h1v-1h1v-1h1v-1h1v-1h1v-1h1v-1h1v-1h1v1h-1v1h-1v1h-1v1h-1v1h-1v1h-1v1h-1v1h-1v1h-1v1h-1v1h-1v1h-1v1h-1v1h-1v1h-1v1h-1v1h-1v1h-1v1h-1v1h-1v1h-1v1h-1v1h-1v1h-1v1h-1v1h-1v1h-1v1h-1v1h-1v1h-1v1h-1v1h-1v1h-1v1h-1v1h-1v1h-1v1h-1v1h-1v1h-1v1h-1v1h-1v1h-1v1h-1v1h-1v1h-1v1h-1v1h-1v1h-1v1h-1v1h-1v1h-1v1h-1v1h-1v1h-1v1h-1v1h-1v1h-1v1h-1v1h-1v1h-1v1h-1v1h-1v1h-1v1h-1v1h-1v1h-1v1h-1v1h-1v1h-1v1h-1v1h-1v1h-1v1h-1v1h-1v1h-1v1h-1v1h-1v1h-1zM447,84v-1h1v-1h1v-1h1v-1h1v-1h1v-1h1v-1h1v-1h1v-1h1v-1h1v-1h1v-1h1v-1h1v-1h1v-1h1v-1h1v-1h1v-1h1v-1h1v-1h1v-1h1v-1h1v-1h1v-1h1v-1h1v-1h1v-1h1v-1h1v-1h1v-1h1v-1h1v-1h1v-1h1v-1h1v-1h1v-1h1v-1h1v-1h1v-1h1v-1h1v-1h1v-1h1v-1h1v-1h1v-1h1v-1h1v-1h1v-1h1v-1h1v-1h1v-1h1v-1h1v-1h1v-1h1v-1h1v-1h1v-1h1v-1h1v-1h1v-1h1v-1h1v-1h1v-1h1v-1h1v-1h1v-1h1v1h-1v1h-1v1h-1v1h-1v1h-1v1h-1v1h-1v1h-1v1h-1v1h-1v1h-1v1h-1v1h-1v1h-1v1h-1v1h-1v1h-1v1h-1v1h-1v1h-1v1h-1v1h-1v1h-1v1h-1v1h-1v1h-1v1h-1v1h-1v1h-1v1h-1v1h-1v1h-1v1h-1v1h-1v1h-1v1h-1v1h-1v1h-1v1h-1v1h-1v1h-1v1h-1v1h-1v1h-1v1h-1v1h-1v1h-1v1h-1v1h-1v1h-1v1h-1v1h-1v1h-1v1h-1v1h-1v1h-1v1h-1v1h-1v1h-1v1h-1v1h-1v1h-1v1h-1v1h-1v1h-1v1h-1zM105,446v-1h1v-1h1v-1h1v-1h1v-1h1v-1h1v-1h1v-1h1v-1h1v-1h1v-1h1v-1h1v-1h1v-1h1v-1h1v-1h1v-1h1v-1h1v-1h1v-1h1v-1h1v-1h1v-1h1v-1h1v1h-1v1h-1v1h-1v1h-1v1h-1v1h-1v1h-1v1h-1v1h-1v1h-1v1h-1v1h-1v1h-1v1h-1v1h-1v1h-1v1h-1v1h-1v1h-1v1h-1v1h-1v1h-1v1h-1v1h-1zM136,415v-1h1v-1h1v-1h1v-1h1v-1h1v-1h1v-1h1v-1h1v-1h1v-1h1v-1h1v-1h1v-1h1v-1h1v-1h1v-1h1v-1h1v-1h1v-1h1v-1h1v-1h1v-1h1v-1h1v-1h1v-1h1v-1h1v-1h1v-1h1v-1h1v-1h1v-1h1v-1h1v-1h1v-1h1v-1h1v-1h1v-1h1v-1h1v-1h1v-1h1v-1h1v-1h1v-1h1v-1h1v-1h1v-1h1v-1h1v-1h1v1h-1v1h-1v1h-1v1h-1v1h-1v1h-1v1h-1v1h-1v1h-1v1h-1v1h-1v1h-1v1h-1v1h-1v1h-1v1h-1v1h-1v1h-1v1h-1v1h-1v1h-1v1h-1v1h-1v1h-1v1h-1v1h-1v1h-1v1h-1v1h-1v1h-1v1h-1v1h-1v1h-1v1h-1v1h-1v1h-1v1h-1v1h-1v1h-1v1h-1v1h-1v1h-1v1h-1v1h-1v1h-1v1h-1v1h-1v1h-1zM191,360v-1h1v-1h1v-1h1v-1h1v-1h1v-1h1v-1h1v-1h1v-1h1v-1h1v-1h1v-1h1v-1h1v-1h1v-1h1v-1h1v-1h1v-1h1v-1h1v-1h1v-1h1v-1h1v-1h1v-1h1v-1h1v-1h1v-1h1v-1h1v-1h1v-1h1v-1h1v-1h1v-1h1v-1h1v-1h1v-1h1v-1h1v-1h1v-1h1v-1h1v1h-1v1h-1v1h-1v1h-1v1h-1v1h-1v1h-1v1h-1v1h-1v1h-1v1h-1v1h-1v1h-1v1h-1v1h-1v1h-1v1h-1v1h-1v1h-1v1h-1v1h-1v1h-1v1h-1v1h-1v1h-1v1h-1v1h-1v1h-1v1h-1v1h-1v1h-1v1h-1v1h-1v1h-1v1h-1v1h-1v1h-1v1h-1v1h-1v1h-1zM380,171v-1h1v-1h1v-1h1v-1h1v-1h1v-1h1v-1h1v-1h1v-1h1v-1h1v-1h1v-1h1v-1h1v-1h1v-1h1v-1h1v-1h1v-1h1v-1h1v-1h1v-1h1v-1h1v-1h1v-1h1v-1h1v-1h1v-1h1v-1h1v-1h1v1h-1v1h-1v1h-1v1h-1v1h-1v1h-1v1h-1v1h-1v1h-1v1h-1v1h-1v1h-1v1h-1v1h-1v1h-1v1h-1v1h-1v1h-1v1h-1v1h-1v1h-1v1h-1v1h-1v1h-1v1h-1v1h-1v1h-1v1h-1v1h-1zM411,140v-1h1v-1h1v-1h1v-1h1v-1h1v-1h1v-1h1v-1h1v-1h1v-1h1v-1h1v-1h1v-1h1v-1h1v-1h1v-1h1v-1h1v-1h1v-1h1v-1h1v-1h1v-1h1v-1h1v-1h1v-1h1v-1h1v-1h1v-1h1v-1h1v-1h1v-1h1v-1h1v-1h1v-1h1v-1h1v-1h1v-1h1v-1h1v-1h1v-1h1v-1h1v-1h1v-1h1v-1h1v-1h1v-1h1v-1h1v1h-1v1h-1v1h-1v1h-1v1h-1v1h-1v1h-1v1h-1v1h-1v1h-1v1h-1v1h-1v1h-1v1h-1v1h-1v1h-1v1h-1v1h-1v1h-1v1h-1v1h-1v1h-1v1h-1v1h-1v1h-1v1h-1v1h-1v1h-1v1h-1v1h-1v1h-1v1h-1v1h-1v1h-1v1h-1v1h-1v1h-1v1h-1v1h-1v1h-1v1h-1v1h-1v1h-1v1h-1v1h-1v1h-1v1h-1zM467,84v-1h1v-1h1v-1h1v-1h1v-1h1v-1h1v-1h1v-1h1v-1h1v-1h1v-1h1v-1h1v-1h1v-1h1v-1h1v-1h1v-1h1v-1h1v-1h1v-1h1v-1h1v-1h1v-1h1v-1h1v-1h1v-1h1v-1h1v-1h1v-1h1v-1h1v-1h1v-1h1v-1h1v-1h1v-1h1v-1h1v-1h1v-1h1v-1h1v-1h1v-1h1v-1h1v-1h1v-1h1v-1h1v-1h1v1h-1v1h-1v1h-1v1h-1v1h-1v1h-1v1h-1v1h-1v1h-1v1h-1v1h-1v1h-1v1h-1v1h-1v1h-1v1h-1v1h-1v1h-1v1h-1v1h-1v1h-1v1h-1v1h-1v1h-1v1h-1v1h-1v1h-1v1h-1v1h-1v1h-1v1h-1v1h-1v1h-1v1h-1v1h-1v1h-1v1h-1v1h-1v1h-1v1h-1v1h-1v1h-1v1h-1v1h-1v1h-1v1h-1zM124,446v-1h1v-1h1v-1h1v-1h1v-1h1v-1h1v-1h1v-1h1v-1h1v-1h1v-1h1v-1h1v-1h1v-1h1v-1h1v-1h1v-1h1v-1h1v-1h1v-1h1v-1h1v-1h1v-1h1v-1h1v1h-1v1h-1v1h-1v1h-1v1h-1v1h-1v1h-1v1h-1v1h-1v1h-1v1h-1v1h-1v1h-1v1h-1v1h-1v1h-1v1h-1v1h-1v1h-1v1h-1v1h-1v1h-1v1h-1v1h-1zM155,415v-1h1v-1h1v-1h1v-1h1v-1h1v-1h1v-1h1v-1h1v-1h1v-1h1v-1h1v-1h1v-1h1v-1h1v-1h1v-1h1v-1h1v-1h1v-1h1v-1h1v-1h1v-1h1v-1h1v-1h1v-1h1v-1h1v-1h1v-1h1v-1h1v-1h1v-1h1v-1h1v-1h1v-1h1v-1h1v-1h1v-1h1v-1h1v-1h1v-1h1v-1h1v-1h1v-1h1v-1h1v-1h1v-1h1v-1h1v-1h1v1h-1v1h-1v1h-1v1h-1v1h-1v1h-1v1h-1v1h-1v1h-1v1h-1v1h-1v1h-1v1h-1v1h-1v1h-1v1h-1v1h-1v1h-1v1h-1v1h-1v1h-1v1h-1v1h-1v1h-1v1h-1v1h-1v1h-1v1h-1v1h-1v1h-1v1h-1v1h-1v1h-1v1h-1v1h-1v1h-1v1h-1v1h-1v1h-1v1h-1v1h-1v1h-1v1h-1v1h-1v1h-1v1h-1v1h-1v1h-1zM210,360v-1h1v-1h1v-1h1v-1h1v-1h1v-1h1v-1h1v-1h1v-1h1v-1h1v-1h1v-1h1v-1h1v-1h1v-1h1v-1h1v-1h1v-1h1v-1h1v-1h1v-1h1v1h-1v1h-1v1h-1v1h-1v1h-1v1h-1v1h-1v1h-1v1h-1v1h-1v1h-1v1h-1v1h-1v1h-1v1h-1v1h-1v1h-1v1h-1v1h-1v1h-1v1h-1zM399,171v-1h1v-1h1v-1h1v-1h1v-1h1v-1h1v-1h1v-1h1v-1h1v-1h1v-1h1v-1h1v-1h1v-1h1v-1h1v-1h1v-1h1v-1h1v-1h1v-1h1v-1h1v-1h1v-1h1v1h-1v1h-1v1h-1v1h-1v1h-1v1h-1v1h-1v1h-1v1h-1v1h-1v1h-1v1h-1v1h-1v1h-1v1h-1v1h-1v1h-1v1h-1v1h-1v1h-1v1h-1v1h-1v1h-1zM430,140v-1h1v-1h1v-1h1v-1h1v-1h1v-1h1v-1h1v-1h1v-1h1v-1h1v-1h1v-1h1v-1h1v-1h1v-1h1v-1h1v-1h1v-1h1v-1h1v-1h1v-1h1v-1h1v-1h1v-1h1v-1h1v-1h1v-1h1v-1h1v-1h1v-1h1v-1h1v-1h1v-1h1v-1h1v-1h1v-1h1v-1h1v-1h1v-1h1v-1h1v-1h1v-1h1v-1h1v-1h1v-1h1v-1h1v-1h1v1h-1v1h-1v1h-1v1h-1v1h-1v1h-1v1h-1v1h-1v1h-1v1h-1v1h-1v1h-1v1h-1v1h-1v1h-1v1h-1v1h-1v1h-1v1h-1v1h-1v1h-1v1h-1v1h-1v1h-1v1h-1v1h-1v1h-1v1h-1v1h-1v1h-1v1h-1v1h-1v1h-1v1h-1v1h-1v1h-1v1h-1v1h-1v1h-1v1h-1v1h-1v1h-1v1h-1v1h-1v1h-1v1h-1v1h-1zM486,84v-1h1v-1h1v-1h1v-1h1v-1h1v-1h1v-1h1v-1h1v-1h1v-1h1v-1h1v-1h1v-1h1v-1h1v-1h1v-1h1v-1h1v-1h1v-1h1v-1h1v-1h1v-1h1v-1h1v-1h1v-1h1v-1h1v-1h1v1h-1v1h-1v1h-1v1h-1v1h-1v1h-1v1h-1v1h-1v1h-1v1h-1v1h-1v1h-1v1h-1v1h-1v1h-1v1h-1v1h-1v1h-1v1h-1v1h-1v1h-1v1h-1v1h-1v1h-1v1h-1v1h-1v1h-1zM144,446v-1h1v-1h1v-1h1v-1h1v-1h1v-1h1v-1h1v-1h1v-1h1v-1h1v-1h1v-1h1v-1h1v-1h1v-1h1v-1h1v-1h1v-1h1v-1h1v-1h1v-1h1v-1h1v-1h1v-1h1v1h-1v1h-1v1h-1v1h-1v1h-1v1h-1v1h-1v1h-1v1h-1v1h-1v1h-1v1h-1v1h-1v1h-1v1h-1v1h-1v1h-1v1h-1v1h-1v1h-1v1h-1v1h-1v1h-1v1h-1zM175,415v-1h1v-1h1v-1h1v-1h1v-1h1v-1h1v-1h1v-1h1v-1h1v-1h1v-1h1v-1h1v-1h1v-1h1v-1h1v-1h1v-1h1v-1h1v-1h1v-1h1v-1h1v-1h1v-1h1v-1h1v-1h1v-1h1v-1h1v-1h1v-1h1v-1h1v-1h1v-1h1v-1h1v-1h1v-1h1v-1h1v-1h1v-1h1v-1h1v-1h1v-1h1v-1h1v-1h1v-1h1v-1h1v-1h1v-1h1v-1h1v1h-1v1h-1v1h-1v1h-1v1h-1v1h-1v1h-1v1h-1v1h-1v1h-1v1h-1v1h-1v1h-1v1h-1v1h-1v1h-1v1h-1v1h-1v1h-1v1h-1v1h-1v1h-1v1h-1v1h-1v1h-1v1h-1v1h-1v1h-1v1h-1v1h-1v1h-1v1h-1v1h-1v1h-1v1h-1v1h-1v1h-1v1h-1v1h-1v1h-1v1h-1v1h-1v1h-1v1h-1v1h-1v1h-1v1h-1v1h-1zM419,171v-1h1v-1h1v-1h1v-1h1v-1h1v-1h1v-1h1v-1h1v-1h1v-1h1v-1h1v-1h1v-1h1v-1h1v-1h1v-1h1v-1h1v-1h1v-1h1v-1h1v-1h1v-1h1v-1h1v1h-1v1h-1v1h-1v1h-1v1h-1v1h-1v1h-1v1h-1v1h-1v1h-1v1h-1v1h-1v1h-1v1h-1v1h-1v1h-1v1h-1v1h-1v1h-1v1h-1v1h-1v1h-1v1h-1zM450,140v-1h1v-1h1v-1h1v-1h1v-1h1v-1h1v-1h1v-1h1v-1h1v-1h1v-1h1v-1h1v-1h1v-1h1v-1h1v-1h1v-1h1v-1h1v-1h1v-1h1v-1h1v-1h1v-1h1v-1h1v-1h1v-1h1v-1h1v-1h1v-1h1v-1h1v-1h1v-1h1v-1h1v-1h1v-1h1v-1h1v-1h1v-1h1v-1h1v-1h1v-1h1v-1h1v-1h1v-1h1v-1h1v-1h1v-1h1v1h-1v1h-1v1h-1v1h-1v1h-1v1h-1v1h-1v1h-1v1h-1v1h-1v1h-1v1h-1v1h-1v1h-1v1h-1v1h-1v1h-1v1h-1v1h-1v1h-1v1h-1v1h-1v1h-1v1h-1v1h-1v1h-1v1h-1v1h-1v1h-1v1h-1v1h-1v1h-1v1h-1v1h-1v1h-1v1h-1v1h-1v1h-1v1h-1v1h-1v1h-1v1h-1v1h-1v1h-1v1h-1v1h-1v1h-1zM506,84v-1h1v-1h1v-1h1v1h-1v1h-1v1h-1zM163,446v-1h1v-1h1v-1h1v-1h1v-1h1v-1h1v-1h1v-1h1v-1h1v-1h1v-1h1v-1h1v-1h1v-1h1v-1h1v-1h1v-1h1v-1h1v-1h1v-1h1v-1h1v-1h1v-1h1v-1h1v1h-1v1h-1v1h-1v1h-1v1h-1v1h-1v1h-1v1h-1v1h-1v1h-1v1h-1v1h-1v1h-1v1h-1v1h-1v1h-1v1h-1v1h-1v1h-1v1h-1v1h-1v1h-1v1h-1v1h-1zM194,415v-1h1v-1h1v-1h1v-1h1v-1h1v-1h1v-1h1v-1h1v-1h1v-1h1v-1h1v-1h1v-1h1v-1h1v-1h1v-1h1v-1h1v-1h1v-1h1v-1h1v-1h1v-1h1v-1h1v-1h1v-1h1v-1h1v-1h1v-1h1v-1h1v-1h1v-1h1v-1h1v1h-1v1h-1v1h-1v1h-1v1h-1v1h-1v1h-1v1h-1v1h-1v1h-1v1h-1v1h-1v1h-1v1h-1v1h-1v1h-1v1h-1v1h-1v1h-1v1h-1v1h-1v1h-1v1h-1v1h-1v1h-1v1h-1v1h-1v1h-1v1h-1v1h-1v1h-1v1h-1zM438,171v-1h1v-1h1v-1h1v-1h1v-1h1v-1h1v-1h1v-1h1v-1h1v-1h1v-1h1v-1h1v-1h1v-1h1v-1h1v-1h1v-1h1v-1h1v-1h1v-1h1v-1h1v-1h1v-1h1v1h-1v1h-1v1h-1v1h-1v1h-1v1h-1v1h-1v1h-1v1h-1v1h-1v1h-1v1h-1v1h-1v1h-1v1h-1v1h-1v1h-1v1h-1v1h-1v1h-1v1h-1v1h-1v1h-1zM469,140v-1h1v-1h1v-1h1v-1h1v-1h1v-1h1v-1h1v-1h1v-1h1v-1h1v-1h1v-1h1v-1h1v-1h1v-1h1v-1h1v-1h1v-1h1v-1h1v-1h1v-1h1v-1h1v-1h1v-1h1v-1h1v-1h1v-1h1v-1h1v-1h1v-1h1v-1h1v-1h1v-1h1v-1h1v-1h1v-1h1v-1h1v-1h1v-1h1v-1h1v1h-1v1h-1v1h-1v1h-1v1h-1v1h-1v1h-1v1h-1v1h-1v1h-1v1h-1v1h-1v1h-1v1h-1v1h-1v1h-1v1h-1v1h-1v1h-1v1h-1v1h-1v1h-1v1h-1v1h-1v1h-1v1h-1v1h-1v1h-1v1h-1v1h-1v1h-1v1h-1v1h-1v1h-1v1h-1v1h-1v1h-1v1h-1v1h-1v1h-1zM183,446v-1h1v-1h1v-1h1v-1h1v-1h1v-1h1v-1h1v-1h1v-1h1v-1h1v-1h1v-1h1v-1h1v-1h1v-1h1v-1h1v-1h1v-1h1v-1h1v-1h1v-1h1v-1h1v-1h1v-1h1v1h-1v1h-1v1h-1v1h-1v1h-1v1h-1v1h-1v1h-1v1h-1v1h-1v1h-1v1h-1v1h-1v1h-1v1h-1v1h-1v1h-1v1h-1v1h-1v1h-1v1h-1v1h-1v1h-1v1h-1zM214,415v-1h1v-1h1v-1h1v-1h1v-1h1v-1h1v-1h1v-1h1v-1h1v-1h1v-1h1v-1h1v1h-1v1h-1v1h-1v1h-1v1h-1v1h-1v1h-1v1h-1v1h-1v1h-1v1h-1v1h-1zM458,171v-1h1v-1h1v-1h1v-1h1v-1h1v-1h1v-1h1v-1h1v-1h1v-1h1v-1h1v-1h1v-1h1v-1h1v-1h1v-1h1v-1h1v-1h1v-1h1v-1h1v-1h1v-1h1v-1h1v1h-1v1h-1v1h-1v1h-1v1h-1v1h-1v1h-1v1h-1v1h-1v1h-1v1h-1v1h-1v1h-1v1h-1v1h-1v1h-1v1h-1v1h-1v1h-1v1h-1v1h-1v1h-1v1h-1zM489,140v-1h1v-1h1v-1h1v-1h1v-1h1v-1h1v-1h1v-1h1v-1h1v-1h1v-1h1v-1h1v-1h1v-1h1v-1h1v-1h1v-1h1v-1h1v-1h1v-1h1v1h-1v1h-1v1h-1v1h-1v1h-1v1h-1v1h-1v1h-1v1h-1v1h-1v1h-1v1h-1v1h-1v1h-1v1h-1v1h-1v1h-1v1h-1v1h-1v1h-1zM202,446v-1h1v-1h1v-1h1v-1h1v-1h1v-1h1v-1h1v-1h1v-1h1v-1h1v-1h1v-1h1v-1h1v-1h1v-1h1v-1h1v-1h1v-1h1v-1h1v-1h1v-1h1v-1h1v-1h1v-1h1v1h-1v1h-1v1h-1v1h-1v1h-1v1h-1v1h-1v1h-1v1h-1v1h-1v1h-1v1h-1v1h-1v1h-1v1h-1v1h-1v1h-1v1h-1v1h-1v1h-1v1h-1v1h-1v1h-1v1h-1zM477,171v-1h1v-1h1v-1h1v-1h1v-1h1v-1h1v-1h1v-1h1v-1h1v-1h1v-1h1v-1h1v-1h1v-1h1v-1h1v-1h1v-1h1v-1h1v-1h1v-1h1v-1h1v-1h1v-1h1v1h-1v1h-1v1h-1v1h-1v1h-1v1h-1v1h-1v1h-1v1h-1v1h-1v1h-1v1h-1v1h-1v1h-1v1h-1v1h-1v1h-1v1h-1v1h-1v1h-1v1h-1v1h-1v1h-1zM508,140v-1h1v1h-1zM222,446v-1h1v-1h1v-1h1v-1h1v-1h1v-1h1v-1h1v-1h1v-1h1v1h-1v1h-1v1h-1v1h-1v1h-1v1h-1v1h-1v1h-1v1h-1zM497,171v-1h1v-1h1v-1h1v-1h1v-1h1v-1h1v-1h1v-1h1v-1h1v-1h1v-1h1v-1h1v1h-1v1h-1v1h-1v1h-1v1h-1v1h-1v1h-1v1h-1v1h-1v1h-1v1h-1v1h-1zM394,263v-1h1v-1h1v-1h1v-1h1v-1h1v-1h1v-1h1v-1h1v-1h1v-1h1v-1h1v-1h1v-1h1v1h-1v1h-1v1h-1v1h-1v1h-1v1h-1v1h-1v1h-1v1h-1v1h-1v1h-1v1h-1v1h-1zM394,282v-1h1v-1h1v-1h1v-1h1v-1h1v-1h1v-1h1v-1h1v-1h1v-1h1v-1h1v-1h1v-1h1v-1h1v-1h1v-1h1v-1h1v-1h1v-1h1v-1h1v-1h1v-1h1v-1h1v-1h1v-1h1v-1h1v-1h1v-1h1v-1h1v-1h1v-1h1v-1h1v1h-1v1h-1v1h-1v1h-1v1h-1v1h-1v1h-1v1h-1v1h-1v1h-1v1h-1v1h-1v1h-1v1h-1v1h-1v1h-1v1h-1v1h-1v1h-1v1h-1v1h-1v1h-1v1h-1v1h-1v1h-1v1h-1v1h-1v1h-1v1h-1v1h-1v1h-1v1h-1zM394,302v-1h1v-1h1v-1h1v-1h1v-1h1v-1h1v-1h1v-1h1v-1h1v-1h1v-1h1v-1h1v-1h1v-1h1v-1h1v-1h1v-1h1v-1h1v-1h1v-1h1v-1h1v-1h1v-1h1v-1h1v-1h1v-1h1v-1h1v-1h1v-1h1v-1h1v-1h1v-1h1v-1h1v-1h1v-1h1v-1h1v-1h1v-1h1v-1h1v-1h1v-1h1v-1h1v-1h1v-1h1v-1h1v-1h1v-1h1v-1h1v-1h1v-1h1v-1h1v-1h1v1h-1v1h-1v1h-1v1h-1v1h-1v1h-1v1h-1v1h-1v1h-1v1h-1v1h-1v1h-1v1h-1v1h-1v1h-1v1h-1v1h-1v1h-1v1h-1v1h-1v1h-1v1h-1v1h-1v1h-1v1h-1v1h-1v1h-1v1h-1v1h-1v1h-1v1h-1v1h-1v1h-1v1h-1v1h-1v1h-1v1h-1v1h-1v1h-1v1h-1v1h-1v1h-1v1h-1v1h-1v1h-1v1h-1v1h-1v1h-1v1h-1v1h-1v1h-1v1h-1zM399,316v-1h1v-1h1v-1h1v-1h1v-1h1v-1h1v-1h1v-1h1v-1h1v-1h1v-1h1v-1h1v-1h1v-1h1v-1h1v-1h1v-1h1v-1h1v-1h1v-1h1v-1h1v-1h1v-1h1v-1h1v-1h1v-1h1v-1h1v-1h1v-1h1v-1h1v-1h1v-1h1v-1h1v-1h1v-1h1v-1h1v-1h1v-1h1v-1h1v-1h1v-1h1v-1h1v-1h1v-1h1v-1h1v-1h1v-1h1v-1h1v-1h1v-1h1v-1h1v-1h1v-1h1v-1h1v-1h1v-1h1v-1h1v-1h1v-1h1v-1h1v-1h1v-1h1v-1h1v-1h1v-1h1v-1h1v1h-1v1h-1v1h-1v1h-1v1h-1v1h-1v1h-1v1h-1v1h-1v1h-1v1h-1v1h-1v1h-1v1h-1v1h-1v1h-1v1h-1v1h-1v1h-1v1h-1v1h-1v1h-1v1h-1v1h-1v1h-1v1h-1v1h-1v1h-1v1h-1v1h-1v1h-1v1h-1v1h-1v1h-1v1h-1v1h-1v1h-1v1h-1v1h-1v1h-1v1h-1v1h-1v1h-1v1h-1v1h-1v1h-1v1h-1v1h-1v1h-1v1h-1v1h-1v1h-1v1h-1v1h-1v1h-1v1h-1v1h-1v1h-1v1h-1v1h-1v1h-1v1h-1v1h-1v1h-1v1h-1v1h-1zM419,316v-1h1v-1h1v-1h1v-1h1v-1h1v-1h1v-1h1v-1h1v-1h1v-1h1v-1h1v-1h1v-1h1v-1h1v-1h1v-1h1v-1h1v-1h1v-1h1v-1h1v-1h1v-1h1v-1h1v-1h1v-1h1v-1h1v-1h1v-1h1v-1h1v-1h1v-1h1v-1h1v-1h1v-1h1v-1h1v-1h1v-1h1v-1h1v-1h1v-1h1v-1h1v-1h1v-1h1v-1h1v-1h1v-1h1v-1h1v-1h1v-1h1v-1h1v-1h1v-1h1v-1h1v-1h1v-1h1v-1h1v-1h1v-1h1v-1h1v-1h1v-1h1v-1h1v-1h1v-1h1v-1h1v-1h1v1h-1v1h-1v1h-1v1h-1v1h-1v1h-1v1h-1v1h-1v1h-1v1h-1v1h-1v1h-1v1h-1v1h-1v1h-1v1h-1v1h-1v1h-1v1h-1v1h-1v1h-1v1h-1v1h-1v1h-1v1h-1v1h-1v1h-1v1h-1v1h-1v1h-1v1h-1v1h-1v1h-1v1h-1v1h-1v1h-1v1h-1v1h-1v1h-1v1h-1v1h-1v1h-1v1h-1v1h-1v1h-1v1h-1v1h-1v1h-1v1h-1v1h-1v1h-1v1h-1v1h-1v1h-1v1h-1v1h-1v1h-1v1h-1v1h-1v1h-1v1h-1v1h-1v1h-1v1h-1v1h-1v1h-1zM438,316v-1h1v-1h1v-1h1v-1h1v-1h1v-1h1v-1h1v-1h1v-1h1v-1h1v-1h1v-1h1v-1h1v-1h1v-1h1v-1h1v-1h1v-1h1v-1h1v-1h1v-1h1v-1h1v-1h1v-1h1v-1h1v-1h1v-1h1v-1h1v-1h1v-1h1v-1h1v-1h1v-1h1v-1h1v-1h1v-1h1v-1h1v-1h1v-1h1v-1h1v-1h1v-1h1v-1h1v-1h1v-1h1v-1h1v-1h1v-1h1v-1h1v-1h1v-1h1v-1h1v-1h1v-1h1v-1h1v-1h1v-1h1v-1h1v-1h1v-1h1v-1h1v-1h1v-1h1v-1h1v-1h1v-1h1v1h-1v1h-1v1h-1v1h-1v1h-1v1h-1v1h-1v1h-1v1h-1v1h-1v1h-1v1h-1v1h-1v1h-1v1h-1v1h-1v1h-1v1h-1v1h-1v1h-1v1h-1v1h-1v1h-1v1h-1v1h-1v1h-1v1h-1v1h-1v1h-1v1h-1v1h-1v1h-1v1h-1v1h-1v1h-1v1h-1v1h-1v1h-1v1h-1v1h-1v1h-1v1h-1v1h-1v1h-1v1h-1v1h-1v1h-1v1h-1v1h-1v1h-1v1h-1v1h-1v1h-1v1h-1v1h-1v1h-1v1h-1v1h-1v1h-1v1h-1v1h-1v1h-1v1h-1v1h-1v1h-1v1h-1zM451,323v-1h1v-1h1v-1h1v-1h1v-1h1v-1h1v-1h1v-1h1v-1h1v-1h1v-1h1v-1h1v-1h1v-1h1v-1h1v-1h1v-1h1v-1h1v-1h1v-1h1v-1h1v-1h1v-1h1v-1h1v-1h1v-1h1v-1h1v-1h1v-1h1v-1h1v-1h1v-1h1v-1h1v-1h1v-1h1v-1h1v-1h1v-1h1v-1h1v-1h1v-1h1v-1h1v-1h1v-1h1v-1h1v-1h1v-1h1v-1h1v-1h1v-1h1v-1h1v-1h1v-1h1v-1h1v-1h1v-1h1v-1h1v-1h1v-1h1v-1h1v-1h1v-1h1v-1h1v-1h1v-1h1v-1h1v-1h1v-1h1v-1h1v-1h1v-1h1v-1h1v-1h1v1h-1v1h-1v1h-1v1h-1v1h-1v1h-1v1h-1v1h-1v1h-1v1h-1v1h-1v1h-1v1h-1v1h-1v1h-1v1h-1v1h-1v1h-1v1h-1v1h-1v1h-1v1h-1v1h-1v1h-1v1h-1v1h-1v1h-1v1h-1v1h-1v1h-1v1h-1v1h-1v1h-1v1h-1v1h-1v1h-1v1h-1v1h-1v1h-1v1h-1v1h-1v1h-1v1h-1v1h-1v1h-1v1h-1v1h-1v1h-1v1h-1v1h-1v1h-1v1h-1v1h-1v1h-1v1h-1v1h-1v1h-1v1h-1v1h-1v1h-1v1h-1v1h-1v1h-1v1h-1v1h-1v1h-1v1h-1v1h-1v1h-1v1h-1v1h-1v1h-1v1h-1zM451,342v-1h1v-1h1v-1h1v-1h1v-1h1v-1h1v-1h1v-1h1v-1h1v-1h1v-1h1v-1h1v-1h1v-1h1v-1h1v-1h1v-1h1v-1h1v-1h1v-1h1v-1h1v-1h1v-1h1v-1h1v-1h1v-1h1v-1h1v-1h1v-1h1v-1h1v-1h1v-1h1v-1h1v-1h1v-1h1v-1h1v-1h1v-1h1v-1h1v-1h1v-1h1v-1h1v-1h1v-1h1v-1h1v-1h1v-1h1v-1h1v-1h1v-1h1v-1h1v-1h1v-1h1v-1h1v-1h1v-1h1v-1h1v-1h1v-1h1v-1h1v-1h1v-1h1v-1h1v-1h1v-1h1v-1h1v-1h1v-1h1v-1h1v-1h1v-1h1v-1h1v-1h1v-1h1v-1h1v-1h1v-1h1v-1h1v-1h1v-1h1v-1h1v-1h1v-1h1v-1h1v-1h1v-1h1v-1h1v-1h1v-1h1v-1h1v-1h1v-1h1v1h-1v1h-1v1h-1v1h-1v1h-1v1h-1v1h-1v1h-1v1h-1v1h-1v1h-1v1h-1v1h-1v1h-1v1h-1v1h-1v1h-1v1h-1v1h-1v1h-1v1h-1v1h-1v1h-1v1h-1v1h-1v1h-1v1h-1v1h-1v1h-1v1h-1v1h-1v1h-1v1h-1v1h-1v1h-1v1h-1v1h-1v1h-1v1h-1v1h-1v1h-1v1h-1v1h-1v1h-1v1h-1v1h-1v1h-1v1h-1v1h-1v1h-1v1h-1v1h-1v1h-1v1h-1v1h-1v1h-1v1h-1v1h-1v1h-1v1h-1v1h-1v1h-1v1h-1v1h-1v1h-1v1h-1v1h-1v1h-1v1h-1v1h-1v1h-1v1h-1v1h-1v1h-1v1h-1v1h-1v1h-1v1h-1v1h-1v1h-1v1h-1v1h-1v1h-1v1h-1v1h-1v1h-1v1h-1v1h-1v1h-1v1h-1v1h-1v1h-1zM451,362v-1h1v-1h1v-1h1v-1h1v-1h1v-1h1v-1h1v-1h1v-1h1v-1h1v-1h1v-1h1v-1h1v-1h1v-1h1v-1h1v-1h1v-1h1v-1h1v-1h1v-1h1v-1h1v-1h1v-1h1v-1h1v-1h1v-1h1v-1h1v-1h1v-1h1v-1h1v-1h1v-1h1v-1h1v-1h1v-1h1v-1h1v-1h1v-1h1v-1h1v-1h1v-1h1v-1h1v-1h1v-1h1v-1h1v-1h1v-1h1v-1h1v-1h1v-1h1v-1h1v-1h1v-1h1v-1h1v-1h1v-1h1v-1h1v-1h1v-1h1v-1h1v-1h1v-1h1v-1h1v-1h1v-1h1v-1h1v-1h1v-1h1v-1h1v-1h1v-1h1v-1h1v-1h1v-1h1v-1h1v-1h1v-1h1v-1h1v-1h1v-1h1v-1h1v-1h1v-1h1v-1h1v-1h1v-1h1v-1h1v-1h1v-1h1v-1h1v-1h1v-1h1v-1h1v-1h1v-1h1v-1h1v-1h1v-1h1v-1h1v-1h1v-1h1v-1h1v-1h1v-1h1v-1h1v-1h1v-1h1v-1h1v-1h1v-1h1v-1h1v1h-1v1h-1v1h-1v1h-1v1h-1v1h-1v1h-1v1h-1v1h-1v1h-1v1h-1v1h-1v1h-1v1h-1v1h-1v1h-1v1h-1v1h-1v1h-1v1h-1v1h-1v1h-1v1h-1v1h-1v1h-1v1h-1v1h-1v1h-1v1h-1v1h-1v1h-1v1h-1v1h-1v1h-1v1h-1v1h-1v1h-1v1h-1v1h-1v1h-1v1h-1v1h-1v1h-1v1h-1v1h-1v1h-1v1h-1v1h-1v1h-1v1h-1v1h-1v1h-1v1h-1v1h-1v1h-1v1h-1v1h-1v1h-1v1h-1v1h-1v1h-1v1h-1v1h-1v1h-1v1h-1v1h-1v1h-1v1h-1v1h-1v1h-1v1h-1v1h-1v1h-1v1h-1v1h-1v1h-1v1h-1v1h-1v1h-1v1h-1v1h-1v1h-1v1h-1v1h-1v1h-1v1h-1v1h-1v1h-1v1h-1v1h-1v1h-1v1h-1v1h-1v1h-1v1h-1v1h-1v1h-1v1h-1v1h-1v1h-1v1h-1v1h-1v1h-1v1h-1v1h-1v1h-1v1h-1v1h-1v1h-1v1h-1v1h-1v1h-1zM451,381v-1h1v-1h1v-1h1v-1h1v-1h1v-1h1v-1h1v-1h1v-1h1v-1h1v-1h1v-1h1v-1h1v-1h1v-1h1v-1h1v-1h1v-1h1v-1h1v-1h1v-1h1v-1h1v-1h1v-1h1v-1h1v-1h1v-1h1v-1h1v-1h1v-1h1v-1h1v-1h1v-1h1v-1h1v-1h1v-1h1v-1h1v-1h1v-1h1v-1h1v-1h1v-1h1v-1h1v-1h1v-1h1v-1h1v-1h1v-1h1v-1h1v-1h1v-1h1v-1h1v-1h1v-1h1v-1h1v-1h1v-1h1v-1h1v-1h1v-1h1v-1h1v-1h1v-1h1v-1h1v-1h1v-1h1v-1h1v-1h1v-1h1v-1h1v-1h1v-1h1v-1h1v-1h1v-1h1v-1h1v-1h1v-1h1v-1h1v-1h1v-1h1v-1h1v-1h1v-1h1v-1h1v-1h1v-1h1v-1h1v-1h1v-1h1v-1h1v-1h1v-1h1v-1h1v-1h1v-1h1v-1h1v-1h1v-1h1v-1h1v-1h1v-1h1v-1h1v-1h1v-1h1v-1h1v-1h1v-1h1v-1h1v-1h1v-1h1v-1h1v-1h1v-1h1v-1h1v-1h1v-1h1v-1h1v-1h1v-1h1v-1h1v-1h1v-1h1v-1h1v-1h1v-1h1v-1h1v-1h1v-1h1v-1h1v-1h1v1h-1v1h-1v1h-1v1h-1v1h-1v1h-1v1h-1v1h-1v1h-1v1h-1v1h-1v1h-1v1h-1v1h-1v1h-1v1h-1v1h-1v1h-1v1h-1v1h-1v1h-1v1h-1v1h-1v1h-1v1h-1v1h-1v1h-1v1h-1v1h-1v1h-1v1h-1v1h-1v1h-1v1h-1v1h-1v1h-1v1h-1v1h-1v1h-1v1h-1v1h-1v1h-1v1h-1v1h-1v1h-1v1h-1v1h-1v1h-1v1h-1v1h-1v1h-1v1h-1v1h-1v1h-1v1h-1v1h-1v1h-1v1h-1v1h-1v1h-1v1h-1v1h-1v1h-1v1h-1v1h-1v1h-1v1h-1v1h-1v1h-1v1h-1v1h-1v1h-1v1h-1v1h-1v1h-1v1h-1v1h-1v1h-1v1h-1v1h-1v1h-1v1h-1v1h-1v1h-1v1h-1v1h-1v1h-1v1h-1v1h-1v1h-1v1h-1v1h-1v1h-1v1h-1v1h-1v1h-1v1h-1v1h-1v1h-1v1h-1v1h-1v1h-1v1h-1v1h-1v1h-1v1h-1v1h-1v1h-1v1h-1v1h-1v1h-1v1h-1v1h-1v1h-1v1h-1v1h-1v1h-1v1h-1v1h-1v1h-1v1h-1v1h-1v1h-1v1h-1v1h-1v1h-1v1h-1v1h-1v1h-1v1h-1v1h-1zM451,400v-1h1v-1h1v-1h1v-1h1v-1h1v-1h1v-1h1v-1h1v-1h1v-1h1v-1h1v-1h1v-1h1v-1h1v-1h1v-1h1v-1h1v-1h1v-1h1v-1h1v-1h1v-1h1v-1h1v-1h1v-1h1v-1h1v-1h1v-1h1v-1h1v-1h1v-1h1v-1h1v-1h1v-1h1v-1h1v-1h1v-1h1v-1h1v-1h1v-1h1v-1h1v-1h1v-1h1v-1h1v-1h1v-1h1v-1h1v-1h1v-1h1v-1h1v-1h1v-1h1v-1h1v-1h1v-1h1v-1h1v-1h1v-1h1v-1h1v-1h1v-1h1v-1h1v-1h1v-1h1v-1h1v-1h1v-1h1v-1h1v-1h1v-1h1v-1h1v-1h1v-1h1v-1h1v-1h1v-1h1v-1h1v-1h1v-1h1v-1h1v-1h1v-1h1v-1h1v-1h1v-1h1v-1h1v-1h1v-1h1v-1h1v-1h1v-1h1v-1h1v-1h1v-1h1v-1h1v-1h1v-1h1v-1h1v-1h1v-1h1v-1h1v-1h1v-1h1v-1h1v-1h1v-1h1v-1h1v-1h1v-1h1v-1h1v-1h1v-1h1v-1h1v-1h1v-1h1v-1h1v-1h1v-1h1v-1h1v-1h1v-1h1v-1h1v-1h1v-1h1v-1h1v-1h1v-1h1v-1h1v-1h1v-1h1v-1h1v-1h1v-1h1v-1h1v-1h1v-1h1v-1h1v-1h1v-1h1v-1h1v-1h1v-1h1v-1h1v-1h1v-1h1v-1h1v-1h1v-1h1v-1h1v-1h1v1h-1v1h-1v1h-1v1h-1v1h-1v1h-1v1h-1v1h-1v1h-1v1h-1v1h-1v1h-1v1h-1v1h-1v1h-1v1h-1v1h-1v1h-1v1h-1v1h-1v1h-1v1h-1v1h-1v1h-1v1h-1v1h-1v1h-1v1h-1v1h-1v1h-1v1h-1v1h-1v1h-1v1h-1v1h-1v1h-1v1h-1v1h-1v1h-1v1h-1v1h-1v1h-1v1h-1v1h-1v1h-1v1h-1v1h-1v1h-1v1h-1v1h-1v1h-1v1h-1v1h-1v1h-1v1h-1v1h-1v1h-1v1h-1v1h-1v1h-1v1h-1v1h-1v1h-1v1h-1v1h-1v1h-1v1h-1v1h-1v1h-1v1h-1v1h-1v1h-1v1h-1v1h-1v1h-1v1h-1v1h-1v1h-1v1h-1v1h-1v1h-1v1h-1v1h-1v1h-1v1h-1v1h-1v1h-1v1h-1v1h-1v1h-1v1h-1v1h-1v1h-1v1h-1v1h-1v1h-1v1h-1v1h-1v1h-1v1h-1v1h-1v1h-1v1h-1v1h-1v1h-1v1h-1v1h-1v1h-1v1h-1v1h-1v1h-1v1h-1v1h-1v1h-1v1h-1v1h-1v1h-1v1h-1v1h-1v1h-1v1h-1v1h-1v1h-1v1h-1v1h-1v1h-1v1h-1v1h-1v1h-1v1h-1v1h-1v1h-1v1h-1v1h-1v1h-1v1h-1v1h-1v1h-1v1h-1v1h-1v1h-1v1h-1v1h-1v1h-1v1h-1v1h-1v1h-1v1h-1v1h-1v1h-1zM451,420v-1h1v-1h1v-1h1v-1h1v-1h1v-1h1v-1h1v-1h1v-1h1v-1h1v-1h1v-1h1v-1h1v-1h1v-1h1v-1h1v-1h1v-1h1v-1h1v-1h1v-1h1v-1h1v-1h1v-1h1v-1h1v-1h1v-1h1v-1h1v-1h1v-1h1v-1h1v-1h1v-1h1v-1h1v-1h1v-1h1v-1h1v-1h1v-1h1v-1h1v-1h1v-1h1v-1h1v-1h1v-1h1v-1h1v-1h1v-1h1v-1h1v-1h1v-1h1v-1h1v-1h1v-1h1v-1h1v-1h1v-1h1v-1h1v-1h1v-1h1v-1h1v-1h1v-1h1v-1h1v-1h1v-1h1v-1h1v-1h1v-1h1v-1h1v-1h1v-1h1v-1h1v-1h1v-1h1v-1h1v-1h1v-1h1v-1h1v-1h1v-1h1v-1h1v-1h1v-1h1v-1h1v-1h1v-1h1v-1h1v-1h1v-1h1v-1h1v-1h1v-1h1v-1h1v-1h1v-1h1v-1h1v-1h1v-1h1v-1h1v-1h1v-1h1v-1h1v-1h1v-1h1v-1h1v-1h1v-1h1v-1h1v-1h1v-1h1v-1h1v-1h1v-1h1v-1h1v-1h1v-1h1v-1h1v-1h1v-1h1v-1h1v-1h1v-1h1v-1h1v-1h1v-1h1v-1h1v-1h1v-1h1v-1h1v-1h1v-1h1v-1h1v-1h1v-1h1v-1h1v-1h1v-1h1v-1h1v-1h1v-1h1v-1h1v-1h1v-1h1v-1h1v-1h1v-1h1v-1h1v-1h1v-1h1v-1h1v-1h1v-1h1v-1h1v-1h1v-1h1v-1h1v-1h1v-1h1v-1h1v-1h1v-1h1v-1h1v-1h1v1h-1v1h-1v1h-1v1h-1v1h-1v1h-1v1h-1v1h-1v1h-1v1h-1v1h-1v1h-1v1h-1v1h-1v1h-1v1h-1v1h-1v1h-1v1h-1v1h-1v1h-1v1h-1v1h-1v1h-1v1h-1v1h-1v1h-1v1h-1v1h-1v1h-1v1h-1v1h-1v1h-1v1h-1v1h-1v1h-1v1h-1v1h-1v1h-1v1h-1v1h-1v1h-1v1h-1v1h-1v1h-1v1h-1v1h-1v1h-1v1h-1v1h-1v1h-1v1h-1v1h-1v1h-1v1h-1v1h-1v1h-1v1h-1v1h-1v1h-1v1h-1v1h-1v1h-1v1h-1v1h-1v1h-1v1h-1v1h-1v1h-1v1h-1v1h-1v1h-1v1h-1v1h-1v1h-1v1h-1v1h-1v1h-1v1h-1v1h-1v1h-1v1h-1v1h-1v1h-1v1h-1v1h-1v1h-1v1h-1v1h-1v1h-1v1h-1v1h-1v1h-1v1h-1v1h-1v1h-1v1h-1v1h-1v1h-1v1h-1v1h-1v1h-1v1h-1v1h-1v1h-1v1h-1v1h-1v1h-1v1h-1v1h-1v1h-1v1h-1v1h-1v1h-1v1h-1v1h-1v1h-1v1h-1v1h-1v1h-1v1h-1v1h-1v1h-1v1h-1v1h-1v1h-1v1h-1v1h-1v1h-1v1h-1v1h-1v1h-1v1h-1v1h-1v1h-1v1h-1v1h-1v1h-1v1h-1v1h-1v1h-1v1h-1v1h-1v1h-1v1h-1v1h-1v1h-1v1h-1v1h-1v1h-1v1h-1v1h-1v1h-1v1h-1v1h-1v1h-1v1h-1v1h-1v1h-1v1h-1v1h-1v1h-1v1h-1v1h-1zM451,439v-1h1v-1h1v-1h1v-1h1v-1h1v-1h1v-1h1v-1h1v-1h1v-1h1v-1h1v-1h1v-1h1v-1h1v-1h1v-1h1v-1h1v-1h1v-1h1v-1h1v-1h1v-1h1v-1h1v-1h1v-1h1v-1h1v-1h1v-1h1v-1h1v-1h1v-1h1v-1h1v-1h1v-1h1v-1h1v-1h1v-1h1v-1h1v-1h1v-1h1v-1h1v-1h1v-1h1v-1h1v-1h1v-1h1v-1h1v-1h1v-1h1v-1h1v-1h1v-1h1v-1h1v-1h1v-1h1v-1h1v-1h1v-1h1v-1h1v-1h1v-1h1v-1h1v-1h1v-1h1v-1h1v-1h1v-1h1v-1h1v-1h1v-1h1v-1h1v-1h1v-1h1v-1h1v-1h1v-1h1v-1h1v-1h1v-1h1v-1h1v-1h1v-1h1v-1h1v-1h1v-1h1v-1h1v-1h1v-1h1v-1h1v-1h1v-1h1v-1h1v-1h1v-1h1v-1h1v-1h1v-1h1v-1h1v-1h1v-1h1v-1h1v-1h1v-1h1v-1h1v-1h1v-1h1v-1h1v-1h1v-1h1v-1h1v-1h1v-1h1v-1h1v-1h1v-1h1v-1h1v-1h1v-1h1v-1h1v-1h1v-1h1v-1h1v-1h1v-1h1v-1h1v-1h1v-1h1v-1h1v-1h1v-1h1v-1h1v-1h1v-1h1v-1h1v-1h1v-1h1v-1h1v-1h1v-1h1v-1h1v-1h1v-1h1v-1h1v-1h1v-1h1v-1h1v-1h1v-1h1v-1h1v-1h1v-1h1v-1h1v-1h1v-1h1v-1h1v-1h1v-1h1v-1h1v-1h1v-1h1v-1h1v-1h1v-1h1v-1h1v-1h1v-1h1v-1h1v-1h1v-1h1v-1h1v-1h1v-1h1v-1h1v-1h1v-1h1v1h-1v1h-1v1h-1v1h-1v1h-1v1h-1v1h-1v1h-1v1h-1v1h-1v1h-1v1h-1v1h-1v1h-1v1h-1v1h-1v1h-1v1h-1v1h-1v1h-1v1h-1v1h-1v1h-1v1h-1v1h-1v1h-1v1h-1v1h-1v1h-1v1h-1v1h-1v1h-1v1h-1v1h-1v1h-1v1h-1v1h-1v1h-1v1h-1v1h-1v1h-1v1h-1v1h-1v1h-1v1h-1v1h-1v1h-1v1h-1v1h-1v1h-1v1h-1v1h-1v1h-1v1h-1v1h-1v1h-1v1h-1v1h-1v1h-1v1h-1v1h-1v1h-1v1h-1v1h-1v1h-1v1h-1v1h-1v1h-1v1h-1v1h-1v1h-1v1h-1v1h-1v1h-1v1h-1v1h-1v1h-1v1h-1v1h-1v1h-1v1h-1v1h-1v1h-1v1h-1v1h-1v1h-1v1h-1v1h-1v1h-1v1h-1v1h-1v1h-1v1h-1v1h-1v1h-1v1h-1v1h-1v1h-1v1h-1v1h-1v1h-1v1h-1v1h-1v1h-1v1h-1v1h-1v1h-1v1h-1v1h-1v1h-1v1h-1v1h-1v1h-1v1h-1v1h-1v1h-1v1h-1v1h-1v1h-1v1h-1v1h-1v1h-1v1h-1v1h-1v1h-1v1h-1v1h-1v1h-1v1h-1v1h-1v1h-1v1h-1v1h-1v1h-1v1h-1v1h-1v1h-1v1h-1v1h-1v1h-1v1h-1v1h-1v1h-1v1h-1v1h-1v1h-1v1h-1v1h-1v1h-1v1h-1v1h-1v1h-1v1h-1v1h-1v1h-1v1h-1v1h-1v1h-1v1h-1v1h-1v1h-1v1h-1v1h-1v1h-1v1h-1v1h-1v1h-1v1h-1v1h-1v1h-1v1h-1v1h-1v1h-1v1h-1v1h-1zM451,459v-1h1v-1h1v-1h1v-1h1v-1h1v-1h1v-1h1v-1h1v-1h1v-1h1v-1h1v-1h1v-1h1v-1h1v-1h1v-1h1v-1h1v-1h1v-1h1v-1h1v-1h1v-1h1v-1h1v-1h1v-1h1v-1h1v-1h1v-1h1v-1h1v-1h1v-1h1v-1h1v-1h1v-1h1v-1h1v-1h1v-1h1v-1h1v-1h1v-1h1v-1h1v-1h1v-1h1v-1h1v-1h1v-1h1v-1h1v-1h1v-1h1v-1h1v-1h1v-1h1v-1h1v-1h1v-1h1v-1h1v-1h1v-1h1v-1h1v-1h1v-1h1v-1h1v-1h1v-1h1v-1h1v-1h1v-1h1v-1h1v-1h1v-1h1v-1h1v-1h1v-1h1v-1h1v-1h1v-1h1v-1h1v-1h1v-1h1v-1h1v-1h1v-1h1v-1h1v-1h1v-1h1v-1h1v-1h1v-1h1v-1h1v-1h1v-1h1v-1h1v-1h1v-1h1v-1h1v-1h1v-1h1v-1h1v-1h1v-1h1v-1h1v-1h1v-1h1v-1h1v-1h1v-1h1v-1h1v-1h1v-1h1v-1h1v-1h1v-1h1v-1h1v-1h1v-1h1v-1h1v-1h1v-1h1v-1h1v-1h1v-1h1v-1h1v-1h1v-1h1v-1h1v-1h1v-1h1v-1h1v-1h1v-1h1v-1h1v-1h1v-1h1v-1h1v-1h1v-1h1v-1h1v-1h1v1h-1v1h-1v1h-1v1h-1v1h-1v1h-1v1h-1v1h-1v1h-1v1h-1v1h-1v1h-1v1h-1v1h-1v1h-1v1h-1v1h-1v1h-1v1h-1v1h-1v1h-1v1h-1v1h-1v1h-1v1h-1v1h-1v1h-1v1h-1v1h-1v1h-1v1h-1v1h-1v1h-1v1h-1v1h-1v1h-1v1h-1v1h-1v1h-1v1h-1v1h-1v1h-1v1h-1v1h-1v1h-1v1h-1v1h-1v1h-1v1h-1v1h-1v1h-1v1h-1v1h-1v1h-1v1h-1v1h-1v1h-1v1h-1v1h-1v1h-1v1h-1v1h-1v1h-1v1h-1v1h-1v1h-1v1h-1v1h-1v1h-1v1h-1v1h-1v1h-1v1h-1v1h-1v1h-1v1h-1v1h-1v1h-1v1h-1v1h-1v1h-1v1h-1v1h-1v1h-1v1h-1v1h-1v1h-1v1h-1v1h-1v1h-1v1h-1v1h-1v1h-1v1h-1v1h-1v1h-1v1h-1v1h-1v1h-1v1h-1v1h-1v1h-1v1h-1v1h-1v1h-1v1h-1v1h-1v1h-1v1h-1v1h-1v1h-1v1h-1v1h-1v1h-1v1h-1v1h-1v1h-1v1h-1v1h-1v1h-1v1h-1v1h-1v1h-1v1h-1v1h-1v1h-1v1h-1v1h-1v1h-1v1h-1v1h-1v1h-1v1h-1v1h-1v1h-1v1h-1v1h-1v1h-1zM594,316v-1h1v-1h1v-1h1v-1h1v-1h1v-1h1v-1h1v-1h1v-1h1v-1h1v-1h1v-1h1v-1h1v-1h1v-1h1v-1h1v-1h1v-1h1v-1h1v-1h1v-1h1v-1h1v-1h1v-1h1v-1h1v-1h1v-1h1v-1h1v-1h1v-1h1v-1h1v-1h1v1h-1v1h-1v1h-1v1h-1v1h-1v1h-1v1h-1v1h-1v1h-1v1h-1v1h-1v1h-1v1h-1v1h-1v1h-1v1h-1v1h-1v1h-1v1h-1v1h-1v1h-1v1h-1v1h-1v1h-1v1h-1v1h-1v1h-1v1h-1v1h-1v1h-1v1h-1v1h-1zM634,276v-1h1v-1h1v-1h1v-1h1v-1h1v-1h1v-1h1v-1h1v-1h1v-1h1v-1h1v-1h1v-1h1v-1h1v-1h1v-1h1v-1h1v-1h1v-1h1v-1h1v1h-1v1h-1v1h-1v1h-1v1h-1v1h-1v1h-1v1h-1v1h-1v1h-1v1h-1v1h-1v1h-1v1h-1v1h-1v1h-1v1h-1v1h-1v1h-1v1h-1zM451,478v-1h1v-1h1v-1h1v-1h1v-1h1v-1h1v-1h1v-1h1v-1h1v-1h1v-1h1v-1h1v-1h1v-1h1v-1h1v-1h1v-1h1v-1h1v-1h1v-1h1v-1h1v-1h1v-1h1v-1h1v-1h1v-1h1v-1h1v-1h1v-1h1v-1h1v-1h1v-1h1v-1h1v-1h1v-1h1v-1h1v-1h1v-1h1v-1h1v-1h1v-1h1v-1h1v-1h1v-1h1v-1h1v-1h1v-1h1v-1h1v-1h1v-1h1v-1h1v-1h1v-1h1v-1h1v-1h1v-1h1v-1h1v-1h1v-1h1v-1h1v-1h1v-1h1v-1h1v-1h1v-1h1v-1h1v-1h1v-1h1v-1h1v-1h1v-1h1v-1h1v-1h1v-1h1v-1h1v-1h1v-1h1v-1h1v-1h1v-1h1v-1h1v-1h1v-1h1v-1h1v-1h1v-1h1v-1h1v-1h1v-1h1v-1h1v-1h1v-1h1v-1h1v-1h1v-1h1v-1h1v-1h1v-1h1v-1h1v-1h1v-1h1v-1h1v-1h1v-1h1v-1h1v-1h1v-1h1v-1h1v-1h1v-1h1v-1h1v-1h1v-1h1v-1h1v-1h1v-1h1v-1h1v-1h1v-1h1v-1h1v-1h1v-1h1v-1h1v-1h1v-1h1v-1h1v-1h1v-1h1v-1h1v-1h1v-1h1v-1h1v-1h1v-1h1v-1h1v-1h1v-1h1v-1h1v1h-1v1h-1v1h-1v1h-1v1h-1v1h-1v1h-1v1h-1v1h-1v1h-1v1h-1v1h-1v1h-1v1h-1v1h-1v1h-1v1h-1v1h-1v1h-1v1h-1v1h-1v1h-1v1h-1v1h-1v1h-1v1h-1v1h-1v1h-1v1h-1v1h-1v1h-1v1h-1v1h-1v1h-1v1h-1v1h-1v1h-1v1h-1v1h-1v1h-1v1h-1v1h-1v1h-1v1h-1v1h-1v1h-1v1h-1v1h-1v1h-1v1h-1v1h-1v1h-1v1h-1v1h-1v1h-1v1h-1v1h-1v1h-1v1h-1v1h-1v1h-1v1h-1v1h-1v1h-1v1h-1v1h-1v1h-1v1h-1v1h-1v1h-1v1h-1v1h-1v1h-1v1h-1v1h-1v1h-1v1h-1v1h-1v1h-1v1h-1v1h-1v1h-1v1h-1v1h-1v1h-1v1h-1v1h-1v1h-1v1h-1v1h-1v1h-1v1h-1v1h-1v1h-1v1h-1v1h-1v1h-1v1h-1v1h-1v1h-1v1h-1v1h-1v1h-1v1h-1v1h-1v1h-1v1h-1v1h-1v1h-1v1h-1v1h-1v1h-1v1h-1v1h-1v1h-1v1h-1v1h-1v1h-1v1h-1v1h-1v1h-1v1h-1v1h-1v1h-1v1h-1v1h-1v1h-1v1h-1v1h-1v1h-1v1h-1v1h-1v1h-1v1h-1v1h-1v1h-1v1h-1v1h-1zM613,316v-1h1v-1h1v-1h1v-1h1v-1h1v-1h1v-1h1v-1h1v-1h1v-1h1v-1h1v-1h1v-1h1v-1h1v-1h1v-1h1v-1h1v-1h1v-1h1v-1h1v-1h1v-1h1v-1h1v-1h1v-1h1v-1h1v-1h1v-1h1v-1h1v-1h1v-1h1v-1h1v-1h1v-1h1v-1h1v-1h1v-1h1v-1h1v-1h1v-1h1v-1h1v-1h1v-1h1v-1h1v-1h1v-1h1v-1h1v-1h1v-1h1v-1h1v-1h1v-1h1v-1h1v-1h1v-1h1v-1h1v-1h1v-1h1v-1h1v-1h1v1h-1v1h-1v1h-1v1h-1v1h-1v1h-1v1h-1v1h-1v1h-1v1h-1v1h-1v1h-1v1h-1v1h-1v1h-1v1h-1v1h-1v1h-1v1h-1v1h-1v1h-1v1h-1v1h-1v1h-1v1h-1v1h-1v1h-1v1h-1v1h-1v1h-1v1h-1v1h-1v1h-1v1h-1v1h-1v1h-1v1h-1v1h-1v1h-1v1h-1v1h-1v1h-1v1h-1v1h-1v1h-1v1h-1v1h-1v1h-1v1h-1v1h-1v1h-1v1h-1v1h-1v1h-1v1h-1v1h-1v1h-1v1h-1v1h-1v1h-1zM451,498v-1h1v-1h1v-1h1v-1h1v-1h1v-1h1v-1h1v-1h1v-1h1v-1h1v-1h1v-1h1v-1h1v-1h1v-1h1v-1h1v-1h1v-1h1v-1h1v-1h1v-1h1v-1h1v-1h1v-1h1v-1h1v-1h1v-1h1v-1h1v-1h1v-1h1v-1h1v-1h1v-1h1v-1h1v-1h1v-1h1v-1h1v-1h1v-1h1v-1h1v-1h1v-1h1v-1h1v-1h1v-1h1v-1h1v-1h1v-1h1v-1h1v-1h1v-1h1v-1h1v-1h1v-1h1v-1h1v-1h1v-1h1v-1h1v-1h1v-1h1v-1h1v-1h1v-1h1v-1h1v-1h1v-1h1v-1h1v-1h1v-1h1v-1h1v-1h1v-1h1v-1h1v-1h1v-1h1v-1h1v-1h1v-1h1v-1h1v-1h1v-1h1v-1h1v-1h1v-1h1v-1h1v-1h1v-1h1v-1h1v-1h1v-1h1v-1h1v-1h1v-1h1v-1h1v-1h1v-1h1v-1h1v-1h1v-1h1v-1h1v-1h1v-1h1v-1h1v-1h1v-1h1v-1h1v-1h1v-1h1v-1h1v-1h1v-1h1v-1h1v-1h1v-1h1v-1h1v-1h1v-1h1v-1h1v-1h1v-1h1v-1h1v-1h1v-1h1v-1h1v-1h1v-1h1v-1h1v-1h1v-1h1v-1h1v-1h1v-1h1v-1h1v-1h1v-1h1v-1h1v-1h1v-1h1v1h-1v1h-1v1h-1v1h-1v1h-1v1h-1v1h-1v1h-1v1h-1v1h-1v1h-1v1h-1v1h-1v1h-1v1h-1v1h-1v1h-1v1h-1v1h-1v1h-1v1h-1v1h-1v1h-1v1h-1v1h-1v1h-1v1h-1v1h-1v1h-1v1h-1v1h-1v1h-1v1h-1v1h-1v1h-1v1h-1v1h-1v1h-1v1h-1v1h-1v1h-1v1h-1v1h-1v1h-1v1h-1v1h-1v1h-1v1h-1v1h-1v1h-1v1h-1v1h-1v1h-1v1h-1v1h-1v1h-1v1h-1v1h-1v1h-1v1h-1v1h-1v1h-1v1h-1v1h-1v1h-1v1h-1v1h-1v1h-1v1h-1v1h-1v1h-1v1h-1v1h-1v1h-1v1h-1v1h-1v1h-1v1h-1v1h-1v1h-1v1h-1v1h-1v1h-1v1h-1v1h-1v1h-1v1h-1v1h-1v1h-1v1h-1v1h-1v1h-1v1h-1v1h-1v1h-1v1h-1v1h-1v1h-1v1h-1v1h-1v1h-1v1h-1v1h-1v1h-1v1h-1v1h-1v1h-1v1h-1v1h-1v1h-1v1h-1v1h-1v1h-1v1h-1v1h-1v1h-1v1h-1v1h-1v1h-1v1h-1v1h-1v1h-1v1h-1v1h-1v1h-1v1h-1v1h-1v1h-1v1h-1v1h-1v1h-1v1h-1v1h-1v1h-1v1h-1v1h-1v1h-1v1h-1zM633,316v-1h1v-1h1v-1h1v-1h1v-1h1v-1h1v-1h1v-1h1v-1h1v-1h1v-1h1v-1h1v-1h1v-1h1v-1h1v-1h1v-1h1v-1h1v-1h1v-1h1v-1h1v-1h1v-1h1v-1h1v-1h1v-1h1v-1h1v-1h1v-1h1v-1h1v-1h1v-1h1v-1h1v-1h1v-1h1v-1h1v-1h1v-1h1v-1h1v-1h1v-1h1v-1h1v-1h1v-1h1v-1h1v-1h1v-1h1v-1h1v1h-1v1h-1v1h-1v1h-1v1h-1v1h-1v1h-1v1h-1v1h-1v1h-1v1h-1v1h-1v1h-1v1h-1v1h-1v1h-1v1h-1v1h-1v1h-1v1h-1v1h-1v1h-1v1h-1v1h-1v1h-1v1h-1v1h-1v1h-1v1h-1v1h-1v1h-1v1h-1v1h-1v1h-1v1h-1v1h-1v1h-1v1h-1v1h-1v1h-1v1h-1v1h-1v1h-1v1h-1v1h-1v1h-1v1h-1v1h-1zM689,260v-1h1v-1h1v-1h1v-1h1v1h-1v1h-1v1h-1v1h-1zM451,517v-1h1v-1h1v-1h1v-1h1v-1h1v-1h1v-1h1v-1h1v-1h1v-1h1v-1h1v-1h1v-1h1v-1h1v-1h1v-1h1v-1h1v-1h1v-1h1v-1h1v-1h1v-1h1v-1h1v-1h1v-1h1v-1h1v-1h1v-1h1v-1h1v-1h1v-1h1v-1h1v-1h1v-1h1v-1h1v-1h1v-1h1v-1h1v-1h1v-1h1v-1h1v-1h1v-1h1v-1h1v-1h1v-1h1v-1h1v-1h1v-1h1v-1h1v-1h1v-1h1v-1h1v-1h1v-1h1v-1h1v-1h1v-1h1v-1h1v-1h1v-1h1v-1h1v-1h1v-1h1v-1h1v-1h1v-1h1v-1h1v-1h1v-1h1v-1h1v-1h1v-1h1v-1h1v-1h1v-1h1v-1h1v-1h1v-1h1v-1h1v-1h1v-1h1v-1h1v-1h1v-1h1v-1h1v-1h1v-1h1v-1h1v-1h1v-1h1v-1h1v-1h1v-1h1v-1h1v-1h1v-1h1v-1h1v-1h1v-1h1v-1h1v-1h1v-1h1v-1h1v-1h1v-1h1v-1h1v-1h1v-1h1v-1h1v-1h1v-1h1v-1h1v-1h1v-1h1v-1h1v-1h1v-1h1v-1h1v-1h1v-1h1v-1h1v-1h1v-1h1v-1h1v-1h1v-1h1v-1h1v-1h1v-1h1v-1h1v-1h1v-1h1v-1h1v-1h1v-1h1v-1h1v-1h1v1h-1v1h-1v1h-1v1h-1v1h-1v1h-1v1h-1v1h-1v1h-1v1h-1v1h-1v1h-1v1h-1v1h-1v1h-1v1h-1v1h-1v1h-1v1h-1v1h-1v1h-1v1h-1v1h-1v1h-1v1h-1v1h-1v1h-1v1h-1v1h-1v1h-1v1h-1v1h-1v1h-1v1h-1v1h-1v1h-1v1h-1v1h-1v1h-1v1h-1v1h-1v1h-1v1h-1v1h-1v1h-1v1h-1v1h-1v1h-1v1h-1v1h-1v1h-1v1h-1v1h-1v1h-1v1h-1v1h-1v1h-1v1h-1v1h-1v1h-1v1h-1v1h-1v1h-1v1h-1v1h-1v1h-1v1h-1v1h-1v1h-1v1h-1v1h-1v1h-1v1h-1v1h-1v1h-1v1h-1v1h-1v1h-1v1h-1v1h-1v1h-1v1h-1v1h-1v1h-1v1h-1v1h-1v1h-1v1h-1v1h-1v1h-1v1h-1v1h-1v1h-1v1h-1v1h-1v1h-1v1h-1v1h-1v1h-1v1h-1v1h-1v1h-1v1h-1v1h-1v1h-1v1h-1v1h-1v1h-1v1h-1v1h-1v1h-1v1h-1v1h-1v1h-1v1h-1v1h-1v1h-1v1h-1v1h-1v1h-1v1h-1v1h-1v1h-1v1h-1v1h-1v1h-1v1h-1v1h-1v1h-1v1h-1v1h-1v1h-1v1h-1v1h-1v1h-1v1h-1v1h-1v1h-1zM652,316v-1h1v-1h1v-1h1v-1h1v-1h1v-1h1v-1h1v-1h1v-1h1v-1h1v-1h1v-1h1v-1h1v-1h1v-1h1v-1h1v-1h1v-1h1v-1h1v-1h1v-1h1v-1h1v-1h1v-1h1v-1h1v-1h1v-1h1v-1h1v-1h1v1h-1v1h-1v1h-1v1h-1v1h-1v1h-1v1h-1v1h-1v1h-1v1h-1v1h-1v1h-1v1h-1v1h-1v1h-1v1h-1v1h-1v1h-1v1h-1v1h-1v1h-1v1h-1v1h-1v1h-1v1h-1v1h-1v1h-1v1h-1v1h-1zM689,279v-1h1v-1h1v-1h1v-1h1v-1h1v-1h1v-1h1v-1h1v-1h1v-1h1v-1h1v-1h1v-1h1v-1h1v-1h1v-1h1v-1h1v-1h1v-1h1v-1h1v-1h1v-1h1v-1h1v-1h1v-1h1v-1h1v-1h1v-1h1v-1h1v1h-1v1h-1v1h-1v1h-1v1h-1v1h-1v1h-1v1h-1v1h-1v1h-1v1h-1v1h-1v1h-1v1h-1v1h-1v1h-1v1h-1v1h-1v1h-1v1h-1v1h-1v1h-1v1h-1v1h-1v1h-1v1h-1v1h-1v1h-1v1h-1zM466,522v-1h1v-1h1v-1h1v-1h1v-1h1v-1h1v-1h1v-1h1v-1h1v-1h1v-1h1v-1h1v-1h1v-1h1v-1h1v-1h1v-1h1v-1h1v-1h1v-1h1v-1h1v-1h1v-1h1v-1h1v-1h1v-1h1v-1h1v-1h1v-1h1v-1h1v-1h1v-1h1v-1h1v-1h1v-1h1v-1h1v-1h1v-1h1v-1h1v-1h1v-1h1v-1h1v-1h1v-1h1v-1h1v-1h1v-1h1v-1h1v-1h1v-1h1v-1h1v-1h1v-1h1v-1h1v-1h1v-1h1v-1h1v-1h1v-1h1v-1h1v-1h1v-1h1v-1h1v-1h1v-1h1v-1h1v-1h1v-1h1v-1h1v-1h1v-1h1v-1h1v-1h1v-1h1v-1h1v-1h1v-1h1v-1h1v-1h1v-1h1v-1h1v-1h1v-1h1v-1h1v-1h1v-1h1v-1h1v-1h1v-1h1v-1h1v-1h1v-1h1v-1h1v-1h1v-1h1v-1h1v-1h1v-1h1v-1h1v-1h1v-1h1v-1h1v-1h1v-1h1v-1h1v-1h1v-1h1v-1h1v-1h1v-1h1v-1h1v-1h1v-1h1v-1h1v-1h1v-1h1v-1h1v-1h1v-1h1v-1h1v-1h1v-1h1v-1h1v1h-1v1h-1v1h-1v1h-1v1h-1v1h-1v1h-1v1h-1v1h-1v1h-1v1h-1v1h-1v1h-1v1h-1v1h-1v1h-1v1h-1v1h-1v1h-1v1h-1v1h-1v1h-1v1h-1v1h-1v1h-1v1h-1v1h-1v1h-1v1h-1v1h-1v1h-1v1h-1v1h-1v1h-1v1h-1v1h-1v1h-1v1h-1v1h-1v1h-1v1h-1v1h-1v1h-1v1h-1v1h-1v1h-1v1h-1v1h-1v1h-1v1h-1v1h-1v1h-1v1h-1v1h-1v1h-1v1h-1v1h-1v1h-1v1h-1v1h-1v1h-1v1h-1v1h-1v1h-1v1h-1v1h-1v1h-1v1h-1v1h-1v1h-1v1h-1v1h-1v1h-1v1h-1v1h-1v1h-1v1h-1v1h-1v1h-1v1h-1v1h-1v1h-1v1h-1v1h-1v1h-1v1h-1v1h-1v1h-1v1h-1v1h-1v1h-1v1h-1v1h-1v1h-1v1h-1v1h-1v1h-1v1h-1v1h-1v1h-1v1h-1v1h-1v1h-1v1h-1v1h-1v1h-1v1h-1v1h-1v1h-1v1h-1v1h-1v1h-1v1h-1v1h-1v1h-1v1h-1v1h-1v1h-1v1h-1v1h-1v1h-1v1h-1v1h-1zM672,316v-1h1v-1h1v-1h1v-1h1v-1h1v-1h1v-1h1v-1h1v-1h1v-1h1v-1h1v-1h1v-1h1v-1h1v-1h1v-1h1v-1h1v-1h1v-1h1v-1h1v-1h1v-1h1v-1h1v-1h1v-1h1v-1h1v-1h1v-1h1v-1h1v-1h1v-1h1v-1h1v-1h1v-1h1v-1h1v-1h1v-1h1v-1h1v-1h1v-1h1v-1h1v-1h1v-1h1v-1h1v-1h1v-1h1v-1h1v-1h1v-1h1v-1h1v-1h1v-1h1v-1h1v-1h1v-1h1v-1h1v-1h1v-1h1v-1h1v-1h1v-1h1v-1h1v-1h1v-1h1v-1h1v-1h1v1h-1v1h-1v1h-1v1h-1v1h-1v1h-1v1h-1v1h-1v1h-1v1h-1v1h-1v1h-1v1h-1v1h-1v1h-1v1h-1v1h-1v1h-1v1h-1v1h-1v1h-1v1h-1v1h-1v1h-1v1h-1v1h-1v1h-1v1h-1v1h-1v1h-1v1h-1v1h-1v1h-1v1h-1v1h-1v1h-1v1h-1v1h-1v1h-1v1h-1v1h-1v1h-1v1h-1v1h-1v1h-1v1h-1v1h-1v1h-1v1h-1v1h-1v1h-1v1h-1v1h-1v1h-1v1h-1v1h-1v1h-1v1h-1v1h-1v1h-1v1h-1v1h-1v1h-1v1h-1v1h-1v1h-1zM485,522v-1h1v-1h1v-1h1v-1h1v-1h1v-1h1v-1h1v-1h1v-1h1v-1h1v-1h1v-1h1v-1h1v-1h1v-1h1v-1h1v-1h1v-1h1v-1h1v-1h1v-1h1v-1h1v-1h1v-1h1v-1h1v-1h1v-1h1v-1h1v-1h1v-1h1v-1h1v-1h1v-1h1v-1h1v-1h1v-1h1v-1h1v-1h1v-1h1v-1h1v-1h1v-1h1v-1h1v-1h1v-1h1v-1h1v-1h1v-1h1v-1h1v-1h1v-1h1v-1h1v-1h1v-1h1v-1h1v-1h1v-1h1v-1h1v-1h1v-1h1v-1h1v-1h1v-1h1v-1h1v-1h1v-1h1v-1h1v-1h1v-1h1v-1h1v-1h1v-1h1v-1h1v-1h1v-1h1v-1h1v-1h1v-1h1v-1h1v-1h1v-1h1v-1h1v-1h1v-1h1v-1h1v-1h1v-1h1v-1h1v-1h1v-1h1v-1h1v-1h1v-1h1v-1h1v-1h1v-1h1v-1h1v-1h1v-1h1v-1h1v-1h1v-1h1v-1h1v-1h1v1h-1v1h-1v1h-1v1h-1v1h-1v1h-1v1h-1v1h-1v1h-1v1h-1v1h-1v1h-1v1h-1v1h-1v1h-1v1h-1v1h-1v1h-1v1h-1v1h-1v1h-1v1h-1v1h-1v1h-1v1h-1v1h-1v1h-1v1h-1v1h-1v1h-1v1h-1v1h-1v1h-1v1h-1v1h-1v1h-1v1h-1v1h-1v1h-1v1h-1v1h-1v1h-1v1h-1v1h-1v1h-1v1h-1v1h-1v1h-1v1h-1v1h-1v1h-1v1h-1v1h-1v1h-1v1h-1v1h-1v1h-1v1h-1v1h-1v1h-1v1h-1v1h-1v1h-1v1h-1v1h-1v1h-1v1h-1v1h-1v1h-1v1h-1v1h-1v1h-1v1h-1v1h-1v1h-1v1h-1v1h-1v1h-1v1h-1v1h-1v1h-1v1h-1v1h-1v1h-1v1h-1v1h-1v1h-1v1h-1v1h-1v1h-1v1h-1v1h-1v1h-1v1h-1v1h-1v1h-1v1h-1v1h-1v1h-1v1h-1v1h-1v1h-1v1h-1v1h-1zM691,316v-1h1v-1h1v-1h1v-1h1v-1h1v-1h1v-1h1v-1h1v-1h1v-1h1v-1h1v-1h1v-1h1v-1h1v-1h1v-1h1v-1h1v-1h1v-1h1v-1h1v-1h1v-1h1v-1h1v-1h1v-1h1v-1h1v-1h1v-1h1v-1h1v-1h1v-1h1v-1h1v-1h1v-1h1v-1h1v-1h1v-1h1v-1h1v-1h1v-1h1v-1h1v-1h1v-1h1v-1h1v-1h1v-1h1v-1h1v-1h1v-1h1v-1h1v-1h1v-1h1v-1h1v-1h1v-1h1v-1h1v-1h1v-1h1v-1h1v-1h1v-1h1v-1h1v-1h1v-1h1v-1h1v-1h1v1h-1v1h-1v1h-1v1h-1v1h-1v1h-1v1h-1v1h-1v1h-1v1h-1v1h-1v1h-1v1h-1v1h-1v1h-1v1h-1v1h-1v1h-1v1h-1v1h-1v1h-1v1h-1v1h-1v1h-1v1h-1v1h-1v1h-1v1h-1v1h-1v1h-1v1h-1v1h-1v1h-1v1h-1v1h-1v1h-1v1h-1v1h-1v1h-1v1h-1v1h-1v1h-1v1h-1v1h-1v1h-1v1h-1v1h-1v1h-1v1h-1v1h-1v1h-1v1h-1v1h-1v1h-1v1h-1v1h-1v1h-1v1h-1v1h-1v1h-1v1h-1v1h-1v1h-1v1h-1v1h-1v1h-1zM505,522v-1h1v-1h1v-1h1v-1h1v-1h1v-1h1v-1h1v-1h1v-1h1v-1h1v-1h1v-1h1v-1h1v-1h1v-1h1v-1h1v-1h1v-1h1v-1h1v-1h1v-1h1v-1h1v-1h1v-1h1v-1h1v-1h1v-1h1v-1h1v-1h1v-1h1v-1h1v-1h1v-1h1v-1h1v-1h1v-1h1v-1h1v-1h1v-1h1v-1h1v-1h1v-1h1v-1h1v-1h1v-1h1v-1h1v-1h1v-1h1v-1h1v-1h1v-1h1v-1h1v-1h1v-1h1v-1h1v-1h1v-1h1v-1h1v-1h1v-1h1v-1h1v-1h1v-1h1v-1h1v-1h1v-1h1v-1h1v-1h1v-1h1v-1h1v-1h1v-1h1v-1h1v-1h1v-1h1v-1h1v-1h1v-1h1v-1h1v-1h1v-1h1v-1h1v-1h1v-1h1v1h-1v1h-1v1h-1v1h-1v1h-1v1h-1v1h-1v1h-1v1h-1v1h-1v1h-1v1h-1v1h-1v1h-1v1h-1v1h-1v1h-1v1h-1v1h-1v1h-1v1h-1v1h-1v1h-1v1h-1v1h-1v1h-1v1h-1v1h-1v1h-1v1h-1v1h-1v1h-1v1h-1v1h-1v1h-1v1h-1v1h-1v1h-1v1h-1v1h-1v1h-1v1h-1v1h-1v1h-1v1h-1v1h-1v1h-1v1h-1v1h-1v1h-1v1h-1v1h-1v1h-1v1h-1v1h-1v1h-1v1h-1v1h-1v1h-1v1h-1v1h-1v1h-1v1h-1v1h-1v1h-1v1h-1v1h-1v1h-1v1h-1v1h-1v1h-1v1h-1v1h-1v1h-1v1h-1v1h-1v1h-1v1h-1v1h-1v1h-1v1h-1v1h-1v1h-1v1h-1zM711,316v-1h1v-1h1v-1h1v-1h1v-1h1v-1h1v-1h1v-1h1v-1h1v-1h1v-1h1v-1h1v-1h1v-1h1v-1h1v-1h1v-1h1v-1h1v-1h1v-1h1v-1h1v-1h1v-1h1v-1h1v-1h1v-1h1v-1h1v-1h1v-1h1v-1h1v-1h1v-1h1v-1h1v-1h1v-1h1v-1h1v-1h1v-1h1v-1h1v-1h1v-1h1v-1h1v-1h1v-1h1v-1h1v-1h1v-1h1v-1h1v-1h1v-1h1v-1h1v-1h1v-1h1v-1h1v-1h1v-1h1v-1h1v-1h1v-1h1v1h-1v1h-1v1h-1v1h-1v1h-1v1h-1v1h-1v1h-1v1h-1v1h-1v1h-1v1h-1v1h-1v1h-1v1h-1v1h-1v1h-1v1h-1v1h-1v1h-1v1h-1v1h-1v1h-1v1h-1v1h-1v1h-1v1h-1v1h-1v1h-1v1h-1v1h-1v1h-1v1h-1v1h-1v1h-1v1h-1v1h-1v1h-1v1h-1v1h-1v1h-1v1h-1v1h-1v1h-1v1h-1v1h-1v1h-1v1h-1v1h-1v1h-1v1h-1v1h-1v1h-1v1h-1v1h-1v1h-1v1h-1v1h-1v1h-1zM524,522v-1h1v-1h1v-1h1v-1h1v-1h1v-1h1v-1h1v-1h1v-1h1v-1h1v-1h1v-1h1v-1h1v-1h1v-1h1v-1h1v-1h1v-1h1v-1h1v-1h1v-1h1v-1h1v-1h1v-1h1v-1h1v-1h1v-1h1v-1h1v-1h1v-1h1v-1h1v-1h1v-1h1v-1h1v-1h1v-1h1v-1h1v-1h1v-1h1v-1h1v-1h1v-1h1v-1h1v-1h1v-1h1v-1h1v-1h1v-1h1v-1h1v-1h1v-1h1v-1h1v-1h1v-1h1v-1h1v-1h1v-1h1v-1h1v-1h1v-1h1v-1h1v-1h1v-1h1v-1h1v-1h1v1h-1v1h-1v1h-1v1h-1v1h-1v1h-1v1h-1v1h-1v1h-1v1h-1v1h-1v1h-1v1h-1v1h-1v1h-1v1h-1v1h-1v1h-1v1h-1v1h-1v1h-1v1h-1v1h-1v1h-1v1h-1v1h-1v1h-1v1h-1v1h-1v1h-1v1h-1v1h-1v1h-1v1h-1v1h-1v1h-1v1h-1v1h-1v1h-1v1h-1v1h-1v1h-1v1h-1v1h-1v1h-1v1h-1v1h-1v1h-1v1h-1v1h-1v1h-1v1h-1v1h-1v1h-1v1h-1v1h-1v1h-1v1h-1v1h-1v1h-1v1h-1v1h-1v1h-1v1h-1v1h-1zM730,316v-1h1v-1h1v-1h1v-1h1v-1h1v-1h1v-1h1v-1h1v-1h1v-1h1v-1h1v-1h1v-1h1v-1h1v-1h1v-1h1v-1h1v-1h1v-1h1v-1h1v-1h1v-1h1v-1h1v-1h1v-1h1v-1h1v-1h1v-1h1v-1h1v-1h1v-1h1v-1h1v-1h1v-1h1v-1h1v-1h1v-1h1v-1h1v-1h1v-1h1v1h-1v1h-1v1h-1v1h-1v1h-1v1h-1v1h-1v1h-1v1h-1v1h-1v1h-1v1h-1v1h-1v1h-1v1h-1v1h-1v1h-1v1h-1v1h-1v1h-1v1h-1v1h-1v1h-1v1h-1v1h-1v1h-1v1h-1v1h-1v1h-1v1h-1v1h-1v1h-1v1h-1v1h-1v1h-1v1h-1v1h-1v1h-1v1h-1v1h-1zM543,522v-1h1v-1h1v-1h1v-1h1v-1h1v-1h1v-1h1v-1h1v-1h1v-1h1v-1h1v-1h1v-1h1v-1h1v-1h1v-1h1v-1h1v-1h1v-1h1v-1h1v-1h1v-1h1v-1h1v-1h1v-1h1v-1h1v-1h1v-1h1v-1h1v-1h1v-1h1v-1h1v-1h1v-1h1v-1h1v-1h1v-1h1v-1h1v-1h1v-1h1v-1h1v-1h1v-1h1v-1h1v-1h1v-1h1v1h-1v1h-1v1h-1v1h-1v1h-1v1h-1v1h-1v1h-1v1h-1v1h-1v1h-1v1h-1v1h-1v1h-1v1h-1v1h-1v1h-1v1h-1v1h-1v1h-1v1h-1v1h-1v1h-1v1h-1v1h-1v1h-1v1h-1v1h-1v1h-1v1h-1v1h-1v1h-1v1h-1v1h-1v1h-1v1h-1v1h-1v1h-1v1h-1v1h-1v1h-1v1h-1v1h-1v1h-1v1h-1v1h-1zM749,316v-1h1v-1h1v-1h1v-1h1v-1h1v-1h1v-1h1v-1h1v-1h1v-1h1v-1h1v-1h1v-1h1v-1h1v-1h1v-1h1v-1h1v-1h1v-1h1v-1h1v-1h1v1h-1v1h-1v1h-1v1h-1v1h-1v1h-1v1h-1v1h-1v1h-1v1h-1v1h-1v1h-1v1h-1v1h-1v1h-1v1h-1v1h-1v1h-1v1h-1v1h-1v1h-1zM563,522v-1h1v-1h1v-1h1v-1h1v-1h1v-1h1v-1h1v-1h1v-1h1v-1h1v-1h1v-1h1v-1h1v-1h1v-1h1v-1h1v-1h1v-1h1v-1h1v-1h1v-1h1v-1h1v-1h1v-1h1v-1h1v-1h1v1h-1v1h-1v1h-1v1h-1v1h-1v1h-1v1h-1v1h-1v1h-1v1h-1v1h-1v1h-1v1h-1v1h-1v1h-1v1h-1v1h-1v1h-1v1h-1v1h-1v1h-1v1h-1v1h-1v1h-1v1h-1v1h-1zM769,316v-1h1v1h-1zM582,522v-1h1v-1h1v-1h1v-1h1v-1h1v-1h1v-1h1v1h-1v1h-1v1h-1v1h-1v1h-1v1h-1v1h-1z"/></defs>
<g clip-path="url(#cL)"><use href="#hp" x="1" fill="#d4d4d4"/><use href="#hp" x="-1" fill="#d4d4d4"/></g>
<g clip-path="url(#cR)"><use href="#hp" x="1" fill="#d4d4d4"/><use href="#hp" x="-1" fill="#d4d4d4"/></g>
<use href="#hp" fill="#161616"/>
<path d="M176.7,70.7L174.2,72.6L177.2,74.9M469.4,98.1L467.8,100.7L471.3,100.6M465.6,102.3l0.3,-3.2M504.5,25.4L501.1,26.8L503.8,29.3M195.8,113.4L193.2,115.5L196.6,116.7M191.7,117.4l-0.1,-3.7M491.1,42.2L494.0,40.4L490.9,38.5M495.7,42.0l0.4,-3.1M151.0,311.0L147.2,312.8L150.0,315.6M145.9,314.6l-0.2,-3.6M73.3,115.1L76.8,115.2L74.9,112.1M79.2,117.3l-0.5,-4.2M194.5,393.6L191.7,395.1L195.1,396.9M101.1,133.2L103.4,130.3L99.3,129.4M105.3,132.1l-0.2,-3.8M210.2,179.1L208.6,181.7L211.8,181.6M206.9,183.5l0.5,-3.5M316.7,73.7L319.6,71.6L317.1,69.8M321.3,73.9l0.0,-4.5M171.8,68.1L168.2,69.7L170.9,72.2M112.8,428.3L114.8,424.9L111.6,423.8M116.8,426.5l-0.4,-3.1M188.2,106.8L190.2,104.3L186.3,103.5M192.6,106.4l-0.5,-4.3M128.6,231.4L125.6,233.9L128.3,236.2M124.1,235.9l0.2,-3.9M189.9,433.2L187.1,434.8L189.9,436.4M185.5,437.0l-0.5,-4.3M414.1,40.0L412.6,43.6L416.2,44.0M103.2,349.8L101.4,353.3L104.5,353.5M99.7,355.5l0.7,-4.4M485.4,72.9L481.7,74.9L485.0,76.6M479.9,77.1l0.1,-4.4M120.0,114.5L117.7,117.0L121.0,118.7M115.8,118.6l-0.3,-3.1M73.8,73.5L77.5,73.1L76.0,69.4M78.9,74.7l-0.1,-3.2M457.4,29.1L454.5,31.3L457.4,33.5M452.5,33.5l0.1,-4.4M486.1,118.1L484.0,120.4L486.8,121.9M482.2,122.0l0.3,-3.1M338.6,69.2L342.8,69.2L341.1,66.1M426.9,80.1L429.1,77.3L425.7,76.6M430.2,79.1l0.2,-3.5M208.1,231.8L204.6,233.8L207.4,235.4M202.4,235.4l0.2,-3.1M262.4,148.4L259.8,150.1L263.3,152.3M257.7,152.2l0.6,-4.2M436.8,35.4L441.0,35.6L439.1,32.6M146.2,84.6L143.2,85.9L145.7,88.4M351.6,124.3L348.8,125.2L351.6,127.5M136.6,199.5L135.1,202.9L139.1,203.3M122.7,105.4L119.8,107.2L122.4,108.9M118.6,108.8l-0.3,-3.1M141.5,74.5L140.1,78.1L143.4,78.6M138.6,79.8l0.0,-3.4M142.0,431.6L143.9,429.2L139.9,428.4M124.2,84.8L121.2,86.7L123.9,88.5M119.3,88.2l0.2,-3.0M162.7,111.4L164.4,108.7L160.6,107.4M166.6,110.6l-0.4,-3.9M152.2,281.5L154.4,278.3L150.5,277.3M155.7,280.2l-0.0,-3.8M362.7,105.0L359.4,107.4L362.2,109.4M357.4,108.9l0.5,-3.0M274.4,114.3L278.3,113.8L276.9,110.5M279.7,115.8l0.6,-3.9M384.8,115.8L381.1,117.2L383.6,119.3M379.5,119.0l-0.4,-3.7M325.7,95.5L329.0,93.5L326.1,91.8M330.6,95.0l0.5,-3.0M143.0,301.9L146.7,301.8L144.9,298.7M456.2,93.8L459.7,93.9L457.6,90.5M149.0,96.6L146.6,98.6L150.3,99.8M141.2,166.8L143.2,164.4L139.8,163.7M205.6,76.4L209.4,76.2L207.8,73.1M180.1,145.5L178.0,149.0L181.8,148.9M175.8,150.7l0.2,-3.4M310.1,163.3L307.2,164.9L309.2,167.2M305.1,166.9l0.5,-3.9M171.6,342.6L170.1,346.3L173.8,346.8M332.6,134.8L334.9,132.1L331.5,131.6M336.7,134.2l-0.7,-4.1M140.6,297.3L142.3,294.7L138.7,293.7M143.8,296.6l-0.4,-3.7M176.7,342.5L178.7,340.1L175.4,339.6M179.9,341.8l0.3,-3.3M216.5,238.9L219.4,236.8L216.4,234.6M220.9,238.8l-0.0,-4.0M208.2,288.3L204.7,290.3L206.7,292.5M203.7,292.3l-0.6,-4.0M407.2,106.7L403.9,108.6L406.3,111.3M140.5,356.6L142.7,353.9L138.6,353.1M144.5,356.0l0.0,-4.3M132.7,113.9L129.6,114.9L132.8,117.4M122.7,192.8L126.1,192.9L124.3,189.9M128.2,194.5l-0.3,-3.3M117.3,430.6L114.8,432.7L118.5,434.1M113.3,435.0l0.0,-4.4M108.3,102.5L105.8,104.5L108.5,106.7M104.2,106.7l0.6,-4.4M212.2,398.6L209.1,401.2L211.7,403.4M108.2,415.8L104.9,417.8L108.4,419.9M400.3,140.4L397.1,142.0L400.2,143.7M196.3,397.4L194.5,400.7L198.0,400.7M193.1,402.5l-0.4,-3.7M40.2,93.8L43.1,92.0L39.6,89.8M44.4,94.1l-0.3,-4.1M477.9,135.5L475.0,137.1L478.2,138.7M202.0,116.6L205.6,116.7L204.1,114.1M207.9,118.4l-0.2,-3.4M83.9,110.3L87.8,110.1L86.4,107.4M113.8,335.3L110.9,337.3L113.8,339.5M109.2,339.1l0.5,-3.6M113.2,191.4L116.4,191.4L114.6,188.4M461.2,107.6L458.5,109.6L461.2,111.6M456.9,111.3l0.3,-3.4M235.4,86.2L232.1,88.0L234.4,90.5M230.5,90.2l-0.0,-4.5M131.1,360.1L127.9,361.8L131.4,363.7M74.0,87.0L71.7,89.7L75.3,91.6M240.3,118.8L237.0,120.6L240.3,122.4M123.0,166.1L121.0,168.4L124.4,170.4M119.2,170.5l-0.5,-4.2M220.3,167.8L216.9,169.8L220.1,171.6M212.9,246.2L210.0,248.2L212.7,250.1M232.9,73.0L229.5,75.1L232.5,77.1M228.2,76.7l-0.1,-3.0M200.8,227.0L197.8,228.1L200.2,230.1M196.4,230.2l-0.4,-4.1M417.9,136.6L415.2,138.9L417.5,140.9M427.7,74.1L425.1,76.8L428.0,78.2M177.5,176.3L174.4,177.7L176.7,180.1M172.8,179.5l-0.0,-3.6M197.8,357.6L195.0,359.1L198.7,361.0M193.2,361.1l0.6,-4.0M458.9,130.6L455.7,132.9L458.4,134.8M134.8,148.6L138.4,148.7L136.3,145.2M113.6,123.6L116.4,121.9L113.4,120.0M118.1,123.6l0.2,-3.4M198.1,357.6L200.8,354.6L196.7,354.0M202.6,356.5l-0.2,-3.8M462.3,114.0L460.9,117.1L464.4,117.5M459.3,118.7l0.2,-3.2M55.9,105.6L52.8,107.5L55.7,109.2M124.8,130.6L123.0,134.2L126.2,134.5M128.6,291.6L125.9,293.5L128.8,295.5M124.0,295.3l0.3,-3.6M429.5,73.5L427.1,76.0L429.8,77.4M425.6,78.0l0.3,-4.0M108.3,74.6L105.0,76.3L108.7,78.2M81.3,96.9L83.3,94.0L79.7,93.0M145.9,288.0L143.0,289.5L145.5,292.1M141.4,291.6l-0.0,-4.2M147.7,286.3L144.9,288.6L148.0,289.6M115.8,73.8L113.6,76.3L116.5,77.9M168.8,97.7L166.2,99.5L168.7,101.2M392.0,96.6L393.6,93.9L389.8,92.6M68.8,94.2L65.7,96.8L68.7,99.2M64.5,98.8l-0.2,-4.1M253.6,62.4L251.0,64.6L254.1,65.8M159.4,332.0L156.1,334.2L159.0,336.0M123.3,384.4L120.5,385.4L123.0,387.5M118.2,387.6l0.8,-4.4M262.7,157.6L259.8,159.0L262.6,161.8M485.6,105.8L482.1,108.1L485.1,110.1M480.5,109.8l0.5,-3.5M167.3,192.4L163.9,194.5L166.6,196.3M162.4,196.4l-0.3,-3.8M182.7,150.3L186.6,149.9L185.3,147.0M188.3,152.0l-0.1,-4.2M459.0,109.1L455.4,110.9L458.0,113.7M453.7,113.1l-0.3,-4.4M317.2,156.9L314.1,159.6L318.0,161.1M312.5,161.6l0.4,-4.0M90.6,70.3L87.6,71.5L90.4,74.1M86.3,73.2l0.1,-3.3M245.9,65.9L244.1,68.7L248.1,68.5M307.3,105.0L304.5,106.8L307.6,108.9M303.3,108.6l-0.4,-3.6M138.9,189.1L137.3,192.5L141.3,192.8M134.9,194.3l0.6,-3.4M67.5,114.6L65.3,116.8L68.7,118.3M63.6,118.8l-0.0,-4.1M488.7,95.0L486.9,98.7L490.8,98.9M141.4,172.3L138.5,174.2L141.7,176.3M136.8,175.9l0.3,-3.4M277.5,99.7L276.1,102.6L280.2,102.8M112.0,286.7L108.8,288.7L112.2,290.8M155.4,247.5L159.5,247.4L157.9,244.4M161.0,249.1l0.1,-3.4M376.9,128.6L373.6,129.9L376.4,132.4M372.1,132.1l0.5,-4.3M161.4,177.6L163.9,175.6L160.7,173.2M165.5,177.1l0.5,-3.0M80.9,111.0L83.5,109.0L80.7,106.9M163.6,221.6L160.8,223.7L164.1,226.1M158.9,225.4l0.3,-3.4M219.4,430.4L221.8,428.7L218.8,426.5M223.6,430.9l0.3,-4.4M560.1,402.7L564.1,402.5L562.7,399.6M628.3,299.1L624.8,301.0L628.1,302.9M623.9,303.3l-0.7,-4.4M457.0,252.7L453.4,254.6L456.7,256.3M451.5,256.3l-0.1,-3.5M470.5,311.9L467.6,313.9L470.3,315.9M465.7,316.2l-0.5,-4.5M483.9,326.8L480.5,329.0L483.4,330.8M478.0,331.1l0.7,-4.2M474.7,494.4L473.0,497.6L476.3,497.8M471.0,499.4l0.2,-3.5M744.2,285.2L740.7,287.0L743.6,288.6M467.7,446.2L465.9,449.2L469.1,449.1M464.6,451.4l-0.5,-4.4M509.8,487.2L508.5,490.7L512.1,491.4M507.2,492.4l0.1,-3.2M425.0,305.2L422.2,307.2L425.1,309.2M465.1,290.0L462.9,292.3L466.3,294.0M542.7,380.0L540.0,381.5L543.7,383.5M538.4,383.5l0.3,-4.0M507.6,296.4L504.5,298.1L507.8,300.0M627.6,268.4L625.5,270.6L628.6,272.2M623.9,272.2l0.2,-3.1M425.8,290.3L428.9,288.1L425.9,285.9M430.0,289.6l0.5,-3.0M752.4,256.2L755.7,256.3L754.1,253.6M535.6,260.1L532.4,262.6L535.1,264.7M540.6,407.2L537.8,408.7L540.7,410.3M546.6,340.3L550.6,340.1L549.2,337.4M671.8,258.4L675.9,258.6L674.3,255.9M579.5,492.0L576.9,493.9L579.4,495.8M574.7,495.9l0.1,-4.0M646.6,301.8L644.3,304.4L647.5,306.2M642.8,306.0l0.0,-3.2M501.7,294.5L498.2,296.4L500.5,299.0M496.6,298.4l-0.3,-4.0M517.3,473.5L514.6,475.5L517.3,477.5M512.8,477.4l-0.2,-3.8M549.4,301.0L546.4,302.1L548.7,304.0M654.4,302.3L651.3,304.6L654.2,306.8M650.2,306.3l-0.3,-3.3M457.3,478.4L454.1,480.9L457.7,482.2M532.6,407.0L535.8,404.9L533.0,403.2M478.0,493.2L474.4,494.8L476.8,497.2M523.1,275.6L525.1,273.0L521.1,272.1M526.5,275.1l0.1,-4.3M557.2,405.2L559.3,402.2L555.4,401.1M539.8,477.9L537.4,480.0L540.8,481.3M499.9,383.5L496.8,385.6L499.3,387.3M494.5,387.5l0.1,-3.8M576.2,441.4L578.6,438.1L574.8,437.2M580.2,439.8l0.0,-3.4M518.7,495.3L521.8,495.1L520.3,491.9M410.9,291.5L407.7,292.7L410.5,295.2M406.1,294.8l0.5,-4.1M470.2,390.9L468.5,394.5L472.2,394.8M466.8,396.6l-0.1,-4.3M479.6,307.2L476.3,309.2L479.7,311.2M474.1,310.9l0.2,-3.5M743.6,308.1L740.7,309.7L744.1,311.6M493.4,273.4L491.7,276.8L494.9,277.1M526.6,476.2L528.5,473.4L524.5,472.3M530.6,475.5l0.0,-4.2M578.3,299.4L575.0,302.0L578.2,304.5M573.9,303.5l-0.5,-3.1M564.3,458.3L567.8,458.1L566.3,455.2M569.0,460.1l0.6,-3.9M466.8,363.0L469.5,361.3L466.8,359.5M471.4,362.8l-0.4,-3.0M543.5,415.3L546.2,413.3L542.9,410.8M548.3,415.4l-0.5,-4.1M543.5,496.3L546.6,493.9L543.8,491.8M661.5,269.6L665.6,269.7L663.4,266.1M667.6,271.2l0.2,-3.1M479.0,358.5L475.4,360.8L478.6,362.8M473.8,362.8l-0.7,-4.1M546.8,261.4L545.0,264.2L548.4,264.1M543.4,266.1l0.1,-3.8M542.2,503.1L539.4,505.3L542.3,507.6M537.6,507.2l0.3,-3.7M540.3,335.7L543.9,335.3L542.5,332.3M545.5,337.0l0.6,-3.4M488.1,259.2L486.3,262.1L489.8,262.0M484.4,264.2l0.3,-4.1M696.6,309.6L693.7,311.2L696.1,314.0M573.2,514.6L570.1,516.2L572.9,517.7M579.9,336.2L583.1,334.3L579.8,332.3M584.9,335.9l0.3,-3.3M486.2,506.7L484.2,508.9L486.9,510.4M482.8,510.8l-0.2,-3.6M418.9,277.2L421.5,274.0L418.0,273.3M529.7,340.4L527.2,342.3L529.7,344.3M525.4,344.3l-0.4,-3.9M477.5,363.7L474.3,365.7L477.9,367.9M473.0,367.6l-0.3,-3.8M535.8,274.9L532.9,276.8L536.0,278.9M514.3,496.2L510.7,497.8L513.2,500.1M722.6,311.6L725.3,309.9L722.0,307.8M555.1,470.6L558.7,468.5L555.4,466.6M560.6,470.1l-0.4,-3.1M544.2,290.6L540.8,292.5L544.3,294.5M539.3,294.0l-0.0,-3.0M694.2,270.2L696.2,267.9L692.4,267.3M698.4,269.5l-0.1,-3.1M473.7,458.4L477.1,458.3L475.1,454.6M479.0,460.2l-0.0,-3.7M553.5,287.1L552.1,290.2L555.6,290.6M465.2,348.3L468.5,348.1L467.1,345.1M470.1,349.7l-0.3,-3.2M507.8,399.9L511.3,399.3L510.0,396.1M473.8,290.3L475.9,287.0L472.2,285.8M488.6,362.0L486.9,364.9L490.2,364.9M497.9,393.8L494.3,395.6L497.9,397.5M492.2,397.2l0.3,-3.1M659.4,276.8L663.3,276.9L661.4,273.8M664.8,278.4l0.3,-3.0M463.1,435.7L466.8,435.7L465.0,432.6M514.5,333.0L511.2,334.9L513.2,337.2M510.0,336.5l-0.2,-3.2M557.8,485.0L561.5,485.0L559.7,481.9M698.1,304.9L694.4,306.6L697.2,309.4M604.2,271.0L602.9,274.1L607.0,274.6M601.0,276.1l0.2,-4.1M708.0,273.7L704.7,275.6L707.5,277.1M703.3,277.1l0.0,-3.1M661.9,275.6L658.6,277.8L661.4,279.6M656.3,279.9l0.6,-4.4" stroke="#222" stroke-width="1" fill="none"/>
<path d="M325,155h1v1h-1zM398,98h1v1h-1zM223,249h1v1h-1zM189,223h1v1h-1zM449,157h1v2h-1zM408,151h1v1h-1zM211,250h1v1h-1zM99,298h1v2h-1zM293,119h1v1h-1zM223,146h1v1h-1zM222,312h1v2h-1zM342,74h1v1h-1zM442,102h1v1h-1zM248,127h2v1h-2zM474,167h1v1h-1zM158,251h1v2h-1zM469,29h1v1h-1zM206,143h2v1h-2zM317,145h2v2h-2zM247,79h1v1h-1zM489,78h1v2h-1zM205,352h1v1h-1zM426,152h2v1h-2zM166,194h1v2h-1zM206,171h1v2h-1zM143,192h2v1h-2zM156,68h2v1h-2zM149,380h2v2h-2zM112,336h1v1h-1zM245,97h1v1h-1zM398,108h2v1h-2zM106,90h1v1h-1zM193,254h1v1h-1zM135,411h1v1h-1zM152,273h1v1h-1zM114,389h2v2h-2zM305,100h1v2h-1zM103,379h1v1h-1zM508,103h1v1h-1zM483,32h2v1h-2zM431,26h2v2h-2zM39,69h1v1h-1zM351,137h2v2h-2zM391,52h1v1h-1zM253,80h1v1h-1zM412,75h1v1h-1zM457,67h1v1h-1zM499,148h1v2h-1zM178,329h1v2h-1zM289,69h1v1h-1zM221,114h1v1h-1zM298,136h1v1h-1zM257,146h1v1h-1zM430,58h1v1h-1zM228,121h1v1h-1zM460,31h1v1h-1zM502,13h2v1h-2zM155,164h1v2h-1zM121,257h1v1h-1zM273,107h1v1h-1zM393,83h1v1h-1zM304,95h1v2h-1zM271,159h1v2h-1zM394,64h1v1h-1zM105,371h1v1h-1zM388,33h1v2h-1zM415,65h1v1h-1zM124,86h1v1h-1zM362,92h1v2h-1zM262,129h1v1h-1zM215,66h2v1h-2zM443,71h2v2h-2zM386,78h1v2h-1zM498,29h1v1h-1zM212,375h1v1h-1zM136,191h1v1h-1zM66,88h1v2h-1zM112,300h1v1h-1zM222,180h1v1h-1zM455,21h2v1h-2zM463,43h2v1h-2zM301,126h1v1h-1zM112,318h1v1h-1zM167,112h1v1h-1zM188,385h1v1h-1zM154,440h1v1h-1zM398,76h1v1h-1zM206,199h1v1h-1zM346,68h1v1h-1zM470,62h1v1h-1zM217,248h1v2h-1zM211,442h1v2h-1zM437,129h2v1h-2zM202,205h1v1h-1zM374,135h1v2h-1zM202,138h2v1h-2zM200,108h1v1h-1zM133,149h1v1h-1zM24,119h1v1h-1zM191,267h1v2h-1zM199,182h2v1h-2zM420,81h1v1h-1zM106,86h2v1h-2zM218,352h1v1h-1zM26,83h2v1h-2zM269,69h1v2h-1zM313,70h2v1h-2zM84,111h1v1h-1zM43,90h2v2h-2zM21,103h1v1h-1zM169,401h1v1h-1zM221,117h1v1h-1zM133,177h2v1h-2zM219,181h1v1h-1zM409,113h1v1h-1zM191,88h1v2h-1zM187,113h1v2h-1zM154,110h1v1h-1zM344,156h1v1h-1zM147,373h1v2h-1zM132,168h1v2h-1zM200,427h1v1h-1zM125,205h1v1h-1zM214,230h1v1h-1zM395,18h2v1h-2zM167,177h1v1h-1zM400,108h1v1h-1zM108,322h1v1h-1zM211,162h1v1h-1zM481,83h1v1h-1zM461,17h1v1h-1zM465,49h1v1h-1zM147,274h1v1h-1zM214,273h1v1h-1zM391,74h1v1h-1zM294,106h1v1h-1zM171,347h1v1h-1zM221,333h2v1h-2zM476,62h1v1h-1zM292,83h1v1h-1zM284,116h1v1h-1zM112,142h1v2h-1zM347,110h1v1h-1zM480,160h1v1h-1zM455,68h2v1h-2zM96,299h2v2h-2zM115,309h1v1h-1zM460,139h1v1h-1zM174,212h1v1h-1zM387,43h1v1h-1zM229,89h2v1h-2zM137,114h1v1h-1zM167,277h1v1h-1zM336,162h1v1h-1zM431,117h1v1h-1zM120,192h1v1h-1zM83,106h1v2h-1zM252,102h1v1h-1zM458,33h1v1h-1zM464,78h1v1h-1zM186,92h1v1h-1zM178,295h2v2h-2zM336,137h1v1h-1zM436,104h1v1h-1zM192,111h1v2h-1zM142,106h1v1h-1zM122,374h1v1h-1zM277,116h1v1h-1zM289,105h2v1h-2zM108,215h1v1h-1zM199,278h1v1h-1zM376,162h1v1h-1zM17,118h1v1h-1zM190,221h2v1h-2zM414,55h1v1h-1zM189,311h1v2h-1zM104,250h1v2h-1zM393,124h1v1h-1zM126,427h2v1h-2zM324,99h1v2h-1zM178,212h1v1h-1zM34,70h1v1h-1zM508,163h2v1h-2zM509,21h2v1h-2zM193,130h1v1h-1zM353,139h1v1h-1zM187,248h1v1h-1zM173,440h1v1h-1zM114,397h1v2h-1zM163,80h1v1h-1zM163,141h2v1h-2zM48,89h1v1h-1zM164,161h1v1h-1zM99,401h2v1h-2zM459,130h2v1h-2zM110,328h1v1h-1zM450,156h1v1h-1zM106,242h1v1h-1zM474,99h1v1h-1zM352,154h1v2h-1zM410,44h2v1h-2zM449,17h1v1h-1zM374,151h1v1h-1zM90,69h1v1h-1zM313,151h2v1h-2zM149,117h2v2h-2zM501,72h1v2h-1zM391,45h1v1h-1zM114,348h1v1h-1zM187,318h1v2h-1zM118,407h1v2h-1zM118,353h1v1h-1zM349,160h1v2h-1zM217,410h1v1h-1zM138,121h1v1h-1zM127,95h1v1h-1zM120,256h1v2h-1zM145,336h1v1h-1zM448,116h1v2h-1zM380,26h1v1h-1zM229,67h1v1h-1zM415,73h1v1h-1zM468,72h1v1h-1zM210,153h1v1h-1zM112,282h1v1h-1zM459,34h1v1h-1zM124,243h2v1h-2zM491,40h1v1h-1zM378,126h1v1h-1zM216,251h1v1h-1zM476,118h2v2h-2zM247,156h2v2h-2zM129,283h1v1h-1zM351,147h2v1h-2zM143,376h1v2h-1zM194,96h1v1h-1zM131,82h1v1h-1zM73,73h1v2h-1zM392,72h1v1h-1zM413,117h2v1h-2zM307,141h2v1h-2zM471,118h1v2h-1zM442,94h1v1h-1zM195,319h1v2h-1zM227,273h1v1h-1zM131,379h1v1h-1zM113,384h1v2h-1zM202,237h1v1h-1zM211,65h1v1h-1zM397,58h1v1h-1zM120,206h1v1h-1zM507,127h1v1h-1zM168,118h1v2h-1zM441,119h1v1h-1zM199,210h1v1h-1zM195,358h1v2h-1zM295,148h1v1h-1zM410,134h1v2h-1zM215,326h1v1h-1zM444,37h2v2h-2zM102,411h2v1h-2zM350,135h1v1h-1zM342,119h1v2h-1zM430,135h1v1h-1zM167,119h2v1h-2zM333,104h2v1h-2zM111,71h1v2h-1zM178,182h1v1h-1zM275,134h1v1h-1zM477,47h1v1h-1zM125,412h1v1h-1zM496,157h1v1h-1zM237,115h1v1h-1zM68,77h1v2h-1zM431,39h1v1h-1zM97,420h1v1h-1zM252,71h1v1h-1zM452,57h1v1h-1zM246,78h2v1h-2zM265,167h1v1h-1zM214,95h1v1h-1zM117,333h1v1h-1zM88,122h1v2h-1zM209,234h1v1h-1zM129,268h2v1h-2zM423,38h1v1h-1zM56,113h2v1h-2zM82,93h1v1h-1zM446,28h1v2h-1zM186,77h1v2h-1zM161,428h2v1h-2zM436,111h2v2h-2zM457,28h1v1h-1zM430,155h2v2h-2zM221,272h1v1h-1zM180,100h1v2h-1zM147,314h1v2h-1zM104,125h1v1h-1zM171,391h2v1h-2zM439,51h1v2h-1zM269,151h1v1h-1zM193,297h1v1h-1zM194,435h1v1h-1zM458,69h2v1h-2zM326,112h2v1h-2zM222,436h1v2h-1zM192,403h1v1h-1zM459,94h1v1h-1zM166,235h1v1h-1zM401,164h1v1h-1zM110,147h1v2h-1zM66,120h1v1h-1zM205,429h1v1h-1zM114,405h1v2h-1zM169,73h2v2h-2zM208,321h1v1h-1zM438,59h1v1h-1zM295,161h1v1h-1zM450,48h2v2h-2zM477,79h1v1h-1zM183,178h1v1h-1zM219,414h1v1h-1zM118,306h1v1h-1zM214,258h1v1h-1zM148,99h1v1h-1zM192,313h1v1h-1zM432,149h1v2h-1zM327,67h1v1h-1zM254,135h1v1h-1zM277,107h2v1h-2zM153,434h2v1h-2zM123,82h2v1h-2zM125,387h1v1h-1zM493,151h1v1h-1zM107,277h1v2h-1zM399,94h1v1h-1zM327,122h1v1h-1zM295,145h1v1h-1zM399,157h1v1h-1zM423,62h1v1h-1zM266,98h1v1h-1zM375,77h1v1h-1zM499,44h1v1h-1zM115,113h1v2h-1zM453,49h1v1h-1zM443,80h1v2h-1zM131,440h1v1h-1zM208,352h1v1h-1zM133,405h1v1h-1zM122,301h2v2h-2zM143,73h1v2h-1zM391,51h1v1h-1zM320,148h2v2h-2zM412,40h1v1h-1zM292,97h1v2h-1zM116,317h1v2h-1zM131,393h1v1h-1zM196,139h1v1h-1zM179,90h1v1h-1zM396,100h1v2h-1zM299,99h1v1h-1zM365,117h1v1h-1zM93,77h1v1h-1zM149,116h1v1h-1zM131,156h1v1h-1zM169,281h1v1h-1zM496,45h1v1h-1zM155,404h1v1h-1zM319,79h1v2h-1zM136,119h1v1h-1zM358,98h1v1h-1zM360,139h1v1h-1zM462,118h1v2h-1zM361,82h1v2h-1zM183,372h1v2h-1zM427,105h1v1h-1zM348,128h1v1h-1zM168,121h1v1h-1zM40,117h1v1h-1zM480,162h2v1h-2zM138,167h2v1h-2zM479,19h1v1h-1zM132,398h1v1h-1zM431,109h1v2h-1zM252,82h1v2h-1zM123,333h2v2h-2zM274,111h1v1h-1zM144,412h1v1h-1zM171,96h1v1h-1zM253,85h1v1h-1zM206,396h1v1h-1zM441,167h1v1h-1zM437,131h1v1h-1zM164,144h1v1h-1zM213,304h1v1h-1zM487,108h1v1h-1zM323,101h1v1h-1zM167,351h1v1h-1zM27,84h1v1h-1zM131,374h1v1h-1zM142,253h1v2h-1zM86,66h2v1h-2zM40,109h1v1h-1zM216,396h1v1h-1zM491,124h1v1h-1zM157,133h1v1h-1zM70,113h2v1h-2zM102,310h1v1h-1zM218,426h1v1h-1zM353,99h1v1h-1zM234,155h1v2h-1zM128,195h1v2h-1zM212,65h1v1h-1zM380,164h1v1h-1zM75,104h1v1h-1zM239,152h2v1h-2zM184,339h1v1h-1zM327,134h2v1h-2zM496,92h1v1h-1zM396,26h1v2h-1zM375,126h1v1h-1zM431,44h1v1h-1zM98,83h1v1h-1zM56,93h1v1h-1zM158,334h1v1h-1zM143,354h1v1h-1zM263,68h2v1h-2zM223,136h1v1h-1zM479,101h1v1h-1zM273,152h1v1h-1zM268,99h1v1h-1zM463,96h1v1h-1zM243,155h1v2h-1zM170,323h1v1h-1zM269,72h1v2h-1zM250,142h1v1h-1zM397,44h1v1h-1zM467,63h1v1h-1zM494,28h1v1h-1zM132,176h1v1h-1zM193,398h1v1h-1zM205,105h1v1h-1zM113,352h1v2h-1zM181,115h1v2h-1zM169,327h1v1h-1zM184,352h1v1h-1zM175,379h1v1h-1zM163,277h1v2h-1zM97,72h1v1h-1zM264,149h1v1h-1zM184,377h1v1h-1zM464,17h1v1h-1zM332,143h1v2h-1zM167,284h2v2h-2zM171,157h1v1h-1zM220,393h1v1h-1zM116,244h1v1h-1zM157,232h1v1h-1zM123,333h1v1h-1zM381,75h1v2h-1zM113,138h1v1h-1zM368,100h1v1h-1zM292,69h1v1h-1zM224,271h1v1h-1zM129,101h1v1h-1zM182,321h1v1h-1zM128,367h1v1h-1zM464,95h2v1h-2zM367,126h1v1h-1zM219,146h1v1h-1zM396,114h1v1h-1zM321,139h1v1h-1zM235,68h2v1h-2zM221,375h2v2h-2zM249,128h2v1h-2zM262,108h1v2h-1zM189,193h1v2h-1zM175,257h1v1h-1zM413,75h2v2h-2zM338,131h1v1h-1zM232,127h2v1h-2zM250,152h1v1h-1zM458,132h1v1h-1zM49,98h1v1h-1zM167,102h1v1h-1zM466,53h1v1h-1zM399,71h1v1h-1zM68,77h1v1h-1zM497,164h1v1h-1zM207,117h1v2h-1zM365,83h1v1h-1zM455,12h1v1h-1zM313,154h1v1h-1zM292,68h1v2h-1zM435,165h1v2h-1zM170,171h1v1h-1zM356,146h2v1h-2zM413,154h2v2h-2zM427,26h1v1h-1zM479,44h1v1h-1zM200,391h2v2h-2zM140,327h1v1h-1zM141,350h1v2h-1zM336,128h1v2h-1zM492,26h1v1h-1zM200,115h2v1h-2zM454,101h2v2h-2zM450,41h1v1h-1zM432,120h1v1h-1zM466,104h1v1h-1zM118,189h1v1h-1zM128,210h2v1h-2zM474,76h1v1h-1zM214,80h1v2h-1zM176,157h1v1h-1zM153,151h2v1h-2zM154,283h2v1h-2zM111,427h1v1h-1zM106,90h1v1h-1zM222,98h1v1h-1zM389,110h1v1h-1zM225,432h1v1h-1zM270,160h2v1h-2zM18,95h1v1h-1zM145,393h2v1h-2zM509,18h2v2h-2zM147,71h1v1h-1zM339,77h1v1h-1zM191,402h1v1h-1zM93,72h1v1h-1zM223,110h1v1h-1zM460,163h1v2h-1zM475,93h1v1h-1zM390,38h1v1h-1zM355,81h1v1h-1zM478,52h2v2h-2zM386,90h1v1h-1zM126,98h1v2h-1zM211,93h1v1h-1zM145,301h1v1h-1zM212,309h1v1h-1zM472,50h2v2h-2zM24,87h1v1h-1zM374,159h1v2h-1zM368,128h1v2h-1zM129,405h1v1h-1zM171,405h2v2h-2zM110,234h1v1h-1zM227,269h1v1h-1zM150,344h1v1h-1zM271,115h2v2h-2zM284,135h1v1h-1zM118,205h1v1h-1zM192,293h1v2h-1zM415,107h1v2h-1zM197,124h1v1h-1zM169,434h1v1h-1zM350,114h1v1h-1zM108,346h1v1h-1zM208,88h1v1h-1zM471,290h1v2h-1zM518,362h1v2h-1zM492,301h1v2h-1zM585,464h1v1h-1zM489,396h1v1h-1zM526,386h1v1h-1zM468,507h1v1h-1zM551,341h1v1h-1zM494,490h1v1h-1zM483,405h2v1h-2zM502,494h1v1h-1zM706,300h2v1h-2zM564,360h1v1h-1zM453,362h1v1h-1zM592,282h1v1h-1zM520,286h1v1h-1zM545,385h1v2h-1zM523,493h2v2h-2zM557,404h2v1h-2zM508,411h1v1h-1zM582,358h1v2h-1zM484,333h1v1h-1zM532,398h2v1h-2zM477,453h2v1h-2zM733,277h1v1h-1zM564,330h1v1h-1zM516,267h1v2h-1zM480,333h1v1h-1zM509,385h1v1h-1zM470,483h1v1h-1zM512,483h1v1h-1zM458,489h2v1h-2zM497,364h1v1h-1zM561,271h1v1h-1zM495,446h2v1h-2zM615,312h1v1h-1zM634,274h1v2h-1zM738,270h1v1h-1zM488,468h1v1h-1zM501,455h1v1h-1zM499,399h1v1h-1zM765,259h1v2h-1zM416,267h1v1h-1zM459,462h1v1h-1zM559,460h1v1h-1zM577,310h2v2h-2zM492,305h1v2h-1zM721,299h1v1h-1zM583,446h1v1h-1zM437,298h2v1h-2zM553,439h2v1h-2zM536,317h1v2h-1zM531,309h1v1h-1zM578,457h1v1h-1zM548,393h1v2h-1zM505,282h1v2h-1zM567,503h1v1h-1zM520,516h2v1h-2zM638,266h1v1h-1zM567,357h1v2h-1zM536,263h1v1h-1zM486,465h1v2h-1zM470,308h1v1h-1zM571,383h1v2h-1zM471,354h1v1h-1zM497,255h1v1h-1zM638,309h1v1h-1zM484,478h1v1h-1zM563,482h1v1h-1zM490,489h1v1h-1zM542,315h1v1h-1zM553,398h1v1h-1zM512,373h1v1h-1zM527,278h1v1h-1zM623,288h1v2h-1zM475,437h1v1h-1zM482,422h1v2h-1zM578,503h1v2h-1zM658,310h1v1h-1zM572,295h1v1h-1zM490,482h1v1h-1zM733,283h1v2h-1zM496,352h2v1h-2zM570,338h1v1h-1zM492,431h1v2h-1zM538,343h1v1h-1zM550,325h1v2h-1zM537,497h1v1h-1zM580,378h1v1h-1zM491,310h2v1h-2zM433,255h1v2h-1zM703,293h2v2h-2zM550,350h2v2h-2zM483,318h1v1h-1zM510,480h2v2h-2zM549,381h1v1h-1zM543,451h1v1h-1zM519,456h2v1h-2zM463,254h2v1h-2zM494,324h1v2h-1zM539,434h1v1h-1zM721,303h1v1h-1zM546,496h2v2h-2zM458,268h1v1h-1zM478,446h1v1h-1zM694,290h1v1h-1zM495,404h1v2h-1zM497,312h1v1h-1zM531,320h1v1h-1zM510,271h1v1h-1zM470,485h1v1h-1zM549,469h1v1h-1zM474,417h2v1h-2zM498,505h1v2h-1zM727,267h1v1h-1zM486,501h1v2h-1zM509,394h1v2h-1zM545,441h1v1h-1zM397,288h1v2h-1zM511,268h1v1h-1zM493,308h1v1h-1zM411,286h1v1h-1zM460,279h1v1h-1zM525,367h1v2h-1zM582,360h1v1h-1zM402,297h1v1h-1zM571,505h1v2h-1zM699,269h1v1h-1zM736,265h2v1h-2zM607,281h1v2h-1zM538,312h2v1h-2zM587,259h1v2h-1zM500,263h1v1h-1zM511,450h2v2h-2zM435,301h1v1h-1zM488,469h1v1h-1zM467,326h1v1h-1zM759,268h1v1h-1zM461,341h1v1h-1zM707,282h1v2h-1zM569,383h1v1h-1zM536,472h1v1h-1zM641,307h1v1h-1zM681,297h2v2h-2zM491,343h2v1h-2zM420,306h1v1h-1zM683,304h1v1h-1zM553,473h1v1h-1zM565,388h1v1h-1zM579,282h1v1h-1zM751,271h1v1h-1zM562,267h1v1h-1zM499,370h1v1h-1zM535,411h1v2h-1zM552,343h2v1h-2zM599,277h1v1h-1zM645,292h1v1h-1zM458,387h1v1h-1zM544,428h1v1h-1zM581,475h2v2h-2zM531,476h1v1h-1zM526,395h2v1h-2zM510,346h1v1h-1zM458,278h1v1h-1zM459,418h1v2h-1zM702,312h1v2h-1zM405,280h1v1h-1zM540,331h1v1h-1zM551,493h1v1h-1zM506,451h1v1h-1zM532,367h1v2h-1zM528,367h1v1h-1zM477,277h1v1h-1zM512,381h1v2h-1zM617,278h2v1h-2zM507,415h2v1h-2zM512,385h2v1h-2zM414,275h1v1h-1zM478,318h1v1h-1zM450,292h1v1h-1zM634,256h1v1h-1zM520,420h1v1h-1zM562,369h1v2h-1zM514,449h1v1h-1zM547,493h1v1h-1zM579,437h1v2h-1zM456,409h1v1h-1zM524,294h1v2h-1zM540,406h1v1h-1zM548,262h1v1h-1zM536,445h1v1h-1zM577,313h2v1h-2zM526,293h1v1h-1zM578,371h1v1h-1zM476,304h2v1h-2zM530,508h1v1h-1zM459,491h1v1h-1zM489,286h1v1h-1zM496,327h1v1h-1zM722,293h2v1h-2zM530,464h1v2h-1zM564,351h1v1h-1zM481,508h1v1h-1zM467,350h1v1h-1zM419,258h2v1h-2zM589,271h2v1h-2zM724,278h1v2h-1zM466,438h1v1h-1zM520,441h1v1h-1zM744,273h2v1h-2zM754,259h1v1h-1zM403,259h1v1h-1zM520,344h1v1h-1zM492,409h2v1h-2zM549,305h1v1h-1zM563,310h1v1h-1zM483,428h1v1h-1zM609,256h1v1h-1zM671,305h1v1h-1zM597,271h2v1h-2zM560,262h2v1h-2zM533,347h1v2h-1zM748,269h1v1h-1zM581,353h1v2h-1zM737,289h1v1h-1zM743,288h1v1h-1zM466,287h1v2h-1zM532,447h1v1h-1zM746,269h1v1h-1zM648,283h1v1h-1zM560,468h1v1h-1zM424,311h1v1h-1zM648,300h1v1h-1zM504,465h2v2h-2zM577,261h1v2h-1zM761,257h2v2h-2zM418,257h1v1h-1zM456,514h1v1h-1zM673,295h1v2h-1zM555,409h1v1h-1zM570,402h1v1h-1zM544,385h2v2h-2zM634,267h1v1h-1zM499,370h1v1h-1zM489,495h2v1h-2zM554,401h1v2h-1zM716,291h1v1h-1zM506,431h1v1h-1zM460,471h1v1h-1zM571,425h1v1h-1zM760,293h1v1h-1zM464,438h1v1h-1zM558,361h1v1h-1zM538,346h1v1h-1zM581,516h1v1h-1zM512,324h1v1h-1zM503,508h2v1h-2zM519,326h2v2h-2zM419,276h2v1h-2zM571,452h1v1h-1zM469,408h1v2h-1zM517,269h1v1h-1zM505,483h2v2h-2zM475,500h1v1h-1zM488,397h1v1h-1zM465,458h1v1h-1zM463,513h2v1h-2zM494,466h1v1h-1zM565,367h1v2h-1zM467,319h1v1h-1zM486,405h1v1h-1zM538,452h1v1h-1zM472,317h1v1h-1zM520,256h2v2h-2zM466,259h1v1h-1zM562,349h1v1h-1zM564,336h2v1h-2zM548,332h1v2h-1zM726,270h1v1h-1zM480,414h2v2h-2zM557,427h1v1h-1zM522,443h1v2h-1zM523,366h1v2h-1zM477,358h1v2h-1zM541,410h1v1h-1zM516,447h1v1h-1zM579,382h1v1h-1zM431,263h1v2h-1zM526,456h1v1h-1zM507,438h1v1h-1zM537,324h1v1h-1zM546,464h2v1h-2zM471,257h1v1h-1zM577,439h1v1h-1zM716,307h1v1h-1zM520,488h1v2h-1zM657,258h2v1h-2zM478,310h2v1h-2zM522,369h1v1h-1zM648,297h1v1h-1zM475,490h1v2h-1zM531,312h1v1h-1zM747,257h1v1h-1zM578,395h1v1h-1zM602,262h1v1h-1zM477,256h1v1h-1zM506,254h1v1h-1zM550,297h1v1h-1zM455,276h2v1h-2zM511,491h2v2h-2zM549,356h2v1h-2zM570,394h2v1h-2zM501,330h1v1h-1zM637,261h1v1h-1zM568,351h1v1h-1zM543,400h2v1h-2zM766,271h1v1h-1zM599,265h1v1h-1zM568,494h1v1h-1zM485,334h1v1h-1zM760,300h1v1h-1zM678,266h1v1h-1zM508,489h1v2h-1zM662,300h1v1h-1zM484,326h1v1h-1zM419,301h1v2h-1zM503,479h1v2h-1zM615,283h1v1h-1zM540,506h2v1h-2zM470,253h2v1h-2zM562,382h1v1h-1zM478,368h1v1h-1zM449,294h1v1h-1zM484,426h1v1h-1zM662,288h1v1h-1zM616,312h1v1h-1zM563,369h1v1h-1zM536,453h1v2h-1zM765,258h1v1h-1zM553,464h1v1h-1zM504,454h1v1h-1zM522,318h2v1h-2zM530,414h2v1h-2zM606,286h1v2h-1zM515,415h1v1h-1zM562,483h1v1h-1zM464,387h2v1h-2zM537,415h1v1h-1zM517,325h2v1h-2zM481,381h1v2h-1zM513,358h1v2h-1zM754,284h2v1h-2zM467,433h1v1h-1zM532,503h1v2h-1zM490,374h1v1h-1zM573,277h2v1h-2zM714,294h1v1h-1zM534,426h1v2h-1zM573,322h2v1h-2zM585,266h1v1h-1zM503,374h2v2h-2zM543,380h1v1h-1zM544,272h1v2h-1zM561,330h1v2h-1zM727,308h1v1h-1zM443,287h1v1h-1zM474,371h2v1h-2zM499,263h1v2h-1zM570,495h1v1h-1zM736,298h1v1h-1z" fill="#555"/>
<polygon points="12,61.4 376,61.4 376,6.3 513,6.3 513,171.3 231.3,171.3 231.3,446 93.3,446 93.3,127 12,127" fill="none" stroke="#1a1a1a" stroke-width="1.3"/>
<polygon points="394.3,250.5 769.7,250.5 769.7,316.1 588.6,316.1 588.6,522 450.7,522 450.7,316.1 394.3,316.1" fill="none" stroke="#1a1a1a" stroke-width="1.3"/>
<rect x="10.6" y="91.0" width="3" height="5.75" fill="#fff"/>
<path d="M12.1,53V91.0M12.4,91.58L17.39,93.19M7.16,95.37C9.57,96.41 11.41,95.25 13.25,94.33S16.12,93.19 17.62,93.19M12.1,96.75V134.4" stroke="#1a1a1a" stroke-width="1.4" fill="none"/>
<rect x="768.3" y="280.6" width="3" height="5.0" fill="#fff"/>
<path d="M769.8,242.8V280.6M770.0999999999999,281.10L774.40,282.50M765.50,284.40C767.60,285.30 769.20,284.30 770.80,283.50S773.30,282.50 774.60,282.50M769.8,285.60V323.8" stroke="#1a1a1a" stroke-width="1.4" fill="none"/>
<rect x="392.9" y="280.8" width="3" height="5.0" fill="#fff"/>
<path d="M394.4,250.5V280.8M394.7,281.30L399.00,282.70M390.10,284.60C392.20,285.50 393.80,284.50 395.40,283.70S397.90,282.70 399.20,282.70M394.4,285.80V316.1" stroke="#1a1a1a" stroke-width="1.4" fill="none"/>
<rect x="409.4" y="85.2" width="100.10000000000002" height="6.9" fill="#e0fcf6"/><rect x="409.9" y="85.9" width="99.60000000000002" height="2.8" fill="#c2f5dc"/><path d="M409.4,85.2H509.5" stroke="#6fd8bc" stroke-width="1.1"/><path d="M409.4,92.0H509.5" stroke="#86d2c8" stroke-width="1.1"/><path d="M409.79999999999995,85.2V92.0" stroke="#86d2c8" stroke-width="0.8"/><line x1="400.4" y1="88.5" x2="514.0" y2="88.5" stroke="#74c088" stroke-width="0.9" stroke-dasharray="5,1.2,1,1.2"/>
<rect x="409.4" y="140.6" width="100.10000000000002" height="6.9" fill="#e0fcf6"/><rect x="409.9" y="141.3" width="99.60000000000002" height="2.8" fill="#c2f5dc"/><path d="M409.4,140.6H509.5" stroke="#6fd8bc" stroke-width="1.1"/><path d="M409.4,147.4H509.5" stroke="#86d2c8" stroke-width="1.1"/><path d="M409.79999999999995,140.6V147.4" stroke="#86d2c8" stroke-width="0.8"/><line x1="400.4" y1="143.9" x2="514.0" y2="143.9" stroke="#74c088" stroke-width="0.9" stroke-dasharray="5,1.2,1,1.2"/>
<rect x="509.2" y="71.3" width="4.199999999999989" height="88.3" fill="#effffb"/><path d="M509.7,71.3V159.6" stroke="#a8f2e2" stroke-width="1.2"/><path d="M513.1,71.3V159.6" stroke="#6fcfb5" stroke-width="1.2"/><path d="M509.2,71.6H513.4M509.2,159.29999999999998H513.4" stroke="#8fe0cf" stroke-width="0.8"/>
<path d="M509.6,82.0Q507.6,86.5 504.8,88.5Q507.6,90.5 509.6,95.0Z" fill="#22ee95"/>
<path d="M509.6,137.4Q507.6,141.9 504.8,143.9Q507.6,145.9 509.6,150.4Z" fill="#22ee95"/>
<rect x="128" y="184.0" width="98.5" height="6.9" fill="#e0fcf6"/><rect x="128.5" y="184.70000000000002" width="98.0" height="2.8" fill="#c2f5dc"/><path d="M128,184.0H226.5" stroke="#6fd8bc" stroke-width="1.1"/><path d="M128,190.8H226.5" stroke="#86d2c8" stroke-width="1.1"/><path d="M128.4,184.0V190.8" stroke="#86d2c8" stroke-width="0.8"/><line x1="117" y1="187.3" x2="231.0" y2="187.3" stroke="#74c088" stroke-width="0.9" stroke-dasharray="5,1.2,1,1.2"/>
<rect x="128" y="239.0" width="98.5" height="6.9" fill="#e0fcf6"/><rect x="128.5" y="239.70000000000002" width="98.0" height="2.8" fill="#c2f5dc"/><path d="M128,239.0H226.5" stroke="#6fd8bc" stroke-width="1.1"/><path d="M128,245.8H226.5" stroke="#86d2c8" stroke-width="1.1"/><path d="M128.4,239.0V245.8" stroke="#86d2c8" stroke-width="0.8"/><line x1="117" y1="242.3" x2="231.0" y2="242.3" stroke="#74c088" stroke-width="0.9" stroke-dasharray="5,1.2,1,1.2"/>
<rect x="226.3" y="171.3" width="5.199999999999989" height="87.89999999999998" fill="#effffb"/><path d="M226.8,171.3V259.2" stroke="#a8f2e2" stroke-width="1.2"/><path d="M231.2,171.3V259.2" stroke="#6fcfb5" stroke-width="1.2"/><path d="M226.3,171.60000000000002H231.5M226.3,258.9H231.5" stroke="#8fe0cf" stroke-width="0.8"/>
<path d="M226.5,181.8Q224.5,185.3 222.9,187.3Q224.5,189.3 226.5,192.8Z" fill="#22ee95"/>
<path d="M226.5,236.8Q224.5,240.3 222.9,242.3Q224.5,244.3 226.5,247.8Z" fill="#22ee95"/>
<rect x="128" y="360.3" width="98.5" height="6.9" fill="#e0fcf6"/><rect x="128.5" y="361.0" width="98.0" height="2.8" fill="#c2f5dc"/><path d="M128,360.3H226.5" stroke="#6fd8bc" stroke-width="1.1"/><path d="M128,367.1H226.5" stroke="#86d2c8" stroke-width="1.1"/><path d="M128.4,360.3V367.1" stroke="#86d2c8" stroke-width="0.8"/><line x1="117" y1="363.6" x2="231.0" y2="363.6" stroke="#74c088" stroke-width="0.9" stroke-dasharray="5,1.2,1,1.2"/>
<rect x="128" y="415.4" width="98.5" height="6.9" fill="#e0fcf6"/><rect x="128.5" y="416.09999999999997" width="98.0" height="2.8" fill="#c2f5dc"/><path d="M128,415.4H226.5" stroke="#6fd8bc" stroke-width="1.1"/><path d="M128,422.2H226.5" stroke="#86d2c8" stroke-width="1.1"/><path d="M128.4,415.4V422.2" stroke="#86d2c8" stroke-width="0.8"/><line x1="117" y1="418.7" x2="231.0" y2="418.7" stroke="#74c088" stroke-width="0.9" stroke-dasharray="5,1.2,1,1.2"/>
<rect x="226.3" y="346.3" width="5.199999999999989" height="88.19999999999999" fill="#effffb"/><path d="M226.8,346.3V434.5" stroke="#a8f2e2" stroke-width="1.2"/><path d="M231.2,346.3V434.5" stroke="#6fcfb5" stroke-width="1.2"/><path d="M226.3,346.6H231.5M226.3,434.2H231.5" stroke="#8fe0cf" stroke-width="0.8"/>
<path d="M226.5,358.1Q224.5,361.6 222.9,363.6Q224.5,365.6 226.5,369.1Z" fill="#22ee95"/>
<path d="M226.5,413.2Q224.5,416.7 222.9,418.7Q224.5,420.7 226.5,424.2Z" fill="#22ee95"/>
<path d="M231.4,180V197" stroke="#1a1a1a" stroke-width="1.3"/>
<rect x="613.7" y="250.6" width="88.2" height="5" fill="#effffb"/>
<path d="M613.7,255.4H701.9" stroke="#78e2c8" stroke-width="1.1"/>
<path d="M614,250.6V255.4M701.6,250.6V255.4" stroke="#9eeede" stroke-width="0.8"/>
<path d="M626.9,255.9V289.8Q626.9,293 630.1,293Q633.3000000000001,293 633.3000000000001,289.8V255.9Z" fill="#e0fcf6" stroke="#7fe2d2" stroke-width="1"/><rect x="628.7" y="255.9" width="2.8" height="31.099999999999994" fill="#c9f4cf"/><circle cx="630.1" cy="289.5" r="1.7" fill="none" stroke="#6fd6c0" stroke-width="0.8"/><line x1="630.1" y1="251.4" x2="630.1" y2="301" stroke="#74c088" stroke-width="0.9" stroke-dasharray="5,1.2,1,1.2"/><path d="M624.6,255.9Q628.1,256.9 630.1,259.9Q632.1,256.9 635.6,255.9Z" fill="#22ee95"/>
<path d="M682.0999999999999,255.9V289.8Q682.0999999999999,293 685.3,293Q688.5,293 688.5,289.8V255.9Z" fill="#e0fcf6" stroke="#7fe2d2" stroke-width="1"/><rect x="683.9" y="255.9" width="2.8" height="31.099999999999994" fill="#c9f4cf"/><circle cx="685.3" cy="289.5" r="1.7" fill="none" stroke="#6fd6c0" stroke-width="0.8"/><line x1="685.3" y1="251.4" x2="685.3" y2="301" stroke="#74c088" stroke-width="0.9" stroke-dasharray="5,1.2,1,1.2"/><path d="M679.8,255.9Q683.3,256.9 685.3,259.9Q687.3,256.9 690.8,255.9Z" fill="#22ee95"/>
<line x1="600" y1="250.5" x2="720" y2="250.5" stroke="#1a1a1a" stroke-width="1.3"/>
<line x1="535.4" y1="4.3" x2="535.4" y2="161.5" stroke="#1a1a1a" stroke-width="1.1"/><line x1="523.5" y1="6.3" x2="543.3" y2="6.3" stroke="#1a1a1a" stroke-width="1.1"/><path d="M533.8,7.9L537.0,4.699999999999999" stroke="#1a1a1a" stroke-width="1.7"/><line x1="523.5" y1="71.4" x2="543.3" y2="71.4" stroke="#1a1a1a" stroke-width="1.1"/><path d="M533.8,73.0L537.0,69.80000000000001" stroke="#1a1a1a" stroke-width="1.7"/><line x1="523.5" y1="159.6" x2="543.3" y2="159.6" stroke="#1a1a1a" stroke-width="1.1"/><path d="M533.8,161.2L537.0,158.0" stroke="#1a1a1a" stroke-width="1.7"/><line x1="253.5" y1="169.7" x2="253.5" y2="260.8" stroke="#1a1a1a" stroke-width="1.1"/><path d="M251.9,172.9L255.1,169.70000000000002" stroke="#1a1a1a" stroke-width="1.7"/><path d="M251.9,260.8L255.1,257.59999999999997" stroke="#1a1a1a" stroke-width="1.7"/><line x1="240.4" y1="259.2" x2="261.5" y2="259.2" stroke="#1a1a1a" stroke-width="1.1"/><line x1="253.4" y1="345" x2="253.4" y2="448.3" stroke="#1a1a1a" stroke-width="1.1"/><line x1="240.5" y1="346.8" x2="261.4" y2="346.8" stroke="#1a1a1a" stroke-width="1.1"/><path d="M251.8,348.40000000000003L255.0,345.2" stroke="#1a1a1a" stroke-width="1.7"/><line x1="240.5" y1="434.9" x2="261.4" y2="434.9" stroke="#1a1a1a" stroke-width="1.1"/><path d="M251.8,436.5L255.0,433.29999999999995" stroke="#1a1a1a" stroke-width="1.7"/><line x1="240.5" y1="446.4" x2="261.4" y2="446.4" stroke="#1a1a1a" stroke-width="1.1"/><path d="M251.8,448.0L255.0,444.79999999999995" stroke="#1a1a1a" stroke-width="1.7"/><line x1="231.3" y1="196.2" x2="513" y2="196.2" stroke="#1a1a1a" stroke-width="1.1"/><line x1="231.3" y1="180" x2="231.3" y2="197" stroke="#1a1a1a" stroke-width="1.2"/><line x1="512.9" y1="180.7" x2="512.9" y2="204.2" stroke="#1a1a1a" stroke-width="1.1"/><path d="M511.29999999999995,197.79999999999998L514.5,194.6" stroke="#1a1a1a" stroke-width="1.7"/><path d="M229.70000000000002,197.79999999999998L232.9,194.6" stroke="#1a1a1a" stroke-width="1.7"/><line x1="511" y1="108.5" x2="599.4" y2="108.5" stroke="#1a1a1a" stroke-width="1.1"/><path d="M511.2,107.7L520.7,107L520.7,110L511.2,109.2Z" fill="#1a1a1a"/><line x1="231.3" y1="231.9" x2="316.8" y2="231.9" stroke="#1a1a1a" stroke-width="1.1"/><path d="M231.8,231.1L240.5,230.4L240.5,233.4L231.8,232.7Z" fill="#1a1a1a"/><line x1="231.3" y1="410.3" x2="316.8" y2="410.3" stroke="#1a1a1a" stroke-width="1.1"/><path d="M231.8,409.5L240.5,408.8L240.5,411.8L231.8,411.1Z" fill="#1a1a1a"/><line x1="613.6" y1="234" x2="701.9" y2="234" stroke="#1a1a1a" stroke-width="1.1"/><line x1="613.6" y1="225.9" x2="613.6" y2="243.1" stroke="#1a1a1a" stroke-width="1.1"/><line x1="701.9" y1="225.9" x2="701.9" y2="243.1" stroke="#1a1a1a" stroke-width="1.1"/><path d="M612.0,235.6L615.2,232.4" stroke="#1a1a1a" stroke-width="1.7"/><path d="M700.3,235.6L703.5,232.4" stroke="#1a1a1a" stroke-width="1.7"/><polyline points="587.8,209.6 642.3,209.6 642.3,250" fill="none" stroke="#1a1a1a" stroke-width="1.1"/><path d="M642.3,250.3L640.6,242L644,242Z" fill="#1a1a1a"/>
<g style="filter:grayscale(1)"><text transform="translate(531.4,45.2) rotate(-90)" font-size="14.0" textLength="13.6" lengthAdjust="spacingAndGlyphs" fill="#1a1a1a" stroke="#1a1a1a" stroke-width="0.45">120</text><text transform="translate(531.7,121.3) rotate(-90)" font-size="14.8" textLength="12.0" lengthAdjust="spacingAndGlyphs" fill="#1a1a1a" stroke="#1a1a1a" stroke-width="0.45">160</text><text transform="translate(249.9,220.3) rotate(-90)" font-size="15.4" textLength="11.8" lengthAdjust="spacingAndGlyphs" fill="#1a1a1a" stroke="#1a1a1a" stroke-width="0.45">160</text><text transform="translate(249.9,397.6) rotate(-90)" font-size="15.9" textLength="13.6" lengthAdjust="spacingAndGlyphs" fill="#1a1a1a" stroke="#1a1a1a" stroke-width="0.45">160</text><text transform="translate(249.6,445.1) rotate(-90)" font-size="15.0" textLength="10.2" lengthAdjust="spacingAndGlyphs" fill="#1a1a1a" stroke="#1a1a1a" stroke-width="0.45">20</text><text x="651.3" y="230.7" font-size="15.7" textLength="12.9" lengthAdjust="spacingAndGlyphs" fill="#1a1a1a" stroke="#1a1a1a" stroke-width="0.45">160</text></g>
<g style="filter:grayscale(1)">
<text x="556" y="105.7" font-size="13.72" textLength="18.60" lengthAdjust="spacingAndGlyphs" fill="#1a1a1a" stroke="#1a1a1a" stroke-width="0.65">MJ01</text><path d="M576.40,97.70H581.30M576.90,99.80h2.06v3h-2.06zM576.40,105.10L579.09,103.30M579.63,95.10C579.63,99.40 580.32,102.90 581.30,105.70M578.46,105.50L581.30,99.90M580.56,95.30l0.7,0.9" stroke="#1a1a1a" stroke-width="1.3" fill="none"/><text x="581.6" y="105.7" font-size="13.72" textLength="17.70" lengthAdjust="spacingAndGlyphs" fill="#1a1a1a" stroke="#1a1a1a" stroke-width="0.65">MJ02</text>
<text x="272.8" y="228.6" font-size="13.44" textLength="18.50" lengthAdjust="spacingAndGlyphs" fill="#1a1a1a" stroke="#1a1a1a" stroke-width="0.65">MJ01</text><path d="M292.60,220.80H298.00M293.10,222.90h2.27v3h-2.27zM292.60,228.00L295.57,226.20M296.16,218.20C296.16,222.50 296.92,226.00 298.00,228.60M294.87,228.40L298.00,223.00M297.19,218.40l0.7,0.9" stroke="#1a1a1a" stroke-width="1.3" fill="none"/><text x="298.4" y="228.6" font-size="13.44" textLength="18.50" lengthAdjust="spacingAndGlyphs" fill="#1a1a1a" stroke="#1a1a1a" stroke-width="0.65">MJ02</text>
<text x="272.8" y="408.1" font-size="14.13" textLength="18.50" lengthAdjust="spacingAndGlyphs" fill="#1a1a1a" stroke="#1a1a1a" stroke-width="0.65">MJ01</text><path d="M292.60,399.80H298.00M293.10,401.90h2.27v3h-2.27zM292.60,407.50L295.57,405.70M296.16,397.20C296.16,401.50 296.92,405.00 298.00,408.10M294.87,407.90L298.00,402.00M297.19,397.40l0.7,0.9" stroke="#1a1a1a" stroke-width="1.3" fill="none"/><text x="298.4" y="408.1" font-size="14.13" textLength="18.50" lengthAdjust="spacingAndGlyphs" fill="#1a1a1a" stroke="#1a1a1a" stroke-width="0.65">MJ02</text>
<text x="587.3" y="207" font-size="13.99" textLength="20.80" lengthAdjust="spacingAndGlyphs" fill="#1a1a1a" stroke="#1a1a1a" stroke-width="0.65">MJ03</text><path d="M608.50,198.80H613.30M609.00,200.90h2.02v3h-2.02zM608.50,206.40L611.14,204.60M611.67,196.20C611.67,200.50 612.34,204.00 613.30,207.00M610.52,206.80L613.30,201.00M612.58,196.40l0.7,0.9" stroke="#1a1a1a" stroke-width="1.3" fill="none"/><text x="613.6" y="207" font-size="13.99" textLength="18.40" lengthAdjust="spacingAndGlyphs" fill="#1a1a1a" stroke="#1a1a1a" stroke-width="0.65">MJ04</text>
</g>
<path d="M360.4,183.3l0.8,0.9M360.3,186.2V192.3l1,-1M361.7,184.4H363.9M361.9,186.6H363.7M361.7,188.7H363.9M362.8,183.3V193.5M366.2,184.2H370.5M367.1,185.6l0.5,1.3M369.6,185.6l-0.5,1.3M366.2,188.4H370.5M368.35,184.2V193.5M370.6,183.6H375.2M371.1,185.6H374.8V193.3H371.1ZM372.4,185.6V193.3M373.6,185.6V193.3M371.1,188.3H374.8M371.1,190.8H374.8M375.9,184.2H379.3V187.6H375.9M375.9,184.2V189C375.9,191 375.7,192.3 375.3,193.3M377.3,187.8L379.8,193.3M381,186.2H384.7M383.6,182.8V192.8l-1,0.6M381.9,188.5l0.8,1.3" stroke="#1a1a1a" stroke-width="1.05" fill="none"/>
</svg></body></html>
